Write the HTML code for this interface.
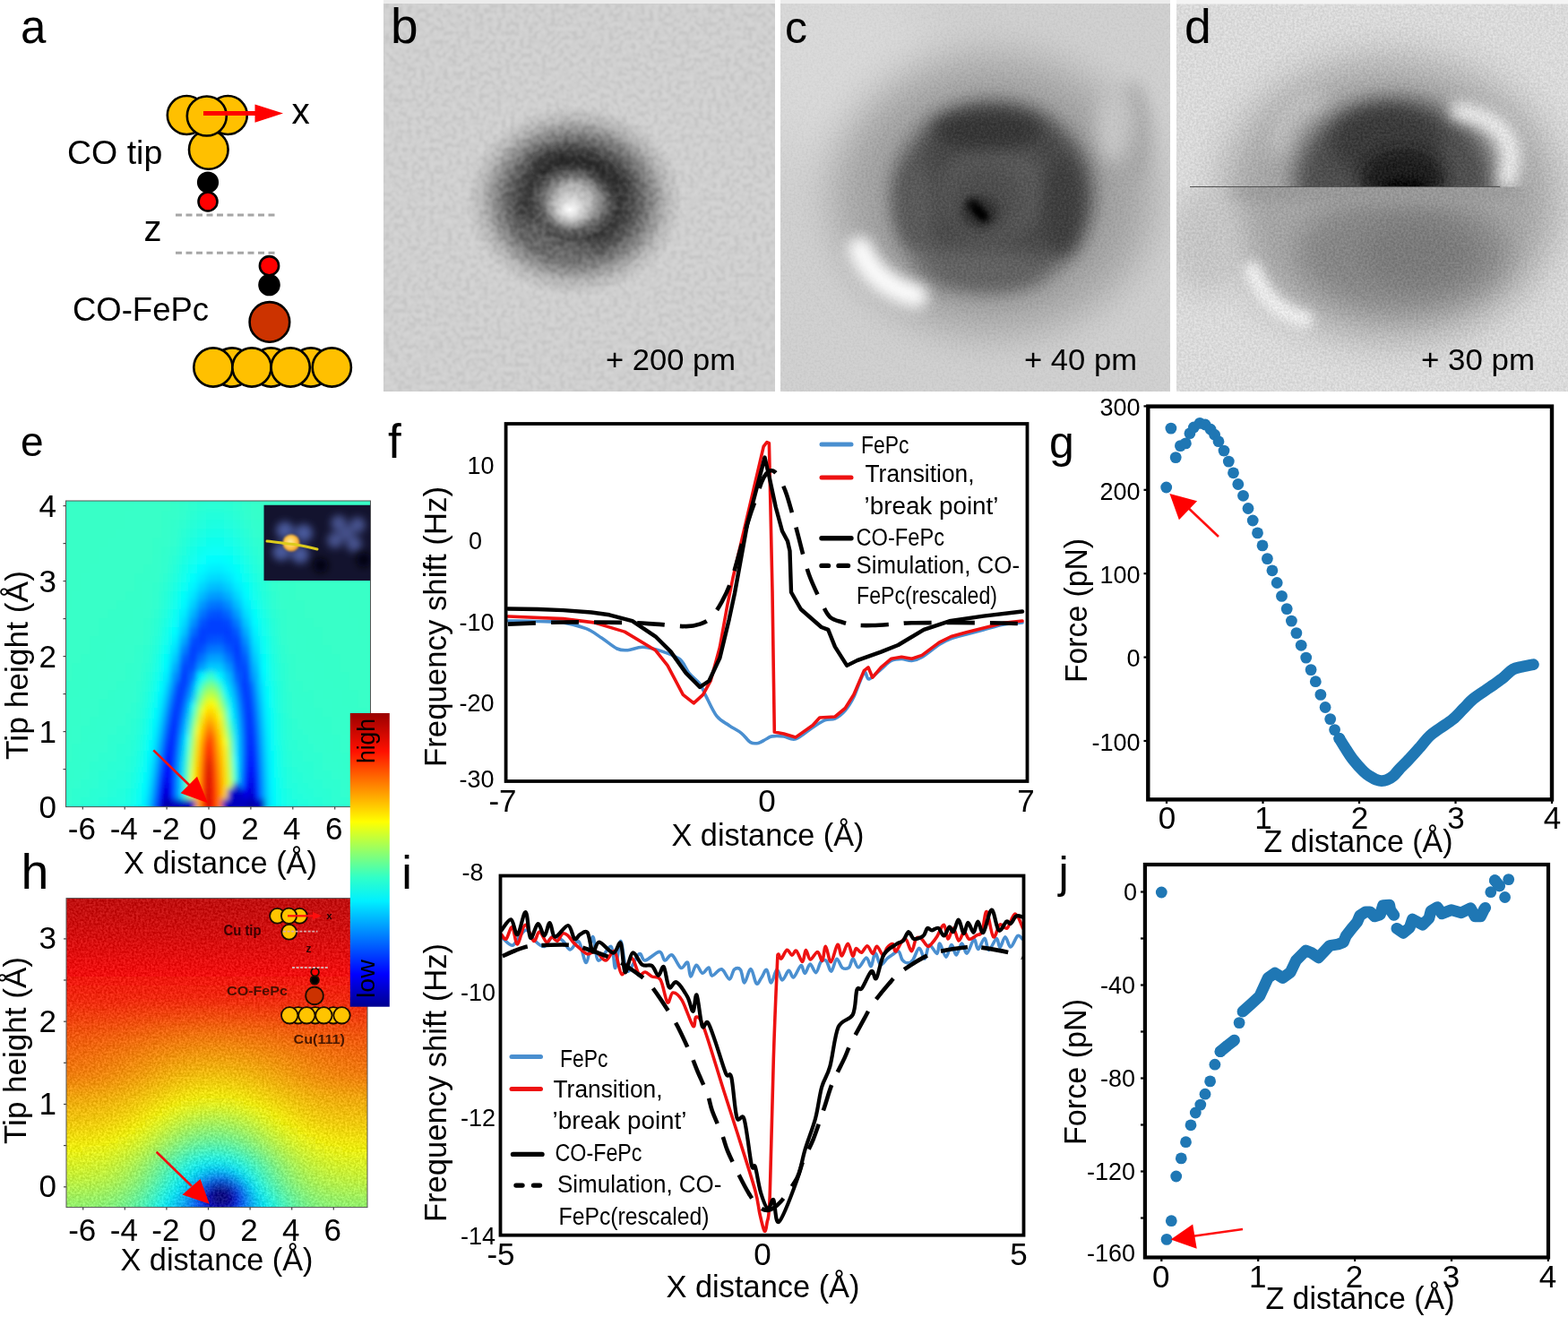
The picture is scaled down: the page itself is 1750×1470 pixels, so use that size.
<!DOCTYPE html>
<html><head><meta charset="utf-8"><title>Figure</title>
<style>
html,body{margin:0;padding:0;background:#fff;}
svg{display:block;}
text{font-family:"Liberation Sans", Arial, sans-serif;}
.hc6 rect{width:6px;height:6px;}
.hc12 rect{width:12px;height:12px;}
.hc10 rect{width:10px;height:10px;}
</style></head>
<body>
<svg width="1750" height="1470" viewBox="0 0 1750 1470">
<rect width="1750" height="1470" fill="#fff"/>
<defs>
<filter id="gn" x="0" y="0" width="100%" height="100%" color-interpolation-filters="sRGB">
<feTurbulence type="fractalNoise" baseFrequency="0.42" numOctaves="2" seed="3"/>
<feColorMatrix type="matrix" values="2.2 0 0 0 -0.6  2.2 0 0 0 -0.6  2.2 0 0 0 -0.6  0 0 0 0 1"/>
</filter>
<filter id="gnb" x="0" y="0" width="100%" height="100%" color-interpolation-filters="sRGB">
<feTurbulence type="fractalNoise" baseFrequency="0.2" numOctaves="2" seed="5"/>
<feColorMatrix type="matrix" values="2.6 0 0 0 -0.8  2.6 0 0 0 -0.8  2.6 0 0 0 -0.8  0 0 0 0 1"/>
<feGaussianBlur stdDeviation="0.8"/>
</filter>
<filter id="gn2" x="0" y="0" width="100%" height="100%" color-interpolation-filters="sRGB">
<feTurbulence type="fractalNoise" baseFrequency="0.12 0.35" numOctaves="2" seed="9"/>
<feColorMatrix type="matrix" values="2 0 0 0 -0.5  2 0 0 0 -0.5  2 0 0 0 -0.5  0 0 0 0 1"/>
</filter>
<filter id="b07" filterUnits="userSpaceOnUse" x="0" y="0" width="1750" height="1470"><feGaussianBlur stdDeviation="0.7"/></filter>
<filter id="b1" filterUnits="userSpaceOnUse" x="0" y="0" width="1750" height="1470"><feGaussianBlur stdDeviation="1"/></filter>
<filter id="b2" filterUnits="userSpaceOnUse" x="0" y="0" width="1750" height="1470"><feGaussianBlur stdDeviation="2"/></filter>
<filter id="b3" filterUnits="userSpaceOnUse" x="0" y="0" width="1750" height="1470"><feGaussianBlur stdDeviation="3"/></filter>
<filter id="b7" filterUnits="userSpaceOnUse" x="0" y="0" width="1750" height="1470"><feGaussianBlur stdDeviation="7"/></filter>
<filter id="b4" filterUnits="userSpaceOnUse" x="0" y="0" width="1750" height="1470"><feGaussianBlur stdDeviation="4"/></filter>
<filter id="b6" filterUnits="userSpaceOnUse" x="0" y="0" width="1750" height="1470"><feGaussianBlur stdDeviation="6"/></filter>
<filter id="b8" filterUnits="userSpaceOnUse" x="0" y="0" width="1750" height="1470"><feGaussianBlur stdDeviation="8"/></filter>
<filter id="b10" filterUnits="userSpaceOnUse" x="0" y="0" width="1750" height="1470"><feGaussianBlur stdDeviation="10"/></filter>
<filter id="b12" filterUnits="userSpaceOnUse" x="0" y="0" width="1750" height="1470"><feGaussianBlur stdDeviation="12"/></filter>
<filter id="b16" filterUnits="userSpaceOnUse" x="0" y="0" width="1750" height="1470"><feGaussianBlur stdDeviation="16"/></filter>
<filter id="b24" filterUnits="userSpaceOnUse" x="0" y="0" width="1750" height="1470"><feGaussianBlur stdDeviation="24"/></filter>
<filter id="b32" filterUnits="userSpaceOnUse" x="0" y="0" width="1750" height="1470"><feGaussianBlur stdDeviation="32"/></filter>
<linearGradient id="jet" x1="0" y1="1" x2="0" y2="0">
<stop offset="0" stop-color="#00008f"/>
<stop offset="0.11" stop-color="#0000ff"/>
<stop offset="0.36" stop-color="#00f0ff"/>
<stop offset="0.44" stop-color="#30ffc8"/>
<stop offset="0.63" stop-color="#ffff00"/>
<stop offset="0.87" stop-color="#ff1000"/>
<stop offset="1" stop-color="#9a0000"/>
</linearGradient>
<clipPath id="cb"><rect x="428" y="0" width="437" height="437"/></clipPath>
<clipPath id="cc"><rect x="871" y="0" width="435" height="437"/></clipPath>
<clipPath id="cd"><rect x="1313" y="0" width="437" height="437"/></clipPath>
<clipPath id="ce"><rect x="73.5" y="559" width="340" height="341.6"/></clipPath>
<clipPath id="ch"><rect x="74" y="1002.6" width="336" height="345"/></clipPath>
<clipPath id="cf"><rect x="566" y="475" width="579" height="395"/></clipPath>
<clipPath id="ci"><rect x="560" y="979" width="581" height="398"/></clipPath>
</defs>
<text x="23" y="48" font-size="51">a</text>
<circle cx="232.8" cy="167" r="21.8" fill="#ffc000" stroke="#000" stroke-width="2.6"/>
<circle cx="208.3" cy="128.5" r="21.5" fill="#ffc000" stroke="#000" stroke-width="2.6"/>
<circle cx="254.3" cy="128.5" r="21.5" fill="#ffc000" stroke="#000" stroke-width="2.6"/>
<circle cx="230.8" cy="129.5" r="22" fill="#ffc000" stroke="#000" stroke-width="2.6"/>
<circle cx="232" cy="203.5" r="10.8" fill="#000" stroke="#000" stroke-width="2.6"/>
<circle cx="232" cy="225" r="10.5" fill="#ff0000" stroke="#000" stroke-width="2.6"/>
<g stroke="#a6a6a6" stroke-width="3" stroke-dasharray="7,4.5"><line x1="196" y1="240" x2="308" y2="240"/><line x1="196" y1="282.2" x2="308" y2="282.2"/></g>
<line x1="227" y1="126.6" x2="287" y2="126.6" stroke="#ff0000" stroke-width="5"/>
<polygon points="284.5,116.5 316,126.6 284.5,136.8" fill="#ff0000"/>
<text x="325.5" y="138.4" font-size="40.5">x</text>
<text x="75" y="183.1" font-size="37.5">CO tip</text>
<text x="160.5" y="269.3" font-size="40">z</text>
<circle cx="300.5" cy="318" r="11" fill="#000" stroke="#000" stroke-width="2.6"/>
<circle cx="300.5" cy="296.7" r="10.6" fill="#ff0000" stroke="#000" stroke-width="2.6"/>
<circle cx="259" cy="410" r="21.6" fill="#ffc000" stroke="#000" stroke-width="2.6"/>
<circle cx="302.5" cy="410" r="21.6" fill="#ffc000" stroke="#000" stroke-width="2.6"/>
<circle cx="347" cy="410" r="21.6" fill="#ffc000" stroke="#000" stroke-width="2.6"/>
<circle cx="300.9" cy="359.4" r="22.3" fill="#cc3300" stroke="#000" stroke-width="2.6"/>
<circle cx="237.9" cy="410" r="21.6" fill="#ffc000" stroke="#000" stroke-width="2.6"/>
<circle cx="281" cy="410" r="21.6" fill="#ffc000" stroke="#000" stroke-width="2.6"/>
<circle cx="324.2" cy="410" r="21.6" fill="#ffc000" stroke="#000" stroke-width="2.6"/>
<circle cx="370.3" cy="410" r="21.6" fill="#ffc000" stroke="#000" stroke-width="2.6"/>
<text x="81" y="357.6" font-size="36" textLength="152" lengthAdjust="spacingAndGlyphs">CO-FePc</text>
<defs>
<radialGradient id="gb" cx="641" cy="224" r="112" gradientUnits="userSpaceOnUse" gradientTransform="translate(641 224) scale(1.08 0.95) translate(-641 -224)">
<stop offset="0" stop-color="#d0d0d0"/>
<stop offset="0.17" stop-color="#b0b0b0"/>
<stop offset="0.3" stop-color="#686868"/>
<stop offset="0.41" stop-color="#3a3a3a"/>
<stop offset="0.5" stop-color="#444"/>
<stop offset="0.61" stop-color="#646464"/>
<stop offset="0.74" stop-color="#909090"/>
<stop offset="0.85" stop-color="#b6b6b6"/>
<stop offset="1" stop-color="#cfcfcf"/>
</radialGradient>
<radialGradient id="gbw" cx="0.5" cy="0.5" r="0.5">
<stop offset="0" stop-color="#fff" stop-opacity="1"/>
<stop offset="0.3" stop-color="#f0f0f0" stop-opacity="0.75"/>
<stop offset="1" stop-color="#c0c0c0" stop-opacity="0"/>
</radialGradient>
</defs>
<g clip-path="url(#cb)">
<rect x="428" y="0" width="437" height="437" fill="#d2d2d2"/>
<rect x="428" y="0" width="437" height="437" fill="url(#gb)"/>
<path d="M598,188 Q650,160 692,212" stroke="#1a1a1a" stroke-width="18" fill="none" filter="url(#b8)" opacity="0.6"/><path d="M590,245 Q610,285 660,280" stroke="#9a9a9a" stroke-width="20" fill="none" filter="url(#b8)" opacity="0.45"/>
<ellipse cx="636" cy="234" rx="28" ry="24" fill="url(#gbw)"/>
<rect x="428" y="0" width="437" height="437" filter="url(#gnb)" style="mix-blend-mode:soft-light" opacity="0.26"/>
<rect x="428" y="0" width="437" height="4" fill="#ececec"/>
</g>
<g clip-path="url(#cc)">
<rect x="871" y="0" width="435" height="437" fill="#cfcfcf"/>
<ellipse cx="930" cy="70" rx="110" ry="110" fill="#d8d8d8" filter="url(#b32)"/>
<ellipse cx="1108" cy="218" rx="178" ry="155" fill="#a2a2a2" filter="url(#b24)"/>
<path d="M1262,95 Q1285,150 1262,200" stroke="#a2a2a2" stroke-width="16" fill="none" filter="url(#b10)"/>
<ellipse cx="1242" cy="142" rx="18" ry="40" fill="#c6c6c6" filter="url(#b10)"/>
<ellipse cx="1108" cy="218" rx="112" ry="104" fill="#5c5c5c" filter="url(#b12)"/>
<ellipse cx="1112" cy="212" rx="78" ry="70" fill="none" stroke="#474747" stroke-width="34" filter="url(#b12)"/>
<ellipse cx="1102" cy="146" rx="62" ry="22" fill="#363636" filter="url(#b10)"/>
<ellipse cx="1185" cy="230" rx="22" ry="55" fill="#3c3c3c" filter="url(#b10)"/>
<ellipse cx="1100" cy="222" rx="44" ry="40" fill="#4e4e4e" filter="url(#b12)"/>
<ellipse cx="1092" cy="300" rx="75" ry="22" fill="#646464" filter="url(#b12)"/>
<ellipse cx="1022" cy="230" rx="20" ry="50" fill="#5a5a5a" filter="url(#b10)"/>
<ellipse cx="1094" cy="237" rx="22" ry="18" fill="#303030" filter="url(#b6)"/>
<path d="M1085,228 L1098,242" stroke="#000" stroke-width="12" stroke-linecap="round" filter="url(#b4)"/>
<path d="M1090,234 L1097,241" stroke="#000" stroke-width="7" stroke-linecap="round" filter="url(#b2)"/>
<path d="M958,282 Q975,318 1018,330" stroke="#909090" stroke-width="26" fill="none" stroke-linecap="round" filter="url(#b12)" opacity="0.35" transform="translate(14,-14)"/>
<path d="M960,278 Q976,318 1022,330" stroke="#fcfcfc" stroke-width="28" fill="none" stroke-linecap="round" filter="url(#b8)"/>
<rect x="871" y="0" width="435" height="437" filter="url(#gn)" style="mix-blend-mode:soft-light" opacity="0.15"/>
<rect x="871" y="0" width="435" height="4" fill="#ececec"/>
</g>
<defs><clipPath id="cdt"><rect x="1313" y="0" width="437" height="208.5"/></clipPath><clipPath id="cdb"><rect x="1313" y="208.5" width="437" height="229"/></clipPath></defs>
<g clip-path="url(#cd)">
<rect x="1313" y="0" width="437" height="437" fill="#e2e2e2"/>
<ellipse cx="1552" cy="222" rx="188" ry="158" fill="#a8a8a8" filter="url(#b24)"/>
</g>
<g clip-path="url(#cdt)">
<ellipse cx="1556" cy="205" rx="112" ry="95" fill="#4c4c4c" filter="url(#b12)"/>
<ellipse cx="1548" cy="160" rx="62" ry="40" fill="#353535" filter="url(#b10)"/>
<ellipse cx="1566" cy="200" rx="48" ry="34" fill="#161616" filter="url(#b8)"/>
<ellipse cx="1568" cy="207" rx="24" ry="8" fill="#000" filter="url(#b4)"/>
<path d="M1425,165 Q1430,122 1470,110" stroke="#cacaca" stroke-width="16" fill="none" stroke-linecap="round" filter="url(#b10)"/>
<path d="M1628,124 Q1702,138 1682,200" stroke="#f8f8f8" stroke-width="20" fill="none" stroke-linecap="round" filter="url(#b8)"/>
</g>
<g clip-path="url(#cdb)">
<ellipse cx="1345" cy="270" rx="40" ry="60" fill="#cacaca" filter="url(#b16)"/>
<ellipse cx="1565" cy="282" rx="118" ry="64" fill="#868686" filter="url(#b16)"/>
<ellipse cx="1582" cy="282" rx="62" ry="36" fill="#7a7a7a" filter="url(#b12)"/>
<ellipse cx="1535" cy="214" rx="165" ry="12" fill="#9a9a9a" filter="url(#b8)"/>
<path d="M1398,302 Q1413,346 1456,357" stroke="#f4f4f4" stroke-width="20" fill="none" stroke-linecap="round" filter="url(#b6)"/>
</g>
<g clip-path="url(#cd)">
<line x1="1328" y1="208.5" x2="1674" y2="208.5" stroke="#505050" stroke-width="1.2"/>
<rect x="1313" y="0" width="437" height="437" filter="url(#gn)" style="mix-blend-mode:soft-light" opacity="0.08"/>
<rect x="1313" y="0" width="437" height="4.5" fill="#f4f4f4"/>
</g>
<text x="436" y="48" font-size="55">b</text>
<text x="876" y="47.9" font-size="50">c</text>
<text x="1322" y="47.9" font-size="53.5">d</text>
<text x="676" y="413" font-size="33" textLength="145" lengthAdjust="spacingAndGlyphs">+ 200 pm</text>
<text x="1143" y="413" font-size="33" textLength="126" lengthAdjust="spacingAndGlyphs">+ 40 pm</text>
<text x="1586" y="413" font-size="33" textLength="127" lengthAdjust="spacingAndGlyphs">+ 30 pm</text>
<rect x="73.5" y="559" width="340" height="341.6" fill="#38ffc7"/>
<g clip-path="url(#ce)"><g filter="url(#b3)"><g class="hc10"><rect x="60" y="550" fill="#38ffc7"/><rect x="70" y="550" fill="#38ffc7"/><rect x="80" y="550" fill="#38ffc7"/><rect x="90" y="550" fill="#38ffc7"/><rect x="100" y="550" fill="#38ffc7"/><rect x="110" y="550" fill="#38ffc7"/><rect x="120" y="550" fill="#38ffc7"/><rect x="130" y="550" fill="#38ffc7"/><rect x="140" y="550" fill="#38ffc7"/><rect x="150" y="550" fill="#38ffc7"/><rect x="160" y="550" fill="#37ffc8"/><rect x="170" y="550" fill="#37ffc8"/><rect x="180" y="550" fill="#37ffc8"/><rect x="190" y="550" fill="#36ffc9"/><rect x="200" y="550" fill="#34ffcb"/><rect x="210" y="550" fill="#32ffcd"/><rect x="220" y="550" fill="#2fffd0"/><rect x="230" y="550" fill="#2dffd2"/><rect x="240" y="550" fill="#2dffd2"/><rect x="250" y="550" fill="#2effd1"/><rect x="260" y="550" fill="#31ffce"/><rect x="270" y="550" fill="#34ffcb"/><rect x="280" y="550" fill="#36ffc9"/><rect x="290" y="550" fill="#37ffc8"/><rect x="300" y="550" fill="#37ffc8"/><rect x="310" y="550" fill="#38ffc7"/><rect x="320" y="550" fill="#38ffc7"/><rect x="330" y="550" fill="#38ffc7"/><rect x="340" y="550" fill="#38ffc7"/><rect x="350" y="550" fill="#38ffc7"/><rect x="360" y="550" fill="#38ffc7"/><rect x="370" y="550" fill="#38ffc7"/><rect x="380" y="550" fill="#38ffc7"/><rect x="390" y="550" fill="#38ffc7"/><rect x="400" y="550" fill="#38ffc7"/><rect x="410" y="550" fill="#38ffc7"/><rect x="60" y="560" fill="#38ffc7"/><rect x="70" y="560" fill="#38ffc7"/><rect x="80" y="560" fill="#38ffc7"/><rect x="90" y="560" fill="#38ffc7"/><rect x="100" y="560" fill="#38ffc7"/><rect x="110" y="560" fill="#38ffc7"/><rect x="120" y="560" fill="#38ffc7"/><rect x="130" y="560" fill="#38ffc7"/><rect x="140" y="560" fill="#38ffc7"/><rect x="150" y="560" fill="#37ffc8"/><rect x="160" y="560" fill="#37ffc8"/><rect x="170" y="560" fill="#37ffc8"/><rect x="180" y="560" fill="#37ffc8"/><rect x="190" y="560" fill="#36ffc9"/><rect x="200" y="560" fill="#33ffcc"/><rect x="210" y="560" fill="#2fffd0"/><rect x="220" y="560" fill="#2cffd3"/><rect x="230" y="560" fill="#29ffd6"/><rect x="240" y="560" fill="#29ffd6"/><rect x="250" y="560" fill="#2bffd4"/><rect x="260" y="560" fill="#2effd1"/><rect x="270" y="560" fill="#32ffcd"/><rect x="280" y="560" fill="#35ffca"/><rect x="290" y="560" fill="#37ffc8"/><rect x="300" y="560" fill="#37ffc8"/><rect x="310" y="560" fill="#37ffc8"/><rect x="320" y="560" fill="#38ffc7"/><rect x="330" y="560" fill="#38ffc7"/><rect x="340" y="560" fill="#38ffc7"/><rect x="350" y="560" fill="#38ffc7"/><rect x="360" y="560" fill="#38ffc7"/><rect x="370" y="560" fill="#38ffc7"/><rect x="380" y="560" fill="#38ffc7"/><rect x="390" y="560" fill="#38ffc7"/><rect x="400" y="560" fill="#38ffc7"/><rect x="410" y="560" fill="#38ffc7"/><rect x="60" y="570" fill="#38ffc7"/><rect x="70" y="570" fill="#38ffc7"/><rect x="80" y="570" fill="#38ffc7"/><rect x="90" y="570" fill="#38ffc7"/><rect x="100" y="570" fill="#38ffc7"/><rect x="110" y="570" fill="#38ffc7"/><rect x="120" y="570" fill="#38ffc7"/><rect x="130" y="570" fill="#38ffc7"/><rect x="140" y="570" fill="#37ffc8"/><rect x="150" y="570" fill="#37ffc8"/><rect x="160" y="570" fill="#37ffc8"/><rect x="170" y="570" fill="#37ffc8"/><rect x="180" y="570" fill="#36ffc9"/><rect x="190" y="570" fill="#35ffca"/><rect x="200" y="570" fill="#31ffce"/><rect x="210" y="570" fill="#2cffd3"/><rect x="220" y="570" fill="#27ffd8"/><rect x="230" y="570" fill="#24ffdb"/><rect x="240" y="570" fill="#24ffdb"/><rect x="250" y="570" fill="#26ffd9"/><rect x="260" y="570" fill="#2bffd4"/><rect x="270" y="570" fill="#30ffcf"/><rect x="280" y="570" fill="#34ffcb"/><rect x="290" y="570" fill="#36ffc9"/><rect x="300" y="570" fill="#37ffc8"/><rect x="310" y="570" fill="#37ffc8"/><rect x="320" y="570" fill="#38ffc7"/><rect x="330" y="570" fill="#38ffc7"/><rect x="340" y="570" fill="#38ffc7"/><rect x="350" y="570" fill="#38ffc7"/><rect x="360" y="570" fill="#38ffc7"/><rect x="370" y="570" fill="#38ffc7"/><rect x="380" y="570" fill="#38ffc7"/><rect x="390" y="570" fill="#38ffc7"/><rect x="400" y="570" fill="#38ffc7"/><rect x="410" y="570" fill="#38ffc7"/><rect x="60" y="580" fill="#38ffc7"/><rect x="70" y="580" fill="#38ffc7"/><rect x="80" y="580" fill="#38ffc7"/><rect x="90" y="580" fill="#38ffc7"/><rect x="100" y="580" fill="#38ffc7"/><rect x="110" y="580" fill="#38ffc7"/><rect x="120" y="580" fill="#38ffc7"/><rect x="130" y="580" fill="#38ffc7"/><rect x="140" y="580" fill="#37ffc8"/><rect x="150" y="580" fill="#37ffc8"/><rect x="160" y="580" fill="#37ffc8"/><rect x="170" y="580" fill="#37ffc8"/><rect x="180" y="580" fill="#36ffc9"/><rect x="190" y="580" fill="#33ffcc"/><rect x="200" y="580" fill="#2fffd0"/><rect x="210" y="580" fill="#28ffd7"/><rect x="220" y="580" fill="#23ffdc"/><rect x="230" y="580" fill="#1fffe0"/><rect x="240" y="580" fill="#1effe1"/><rect x="250" y="580" fill="#21ffde"/><rect x="260" y="580" fill="#26ffd9"/><rect x="270" y="580" fill="#2dffd2"/><rect x="280" y="580" fill="#32ffcd"/><rect x="290" y="580" fill="#35ffca"/><rect x="300" y="580" fill="#37ffc8"/><rect x="310" y="580" fill="#37ffc8"/><rect x="320" y="580" fill="#37ffc8"/><rect x="330" y="580" fill="#38ffc7"/><rect x="340" y="580" fill="#38ffc7"/><rect x="350" y="580" fill="#38ffc7"/><rect x="360" y="580" fill="#38ffc7"/><rect x="370" y="580" fill="#38ffc7"/><rect x="380" y="580" fill="#38ffc7"/><rect x="390" y="580" fill="#38ffc7"/><rect x="400" y="580" fill="#38ffc7"/><rect x="410" y="580" fill="#38ffc7"/><rect x="60" y="590" fill="#38ffc7"/><rect x="70" y="590" fill="#38ffc7"/><rect x="80" y="590" fill="#38ffc7"/><rect x="90" y="590" fill="#38ffc7"/><rect x="100" y="590" fill="#38ffc7"/><rect x="110" y="590" fill="#38ffc7"/><rect x="120" y="590" fill="#38ffc7"/><rect x="130" y="590" fill="#37ffc8"/><rect x="140" y="590" fill="#37ffc8"/><rect x="150" y="590" fill="#37ffc8"/><rect x="160" y="590" fill="#37ffc8"/><rect x="170" y="590" fill="#37ffc8"/><rect x="180" y="590" fill="#35ffca"/><rect x="190" y="590" fill="#32ffcd"/><rect x="200" y="590" fill="#2bffd4"/><rect x="210" y="590" fill="#24ffdb"/><rect x="220" y="590" fill="#1dffe2"/><rect x="230" y="590" fill="#19ffe6"/><rect x="240" y="590" fill="#18ffe7"/><rect x="250" y="590" fill="#1bffe4"/><rect x="260" y="590" fill="#21ffde"/><rect x="270" y="590" fill="#29ffd6"/><rect x="280" y="590" fill="#30ffcf"/><rect x="290" y="590" fill="#34ffcb"/><rect x="300" y="590" fill="#36ffc9"/><rect x="310" y="590" fill="#37ffc8"/><rect x="320" y="590" fill="#37ffc8"/><rect x="330" y="590" fill="#37ffc8"/><rect x="340" y="590" fill="#38ffc7"/><rect x="350" y="590" fill="#38ffc7"/><rect x="360" y="590" fill="#38ffc7"/><rect x="370" y="590" fill="#38ffc7"/><rect x="380" y="590" fill="#38ffc7"/><rect x="390" y="590" fill="#38ffc7"/><rect x="400" y="590" fill="#38ffc7"/><rect x="410" y="590" fill="#38ffc7"/><rect x="60" y="600" fill="#38ffc7"/><rect x="70" y="600" fill="#38ffc7"/><rect x="80" y="600" fill="#38ffc7"/><rect x="90" y="600" fill="#38ffc7"/><rect x="100" y="600" fill="#38ffc7"/><rect x="110" y="600" fill="#38ffc7"/><rect x="120" y="600" fill="#37ffc8"/><rect x="130" y="600" fill="#37ffc8"/><rect x="140" y="600" fill="#37ffc8"/><rect x="150" y="600" fill="#37ffc8"/><rect x="160" y="600" fill="#37ffc8"/><rect x="170" y="600" fill="#36ffc9"/><rect x="180" y="600" fill="#34ffcb"/><rect x="190" y="600" fill="#30ffcf"/><rect x="200" y="600" fill="#28ffd7"/><rect x="210" y="600" fill="#1fffe0"/><rect x="220" y="600" fill="#17ffe8"/><rect x="230" y="600" fill="#11ffee"/><rect x="240" y="600" fill="#11ffee"/><rect x="250" y="600" fill="#14ffeb"/><rect x="260" y="600" fill="#1cffe3"/><rect x="270" y="600" fill="#25ffda"/><rect x="280" y="600" fill="#2dffd2"/><rect x="290" y="600" fill="#33ffcc"/><rect x="300" y="600" fill="#36ffc9"/><rect x="310" y="600" fill="#37ffc8"/><rect x="320" y="600" fill="#37ffc8"/><rect x="330" y="600" fill="#37ffc8"/><rect x="340" y="600" fill="#37ffc8"/><rect x="350" y="600" fill="#38ffc7"/><rect x="360" y="600" fill="#38ffc7"/><rect x="370" y="600" fill="#38ffc7"/><rect x="380" y="600" fill="#38ffc7"/><rect x="390" y="600" fill="#38ffc7"/><rect x="400" y="600" fill="#38ffc7"/><rect x="410" y="600" fill="#38ffc7"/><rect x="60" y="610" fill="#38ffc7"/><rect x="70" y="610" fill="#38ffc7"/><rect x="80" y="610" fill="#38ffc7"/><rect x="90" y="610" fill="#38ffc7"/><rect x="100" y="610" fill="#38ffc7"/><rect x="110" y="610" fill="#37ffc8"/><rect x="120" y="610" fill="#37ffc8"/><rect x="130" y="610" fill="#37ffc8"/><rect x="140" y="610" fill="#37ffc8"/><rect x="150" y="610" fill="#37ffc8"/><rect x="160" y="610" fill="#37ffc8"/><rect x="170" y="610" fill="#36ffc9"/><rect x="180" y="610" fill="#33ffcc"/><rect x="190" y="610" fill="#2dffd2"/><rect x="200" y="610" fill="#23ffdc"/><rect x="210" y="610" fill="#19ffe6"/><rect x="220" y="610" fill="#0ffff0"/><rect x="230" y="610" fill="#09fff6"/><rect x="240" y="610" fill="#08fff7"/><rect x="250" y="610" fill="#0dfff2"/><rect x="260" y="610" fill="#15ffea"/><rect x="270" y="610" fill="#20ffdf"/><rect x="280" y="610" fill="#2affd5"/><rect x="290" y="610" fill="#32ffcd"/><rect x="300" y="610" fill="#35ffca"/><rect x="310" y="610" fill="#37ffc8"/><rect x="320" y="610" fill="#37ffc8"/><rect x="330" y="610" fill="#37ffc8"/><rect x="340" y="610" fill="#37ffc8"/><rect x="350" y="610" fill="#38ffc7"/><rect x="360" y="610" fill="#38ffc7"/><rect x="370" y="610" fill="#38ffc7"/><rect x="380" y="610" fill="#38ffc7"/><rect x="390" y="610" fill="#38ffc7"/><rect x="400" y="610" fill="#38ffc7"/><rect x="410" y="610" fill="#38ffc7"/><rect x="60" y="620" fill="#38ffc7"/><rect x="70" y="620" fill="#38ffc7"/><rect x="80" y="620" fill="#38ffc7"/><rect x="90" y="620" fill="#38ffc7"/><rect x="100" y="620" fill="#38ffc7"/><rect x="110" y="620" fill="#37ffc8"/><rect x="120" y="620" fill="#37ffc8"/><rect x="130" y="620" fill="#37ffc8"/><rect x="140" y="620" fill="#37ffc8"/><rect x="150" y="620" fill="#37ffc8"/><rect x="160" y="620" fill="#37ffc8"/><rect x="170" y="620" fill="#35ffca"/><rect x="180" y="620" fill="#32ffcd"/><rect x="190" y="620" fill="#2affd5"/><rect x="200" y="620" fill="#1effe1"/><rect x="210" y="620" fill="#12ffed"/><rect x="220" y="620" fill="#07fff8"/><rect x="230" y="620" fill="#00feff"/><rect x="240" y="620" fill="#00fdff"/><rect x="250" y="620" fill="#04fffb"/><rect x="260" y="620" fill="#0efff1"/><rect x="270" y="620" fill="#1affe5"/><rect x="280" y="620" fill="#26ffd9"/><rect x="290" y="620" fill="#30ffcf"/><rect x="300" y="620" fill="#35ffca"/><rect x="310" y="620" fill="#37ffc8"/><rect x="320" y="620" fill="#37ffc8"/><rect x="330" y="620" fill="#37ffc8"/><rect x="340" y="620" fill="#37ffc8"/><rect x="350" y="620" fill="#37ffc8"/><rect x="360" y="620" fill="#38ffc7"/><rect x="370" y="620" fill="#38ffc7"/><rect x="380" y="620" fill="#38ffc7"/><rect x="390" y="620" fill="#38ffc7"/><rect x="400" y="620" fill="#38ffc7"/><rect x="410" y="620" fill="#38ffc7"/><rect x="60" y="630" fill="#38ffc7"/><rect x="70" y="630" fill="#38ffc7"/><rect x="80" y="630" fill="#38ffc7"/><rect x="90" y="630" fill="#38ffc7"/><rect x="100" y="630" fill="#37ffc8"/><rect x="110" y="630" fill="#37ffc8"/><rect x="120" y="630" fill="#37ffc8"/><rect x="130" y="630" fill="#37ffc8"/><rect x="140" y="630" fill="#37ffc8"/><rect x="150" y="630" fill="#37ffc8"/><rect x="160" y="630" fill="#36ffc9"/><rect x="170" y="630" fill="#35ffca"/><rect x="180" y="630" fill="#30ffcf"/><rect x="190" y="630" fill="#26ffd9"/><rect x="200" y="630" fill="#19ffe6"/><rect x="210" y="630" fill="#0bfff4"/><rect x="220" y="630" fill="#00fbff"/><rect x="230" y="630" fill="#00f0ff"/><rect x="240" y="630" fill="#00eeff"/><rect x="250" y="630" fill="#00f7ff"/><rect x="260" y="630" fill="#06fff9"/><rect x="270" y="630" fill="#14ffeb"/><rect x="280" y="630" fill="#22ffdd"/><rect x="290" y="630" fill="#2dffd2"/><rect x="300" y="630" fill="#34ffcb"/><rect x="310" y="630" fill="#36ffc9"/><rect x="320" y="630" fill="#37ffc8"/><rect x="330" y="630" fill="#37ffc8"/><rect x="340" y="630" fill="#37ffc8"/><rect x="350" y="630" fill="#37ffc8"/><rect x="360" y="630" fill="#37ffc8"/><rect x="370" y="630" fill="#38ffc7"/><rect x="380" y="630" fill="#38ffc7"/><rect x="390" y="630" fill="#38ffc7"/><rect x="400" y="630" fill="#38ffc7"/><rect x="410" y="630" fill="#38ffc7"/><rect x="60" y="640" fill="#38ffc7"/><rect x="70" y="640" fill="#38ffc7"/><rect x="80" y="640" fill="#38ffc7"/><rect x="90" y="640" fill="#37ffc8"/><rect x="100" y="640" fill="#37ffc8"/><rect x="110" y="640" fill="#37ffc8"/><rect x="120" y="640" fill="#37ffc8"/><rect x="130" y="640" fill="#37ffc8"/><rect x="140" y="640" fill="#37ffc8"/><rect x="150" y="640" fill="#36ffc9"/><rect x="160" y="640" fill="#36ffc9"/><rect x="170" y="640" fill="#34ffcb"/><rect x="180" y="640" fill="#2effd1"/><rect x="190" y="640" fill="#22ffdd"/><rect x="200" y="640" fill="#13ffec"/><rect x="210" y="640" fill="#02fffd"/><rect x="220" y="640" fill="#00edff"/><rect x="230" y="640" fill="#00dcff"/><rect x="240" y="640" fill="#00d9ff"/><rect x="250" y="640" fill="#00e6ff"/><rect x="260" y="640" fill="#00faff"/><rect x="270" y="640" fill="#0efff1"/><rect x="280" y="640" fill="#1dffe2"/><rect x="290" y="640" fill="#2bffd4"/><rect x="300" y="640" fill="#33ffcc"/><rect x="310" y="640" fill="#36ffc9"/><rect x="320" y="640" fill="#37ffc8"/><rect x="330" y="640" fill="#37ffc8"/><rect x="340" y="640" fill="#37ffc8"/><rect x="350" y="640" fill="#37ffc8"/><rect x="360" y="640" fill="#37ffc8"/><rect x="370" y="640" fill="#38ffc7"/><rect x="380" y="640" fill="#38ffc7"/><rect x="390" y="640" fill="#38ffc7"/><rect x="400" y="640" fill="#38ffc7"/><rect x="410" y="640" fill="#38ffc7"/><rect x="60" y="650" fill="#38ffc7"/><rect x="70" y="650" fill="#38ffc7"/><rect x="80" y="650" fill="#38ffc7"/><rect x="90" y="650" fill="#37ffc8"/><rect x="100" y="650" fill="#37ffc8"/><rect x="110" y="650" fill="#37ffc8"/><rect x="120" y="650" fill="#37ffc8"/><rect x="130" y="650" fill="#37ffc8"/><rect x="140" y="650" fill="#37ffc8"/><rect x="150" y="650" fill="#36ffc9"/><rect x="160" y="650" fill="#35ffca"/><rect x="170" y="650" fill="#33ffcc"/><rect x="180" y="650" fill="#2bffd4"/><rect x="190" y="650" fill="#1dffe2"/><rect x="200" y="650" fill="#0cfff3"/><rect x="210" y="650" fill="#00f5ff"/><rect x="220" y="650" fill="#00d8ff"/><rect x="230" y="650" fill="#00c0ff"/><rect x="240" y="650" fill="#00bcff"/><rect x="250" y="650" fill="#00cfff"/><rect x="260" y="650" fill="#00ecff"/><rect x="270" y="650" fill="#06fff9"/><rect x="280" y="650" fill="#18ffe7"/><rect x="290" y="650" fill="#27ffd8"/><rect x="300" y="650" fill="#31ffce"/><rect x="310" y="650" fill="#35ffca"/><rect x="320" y="650" fill="#36ffc9"/><rect x="330" y="650" fill="#37ffc8"/><rect x="340" y="650" fill="#37ffc8"/><rect x="350" y="650" fill="#37ffc8"/><rect x="360" y="650" fill="#37ffc8"/><rect x="370" y="650" fill="#37ffc8"/><rect x="380" y="650" fill="#38ffc7"/><rect x="390" y="650" fill="#38ffc7"/><rect x="400" y="650" fill="#38ffc7"/><rect x="410" y="650" fill="#38ffc7"/><rect x="60" y="660" fill="#38ffc7"/><rect x="70" y="660" fill="#38ffc7"/><rect x="80" y="660" fill="#37ffc8"/><rect x="90" y="660" fill="#37ffc8"/><rect x="100" y="660" fill="#37ffc8"/><rect x="110" y="660" fill="#37ffc8"/><rect x="120" y="660" fill="#37ffc8"/><rect x="130" y="660" fill="#37ffc8"/><rect x="140" y="660" fill="#36ffc9"/><rect x="150" y="660" fill="#36ffc9"/><rect x="160" y="660" fill="#35ffca"/><rect x="170" y="660" fill="#31ffce"/><rect x="180" y="660" fill="#28ffd7"/><rect x="190" y="660" fill="#18ffe7"/><rect x="200" y="660" fill="#04fffb"/><rect x="210" y="660" fill="#00e5ff"/><rect x="220" y="660" fill="#00bcff"/><rect x="230" y="660" fill="#009dff"/><rect x="240" y="660" fill="#0099ff"/><rect x="250" y="660" fill="#00b0ff"/><rect x="260" y="660" fill="#00d8ff"/><rect x="270" y="660" fill="#00fbff"/><rect x="280" y="660" fill="#13ffec"/><rect x="290" y="660" fill="#24ffdb"/><rect x="300" y="660" fill="#2fffd0"/><rect x="310" y="660" fill="#35ffca"/><rect x="320" y="660" fill="#36ffc9"/><rect x="330" y="660" fill="#37ffc8"/><rect x="340" y="660" fill="#37ffc8"/><rect x="350" y="660" fill="#37ffc8"/><rect x="360" y="660" fill="#37ffc8"/><rect x="370" y="660" fill="#37ffc8"/><rect x="380" y="660" fill="#38ffc7"/><rect x="390" y="660" fill="#38ffc7"/><rect x="400" y="660" fill="#38ffc7"/><rect x="410" y="660" fill="#38ffc7"/><rect x="60" y="670" fill="#38ffc7"/><rect x="70" y="670" fill="#38ffc7"/><rect x="80" y="670" fill="#37ffc8"/><rect x="90" y="670" fill="#37ffc8"/><rect x="100" y="670" fill="#37ffc8"/><rect x="110" y="670" fill="#37ffc8"/><rect x="120" y="670" fill="#37ffc8"/><rect x="130" y="670" fill="#36ffc9"/><rect x="140" y="670" fill="#36ffc9"/><rect x="150" y="670" fill="#36ffc9"/><rect x="160" y="670" fill="#34ffcb"/><rect x="170" y="670" fill="#30ffcf"/><rect x="180" y="670" fill="#25ffda"/><rect x="190" y="670" fill="#13ffec"/><rect x="200" y="670" fill="#00faff"/><rect x="210" y="670" fill="#00d0ff"/><rect x="220" y="670" fill="#009aff"/><rect x="230" y="670" fill="#0077ff"/><rect x="240" y="670" fill="#0072ff"/><rect x="250" y="670" fill="#008cff"/><rect x="260" y="670" fill="#00beff"/><rect x="270" y="670" fill="#00efff"/><rect x="280" y="670" fill="#0cfff3"/><rect x="290" y="670" fill="#20ffdf"/><rect x="300" y="670" fill="#2dffd2"/><rect x="310" y="670" fill="#34ffcb"/><rect x="320" y="670" fill="#36ffc9"/><rect x="330" y="670" fill="#36ffc9"/><rect x="340" y="670" fill="#37ffc8"/><rect x="350" y="670" fill="#37ffc8"/><rect x="360" y="670" fill="#37ffc8"/><rect x="370" y="670" fill="#37ffc8"/><rect x="380" y="670" fill="#37ffc8"/><rect x="390" y="670" fill="#38ffc7"/><rect x="400" y="670" fill="#38ffc7"/><rect x="410" y="670" fill="#38ffc7"/><rect x="60" y="680" fill="#38ffc7"/><rect x="70" y="680" fill="#37ffc8"/><rect x="80" y="680" fill="#37ffc8"/><rect x="90" y="680" fill="#37ffc8"/><rect x="100" y="680" fill="#37ffc8"/><rect x="110" y="680" fill="#37ffc8"/><rect x="120" y="680" fill="#36ffc9"/><rect x="130" y="680" fill="#36ffc9"/><rect x="140" y="680" fill="#36ffc9"/><rect x="150" y="680" fill="#35ffca"/><rect x="160" y="680" fill="#34ffcb"/><rect x="170" y="680" fill="#2effd1"/><rect x="180" y="680" fill="#21ffde"/><rect x="190" y="680" fill="#0dfff2"/><rect x="200" y="680" fill="#00edff"/><rect x="210" y="680" fill="#00b4ff"/><rect x="220" y="680" fill="#0076ff"/><rect x="230" y="680" fill="#0055ff"/><rect x="240" y="680" fill="#0051ff"/><rect x="250" y="680" fill="#0067ff"/><rect x="260" y="680" fill="#009eff"/><rect x="270" y="680" fill="#00deff"/><rect x="280" y="680" fill="#05fffa"/><rect x="290" y="680" fill="#1bffe4"/><rect x="300" y="680" fill="#2bffd4"/><rect x="310" y="680" fill="#33ffcc"/><rect x="320" y="680" fill="#36ffc9"/><rect x="330" y="680" fill="#36ffc9"/><rect x="340" y="680" fill="#37ffc8"/><rect x="350" y="680" fill="#37ffc8"/><rect x="360" y="680" fill="#37ffc8"/><rect x="370" y="680" fill="#37ffc8"/><rect x="380" y="680" fill="#37ffc8"/><rect x="390" y="680" fill="#38ffc7"/><rect x="400" y="680" fill="#38ffc7"/><rect x="410" y="680" fill="#38ffc7"/><rect x="60" y="690" fill="#38ffc7"/><rect x="70" y="690" fill="#37ffc8"/><rect x="80" y="690" fill="#37ffc8"/><rect x="90" y="690" fill="#37ffc8"/><rect x="100" y="690" fill="#37ffc8"/><rect x="110" y="690" fill="#36ffc9"/><rect x="120" y="690" fill="#36ffc9"/><rect x="130" y="690" fill="#36ffc9"/><rect x="140" y="690" fill="#36ffc9"/><rect x="150" y="690" fill="#35ffca"/><rect x="160" y="690" fill="#33ffcc"/><rect x="170" y="690" fill="#2cffd3"/><rect x="180" y="690" fill="#1dffe2"/><rect x="190" y="690" fill="#07fff8"/><rect x="200" y="690" fill="#00ddff"/><rect x="210" y="690" fill="#0094ff"/><rect x="220" y="690" fill="#0055ff"/><rect x="230" y="690" fill="#0040ff"/><rect x="240" y="690" fill="#003fff"/><rect x="250" y="690" fill="#004aff"/><rect x="260" y="690" fill="#007bff"/><rect x="270" y="690" fill="#00c8ff"/><rect x="280" y="690" fill="#00fcff"/><rect x="290" y="690" fill="#17ffe8"/><rect x="300" y="690" fill="#28ffd7"/><rect x="310" y="690" fill="#32ffcd"/><rect x="320" y="690" fill="#35ffca"/><rect x="330" y="690" fill="#36ffc9"/><rect x="340" y="690" fill="#36ffc9"/><rect x="350" y="690" fill="#37ffc8"/><rect x="360" y="690" fill="#37ffc8"/><rect x="370" y="690" fill="#37ffc8"/><rect x="380" y="690" fill="#37ffc8"/><rect x="390" y="690" fill="#37ffc8"/><rect x="400" y="690" fill="#38ffc7"/><rect x="410" y="690" fill="#38ffc7"/><rect x="60" y="700" fill="#37ffc8"/><rect x="70" y="700" fill="#37ffc8"/><rect x="80" y="700" fill="#37ffc8"/><rect x="90" y="700" fill="#37ffc8"/><rect x="100" y="700" fill="#37ffc8"/><rect x="110" y="700" fill="#36ffc9"/><rect x="120" y="700" fill="#36ffc9"/><rect x="130" y="700" fill="#36ffc9"/><rect x="140" y="700" fill="#35ffca"/><rect x="150" y="700" fill="#35ffca"/><rect x="160" y="700" fill="#32ffcd"/><rect x="170" y="700" fill="#2affd5"/><rect x="180" y="700" fill="#18ffe7"/><rect x="190" y="700" fill="#00feff"/><rect x="200" y="700" fill="#00c8ff"/><rect x="210" y="700" fill="#0071ff"/><rect x="220" y="700" fill="#0040ff"/><rect x="230" y="700" fill="#003fff"/><rect x="240" y="700" fill="#0041ff"/><rect x="250" y="700" fill="#003dff"/><rect x="260" y="700" fill="#005bff"/><rect x="270" y="700" fill="#00aeff"/><rect x="280" y="700" fill="#00f2ff"/><rect x="290" y="700" fill="#12ffed"/><rect x="300" y="700" fill="#26ffd9"/><rect x="310" y="700" fill="#31ffce"/><rect x="320" y="700" fill="#35ffca"/><rect x="330" y="700" fill="#36ffc9"/><rect x="340" y="700" fill="#36ffc9"/><rect x="350" y="700" fill="#36ffc9"/><rect x="360" y="700" fill="#37ffc8"/><rect x="370" y="700" fill="#37ffc8"/><rect x="380" y="700" fill="#37ffc8"/><rect x="390" y="700" fill="#37ffc8"/><rect x="400" y="700" fill="#38ffc7"/><rect x="410" y="700" fill="#38ffc7"/><rect x="60" y="710" fill="#37ffc8"/><rect x="70" y="710" fill="#37ffc8"/><rect x="80" y="710" fill="#37ffc8"/><rect x="90" y="710" fill="#37ffc8"/><rect x="100" y="710" fill="#36ffc9"/><rect x="110" y="710" fill="#36ffc9"/><rect x="120" y="710" fill="#36ffc9"/><rect x="130" y="710" fill="#35ffca"/><rect x="140" y="710" fill="#35ffca"/><rect x="150" y="710" fill="#34ffcb"/><rect x="160" y="710" fill="#31ffce"/><rect x="170" y="710" fill="#26ffd9"/><rect x="180" y="710" fill="#13ffec"/><rect x="190" y="710" fill="#00f2ff"/><rect x="200" y="710" fill="#00a8ff"/><rect x="210" y="710" fill="#0050ff"/><rect x="220" y="710" fill="#003eff"/><rect x="230" y="710" fill="#0053ff"/><rect x="240" y="710" fill="#0056ff"/><rect x="250" y="710" fill="#0042ff"/><rect x="260" y="710" fill="#0045ff"/><rect x="270" y="710" fill="#0093ff"/><rect x="280" y="710" fill="#00e7ff"/><rect x="290" y="710" fill="#0efff1"/><rect x="300" y="710" fill="#23ffdc"/><rect x="310" y="710" fill="#30ffcf"/><rect x="320" y="710" fill="#34ffcb"/><rect x="330" y="710" fill="#35ffca"/><rect x="340" y="710" fill="#36ffc9"/><rect x="350" y="710" fill="#36ffc9"/><rect x="360" y="710" fill="#37ffc8"/><rect x="370" y="710" fill="#37ffc8"/><rect x="380" y="710" fill="#37ffc8"/><rect x="390" y="710" fill="#37ffc8"/><rect x="400" y="710" fill="#37ffc8"/><rect x="410" y="710" fill="#38ffc7"/><rect x="60" y="720" fill="#37ffc8"/><rect x="70" y="720" fill="#37ffc8"/><rect x="80" y="720" fill="#37ffc8"/><rect x="90" y="720" fill="#37ffc8"/><rect x="100" y="720" fill="#36ffc9"/><rect x="110" y="720" fill="#36ffc9"/><rect x="120" y="720" fill="#35ffca"/><rect x="130" y="720" fill="#35ffca"/><rect x="140" y="720" fill="#34ffcb"/><rect x="150" y="720" fill="#33ffcc"/><rect x="160" y="720" fill="#2fffd0"/><rect x="170" y="720" fill="#23ffdc"/><rect x="180" y="720" fill="#0cfff3"/><rect x="190" y="720" fill="#00e1ff"/><rect x="200" y="720" fill="#0084ff"/><rect x="210" y="720" fill="#003dff"/><rect x="220" y="720" fill="#0051ff"/><rect x="230" y="720" fill="#0077ff"/><rect x="240" y="720" fill="#007aff"/><rect x="250" y="720" fill="#0056ff"/><rect x="260" y="720" fill="#003bff"/><rect x="270" y="720" fill="#0078ff"/><rect x="280" y="720" fill="#00daff"/><rect x="290" y="720" fill="#0afff5"/><rect x="300" y="720" fill="#21ffde"/><rect x="310" y="720" fill="#2fffd0"/><rect x="320" y="720" fill="#34ffcb"/><rect x="330" y="720" fill="#35ffca"/><rect x="340" y="720" fill="#36ffc9"/><rect x="350" y="720" fill="#36ffc9"/><rect x="360" y="720" fill="#36ffc9"/><rect x="370" y="720" fill="#37ffc8"/><rect x="380" y="720" fill="#37ffc8"/><rect x="390" y="720" fill="#37ffc8"/><rect x="400" y="720" fill="#37ffc8"/><rect x="410" y="720" fill="#38ffc7"/><rect x="60" y="730" fill="#37ffc8"/><rect x="70" y="730" fill="#37ffc8"/><rect x="80" y="730" fill="#37ffc8"/><rect x="90" y="730" fill="#36ffc9"/><rect x="100" y="730" fill="#36ffc9"/><rect x="110" y="730" fill="#36ffc9"/><rect x="120" y="730" fill="#35ffca"/><rect x="130" y="730" fill="#35ffca"/><rect x="140" y="730" fill="#34ffcb"/><rect x="150" y="730" fill="#32ffcd"/><rect x="160" y="730" fill="#2dffd2"/><rect x="170" y="730" fill="#1effe1"/><rect x="180" y="730" fill="#05fffa"/><rect x="190" y="730" fill="#00ccff"/><rect x="200" y="730" fill="#0062ff"/><rect x="210" y="730" fill="#003cff"/><rect x="220" y="730" fill="#0073ff"/><rect x="230" y="730" fill="#00a2ff"/><rect x="240" y="730" fill="#00a3ff"/><rect x="250" y="730" fill="#0075ff"/><rect x="260" y="730" fill="#003dff"/><rect x="270" y="730" fill="#0061ff"/><rect x="280" y="730" fill="#00cbff"/><rect x="290" y="730" fill="#05fffa"/><rect x="300" y="730" fill="#1fffe0"/><rect x="310" y="730" fill="#2effd1"/><rect x="320" y="730" fill="#33ffcc"/><rect x="330" y="730" fill="#35ffca"/><rect x="340" y="730" fill="#35ffca"/><rect x="350" y="730" fill="#36ffc9"/><rect x="360" y="730" fill="#36ffc9"/><rect x="370" y="730" fill="#36ffc9"/><rect x="380" y="730" fill="#37ffc8"/><rect x="390" y="730" fill="#37ffc8"/><rect x="400" y="730" fill="#37ffc8"/><rect x="410" y="730" fill="#37ffc8"/><rect x="60" y="740" fill="#37ffc8"/><rect x="70" y="740" fill="#37ffc8"/><rect x="80" y="740" fill="#36ffc9"/><rect x="90" y="740" fill="#36ffc9"/><rect x="100" y="740" fill="#36ffc9"/><rect x="110" y="740" fill="#35ffca"/><rect x="120" y="740" fill="#35ffca"/><rect x="130" y="740" fill="#34ffcb"/><rect x="140" y="740" fill="#33ffcc"/><rect x="150" y="740" fill="#31ffce"/><rect x="160" y="740" fill="#2bffd4"/><rect x="170" y="740" fill="#1affe5"/><rect x="180" y="740" fill="#00fbff"/><rect x="190" y="740" fill="#00b1ff"/><rect x="200" y="740" fill="#0047ff"/><rect x="210" y="740" fill="#004eff"/><rect x="220" y="740" fill="#009dff"/><rect x="230" y="740" fill="#00cbff"/><rect x="240" y="740" fill="#00c9ff"/><rect x="250" y="740" fill="#0097ff"/><rect x="260" y="740" fill="#0049ff"/><rect x="270" y="740" fill="#004dff"/><rect x="280" y="740" fill="#00baff"/><rect x="290" y="740" fill="#00ffff"/><rect x="300" y="740" fill="#1cffe3"/><rect x="310" y="740" fill="#2cffd3"/><rect x="320" y="740" fill="#33ffcc"/><rect x="330" y="740" fill="#34ffcb"/><rect x="340" y="740" fill="#35ffca"/><rect x="350" y="740" fill="#35ffca"/><rect x="360" y="740" fill="#36ffc9"/><rect x="370" y="740" fill="#36ffc9"/><rect x="380" y="740" fill="#37ffc8"/><rect x="390" y="740" fill="#37ffc8"/><rect x="400" y="740" fill="#37ffc8"/><rect x="410" y="740" fill="#37ffc8"/><rect x="60" y="750" fill="#37ffc8"/><rect x="70" y="750" fill="#37ffc8"/><rect x="80" y="750" fill="#36ffc9"/><rect x="90" y="750" fill="#36ffc9"/><rect x="100" y="750" fill="#35ffca"/><rect x="110" y="750" fill="#35ffca"/><rect x="120" y="750" fill="#34ffcb"/><rect x="130" y="750" fill="#34ffcb"/><rect x="140" y="750" fill="#33ffcc"/><rect x="150" y="750" fill="#30ffcf"/><rect x="160" y="750" fill="#28ffd7"/><rect x="170" y="750" fill="#15ffea"/><rect x="180" y="750" fill="#00efff"/><rect x="190" y="750" fill="#0093ff"/><rect x="200" y="750" fill="#0038ff"/><rect x="210" y="750" fill="#006cff"/><rect x="220" y="750" fill="#00f8ff"/><rect x="230" y="750" fill="#34ffcb"/><rect x="240" y="750" fill="#00f6ff"/><rect x="250" y="750" fill="#00b9ff"/><rect x="260" y="750" fill="#005bff"/><rect x="270" y="750" fill="#003fff"/><rect x="280" y="750" fill="#00a9ff"/><rect x="290" y="750" fill="#00f9ff"/><rect x="300" y="750" fill="#1affe5"/><rect x="310" y="750" fill="#2bffd4"/><rect x="320" y="750" fill="#32ffcd"/><rect x="330" y="750" fill="#34ffcb"/><rect x="340" y="750" fill="#34ffcb"/><rect x="350" y="750" fill="#35ffca"/><rect x="360" y="750" fill="#36ffc9"/><rect x="370" y="750" fill="#36ffc9"/><rect x="380" y="750" fill="#36ffc9"/><rect x="390" y="750" fill="#37ffc8"/><rect x="400" y="750" fill="#37ffc8"/><rect x="410" y="750" fill="#37ffc8"/></g><g class="hc10"><rect x="60" y="760" fill="#37ffc8"/><rect x="70" y="760" fill="#36ffc9"/><rect x="80" y="760" fill="#36ffc9"/><rect x="90" y="760" fill="#36ffc9"/><rect x="100" y="760" fill="#35ffca"/><rect x="110" y="760" fill="#34ffcb"/><rect x="120" y="760" fill="#34ffcb"/><rect x="130" y="760" fill="#33ffcc"/><rect x="60" y="770" fill="#37ffc8"/><rect x="70" y="770" fill="#36ffc9"/><rect x="80" y="770" fill="#36ffc9"/><rect x="90" y="770" fill="#35ffca"/><rect x="100" y="770" fill="#35ffca"/><rect x="110" y="770" fill="#34ffcb"/><rect x="120" y="770" fill="#33ffcc"/><rect x="130" y="770" fill="#32ffcd"/><rect x="60" y="780" fill="#36ffc9"/><rect x="70" y="780" fill="#36ffc9"/><rect x="80" y="780" fill="#35ffca"/><rect x="90" y="780" fill="#35ffca"/><rect x="100" y="780" fill="#34ffcb"/><rect x="110" y="780" fill="#33ffcc"/><rect x="120" y="780" fill="#33ffcc"/><rect x="130" y="780" fill="#32ffcd"/><rect x="60" y="790" fill="#36ffc9"/><rect x="70" y="790" fill="#36ffc9"/><rect x="80" y="790" fill="#35ffca"/><rect x="90" y="790" fill="#34ffcb"/><rect x="100" y="790" fill="#34ffcb"/><rect x="110" y="790" fill="#33ffcc"/><rect x="120" y="790" fill="#32ffcd"/><rect x="130" y="790" fill="#31ffce"/><rect x="60" y="800" fill="#36ffc9"/><rect x="70" y="800" fill="#35ffca"/><rect x="80" y="800" fill="#35ffca"/><rect x="90" y="800" fill="#34ffcb"/><rect x="100" y="800" fill="#33ffcc"/><rect x="110" y="800" fill="#32ffcd"/><rect x="120" y="800" fill="#31ffce"/><rect x="130" y="800" fill="#30ffcf"/><rect x="60" y="810" fill="#36ffc9"/><rect x="70" y="810" fill="#35ffca"/><rect x="80" y="810" fill="#34ffcb"/><rect x="90" y="810" fill="#33ffcc"/><rect x="100" y="810" fill="#33ffcc"/><rect x="110" y="810" fill="#31ffce"/><rect x="120" y="810" fill="#30ffcf"/><rect x="130" y="810" fill="#2fffd0"/><rect x="60" y="820" fill="#35ffca"/><rect x="70" y="820" fill="#35ffca"/><rect x="80" y="820" fill="#34ffcb"/><rect x="90" y="820" fill="#33ffcc"/><rect x="100" y="820" fill="#32ffcd"/><rect x="110" y="820" fill="#31ffce"/><rect x="120" y="820" fill="#2fffd0"/><rect x="130" y="820" fill="#2effd1"/><rect x="60" y="830" fill="#35ffca"/><rect x="70" y="830" fill="#34ffcb"/><rect x="80" y="830" fill="#33ffcc"/><rect x="90" y="830" fill="#32ffcd"/><rect x="100" y="830" fill="#31ffce"/><rect x="110" y="830" fill="#30ffcf"/><rect x="120" y="830" fill="#2effd1"/><rect x="130" y="830" fill="#2cffd3"/><rect x="60" y="840" fill="#35ffca"/><rect x="70" y="840" fill="#34ffcb"/><rect x="80" y="840" fill="#33ffcc"/><rect x="90" y="840" fill="#32ffcd"/><rect x="100" y="840" fill="#30ffcf"/><rect x="110" y="840" fill="#2fffd0"/><rect x="120" y="840" fill="#2dffd2"/><rect x="130" y="840" fill="#2bffd4"/><rect x="60" y="850" fill="#34ffcb"/><rect x="70" y="850" fill="#33ffcc"/><rect x="80" y="850" fill="#32ffcd"/><rect x="90" y="850" fill="#31ffce"/><rect x="100" y="850" fill="#2fffd0"/><rect x="110" y="850" fill="#2dffd2"/><rect x="120" y="850" fill="#2bffd4"/><rect x="130" y="850" fill="#29ffd6"/><rect x="60" y="860" fill="#34ffcb"/><rect x="70" y="860" fill="#33ffcc"/><rect x="80" y="860" fill="#31ffce"/><rect x="90" y="860" fill="#30ffcf"/><rect x="100" y="860" fill="#2effd1"/><rect x="110" y="860" fill="#2cffd3"/><rect x="120" y="860" fill="#2affd5"/><rect x="130" y="860" fill="#27ffd8"/><rect x="60" y="870" fill="#33ffcc"/><rect x="70" y="870" fill="#32ffcd"/><rect x="80" y="870" fill="#30ffcf"/><rect x="90" y="870" fill="#2fffd0"/><rect x="100" y="870" fill="#2dffd2"/><rect x="110" y="870" fill="#2affd5"/><rect x="120" y="870" fill="#28ffd7"/><rect x="130" y="870" fill="#25ffda"/><rect x="60" y="880" fill="#33ffcc"/><rect x="70" y="880" fill="#31ffce"/><rect x="80" y="880" fill="#2fffd0"/><rect x="90" y="880" fill="#2effd1"/><rect x="100" y="880" fill="#2bffd4"/><rect x="110" y="880" fill="#29ffd6"/><rect x="120" y="880" fill="#26ffd9"/><rect x="130" y="880" fill="#23ffdc"/><rect x="60" y="890" fill="#32ffcd"/><rect x="70" y="890" fill="#30ffcf"/><rect x="80" y="890" fill="#2effd1"/><rect x="90" y="890" fill="#2cffd3"/><rect x="100" y="890" fill="#2affd5"/><rect x="110" y="890" fill="#27ffd8"/><rect x="120" y="890" fill="#24ffdb"/><rect x="130" y="890" fill="#20ffdf"/><rect x="60" y="900" fill="#32ffcd"/><rect x="70" y="900" fill="#30ffcf"/><rect x="80" y="900" fill="#2effd1"/><rect x="90" y="900" fill="#2bffd4"/><rect x="100" y="900" fill="#29ffd6"/><rect x="110" y="900" fill="#26ffd9"/><rect x="120" y="900" fill="#22ffdd"/><rect x="130" y="900" fill="#1effe1"/><rect x="60" y="910" fill="#32ffcd"/><rect x="70" y="910" fill="#30ffcf"/><rect x="80" y="910" fill="#2effd1"/><rect x="90" y="910" fill="#2bffd4"/><rect x="100" y="910" fill="#29ffd6"/><rect x="110" y="910" fill="#26ffd9"/><rect x="120" y="910" fill="#22ffdd"/><rect x="130" y="910" fill="#1effe1"/></g><g class="hc10"><rect x="340" y="760" fill="#34ffcb"/><rect x="350" y="760" fill="#35ffca"/><rect x="360" y="760" fill="#35ffca"/><rect x="370" y="760" fill="#36ffc9"/><rect x="380" y="760" fill="#36ffc9"/><rect x="390" y="760" fill="#37ffc8"/><rect x="400" y="760" fill="#37ffc8"/><rect x="410" y="760" fill="#37ffc8"/><rect x="340" y="770" fill="#33ffcc"/><rect x="350" y="770" fill="#34ffcb"/><rect x="360" y="770" fill="#35ffca"/><rect x="370" y="770" fill="#35ffca"/><rect x="380" y="770" fill="#36ffc9"/><rect x="390" y="770" fill="#36ffc9"/><rect x="400" y="770" fill="#37ffc8"/><rect x="410" y="770" fill="#37ffc8"/><rect x="340" y="780" fill="#33ffcc"/><rect x="350" y="780" fill="#34ffcb"/><rect x="360" y="780" fill="#34ffcb"/><rect x="370" y="780" fill="#35ffca"/><rect x="380" y="780" fill="#36ffc9"/><rect x="390" y="780" fill="#36ffc9"/><rect x="400" y="780" fill="#37ffc8"/><rect x="410" y="780" fill="#37ffc8"/><rect x="340" y="790" fill="#32ffcd"/><rect x="350" y="790" fill="#33ffcc"/><rect x="360" y="790" fill="#34ffcb"/><rect x="370" y="790" fill="#35ffca"/><rect x="380" y="790" fill="#35ffca"/><rect x="390" y="790" fill="#36ffc9"/><rect x="400" y="790" fill="#36ffc9"/><rect x="410" y="790" fill="#37ffc8"/><rect x="340" y="800" fill="#32ffcd"/><rect x="350" y="800" fill="#33ffcc"/><rect x="360" y="800" fill="#33ffcc"/><rect x="370" y="800" fill="#34ffcb"/><rect x="380" y="800" fill="#35ffca"/><rect x="390" y="800" fill="#36ffc9"/><rect x="400" y="800" fill="#36ffc9"/><rect x="410" y="800" fill="#37ffc8"/><rect x="340" y="810" fill="#31ffce"/><rect x="350" y="810" fill="#32ffcd"/><rect x="360" y="810" fill="#33ffcc"/><rect x="370" y="810" fill="#34ffcb"/><rect x="380" y="810" fill="#35ffca"/><rect x="390" y="810" fill="#35ffca"/><rect x="400" y="810" fill="#36ffc9"/><rect x="410" y="810" fill="#36ffc9"/><rect x="340" y="820" fill="#30ffcf"/><rect x="350" y="820" fill="#31ffce"/><rect x="360" y="820" fill="#32ffcd"/><rect x="370" y="820" fill="#33ffcc"/><rect x="380" y="820" fill="#34ffcb"/><rect x="390" y="820" fill="#35ffca"/><rect x="400" y="820" fill="#36ffc9"/><rect x="410" y="820" fill="#36ffc9"/><rect x="340" y="830" fill="#2fffd0"/><rect x="350" y="830" fill="#30ffcf"/><rect x="360" y="830" fill="#32ffcd"/><rect x="370" y="830" fill="#33ffcc"/><rect x="380" y="830" fill="#34ffcb"/><rect x="390" y="830" fill="#35ffca"/><rect x="400" y="830" fill="#35ffca"/><rect x="410" y="830" fill="#36ffc9"/><rect x="340" y="840" fill="#2effd1"/><rect x="350" y="840" fill="#2fffd0"/><rect x="360" y="840" fill="#31ffce"/><rect x="370" y="840" fill="#32ffcd"/><rect x="380" y="840" fill="#33ffcc"/><rect x="390" y="840" fill="#34ffcb"/><rect x="400" y="840" fill="#35ffca"/><rect x="410" y="840" fill="#36ffc9"/><rect x="340" y="850" fill="#2cffd3"/><rect x="350" y="850" fill="#2effd1"/><rect x="360" y="850" fill="#30ffcf"/><rect x="370" y="850" fill="#31ffce"/><rect x="380" y="850" fill="#33ffcc"/><rect x="390" y="850" fill="#34ffcb"/><rect x="400" y="850" fill="#35ffca"/><rect x="410" y="850" fill="#35ffca"/><rect x="340" y="860" fill="#2bffd4"/><rect x="350" y="860" fill="#2dffd2"/><rect x="360" y="860" fill="#2fffd0"/><rect x="370" y="860" fill="#30ffcf"/><rect x="380" y="860" fill="#32ffcd"/><rect x="390" y="860" fill="#33ffcc"/><rect x="400" y="860" fill="#34ffcb"/><rect x="410" y="860" fill="#35ffca"/><rect x="340" y="870" fill="#29ffd6"/><rect x="350" y="870" fill="#2bffd4"/><rect x="360" y="870" fill="#2effd1"/><rect x="370" y="870" fill="#2fffd0"/><rect x="380" y="870" fill="#31ffce"/><rect x="390" y="870" fill="#33ffcc"/><rect x="400" y="870" fill="#34ffcb"/><rect x="410" y="870" fill="#35ffca"/><rect x="340" y="880" fill="#27ffd8"/><rect x="350" y="880" fill="#2affd5"/><rect x="360" y="880" fill="#2cffd3"/><rect x="370" y="880" fill="#2effd1"/><rect x="380" y="880" fill="#30ffcf"/><rect x="390" y="880" fill="#32ffcd"/><rect x="400" y="880" fill="#33ffcc"/><rect x="410" y="880" fill="#34ffcb"/><rect x="340" y="890" fill="#25ffda"/><rect x="350" y="890" fill="#28ffd7"/><rect x="360" y="890" fill="#2bffd4"/><rect x="370" y="890" fill="#2dffd2"/><rect x="380" y="890" fill="#2fffd0"/><rect x="390" y="890" fill="#31ffce"/><rect x="400" y="890" fill="#33ffcc"/><rect x="410" y="890" fill="#34ffcb"/><rect x="340" y="900" fill="#24ffdb"/><rect x="350" y="900" fill="#27ffd8"/><rect x="360" y="900" fill="#2affd5"/><rect x="370" y="900" fill="#2cffd3"/><rect x="380" y="900" fill="#2fffd0"/><rect x="390" y="900" fill="#31ffce"/><rect x="400" y="900" fill="#32ffcd"/><rect x="410" y="900" fill="#34ffcb"/><rect x="340" y="910" fill="#24ffdb"/><rect x="350" y="910" fill="#27ffd8"/><rect x="360" y="910" fill="#2affd5"/><rect x="370" y="910" fill="#2cffd3"/><rect x="380" y="910" fill="#2fffd0"/><rect x="390" y="910" fill="#31ffce"/><rect x="400" y="910" fill="#32ffcd"/><rect x="410" y="910" fill="#34ffcb"/></g><g class="hc6"><rect x="140" y="760" fill="#32ffcd"/><rect x="146" y="760" fill="#31ffce"/><rect x="152" y="760" fill="#2fffd0"/><rect x="158" y="760" fill="#2bffd4"/><rect x="164" y="760" fill="#23ffdc"/><rect x="170" y="760" fill="#16ffe9"/><rect x="176" y="760" fill="#04fffb"/><rect x="182" y="760" fill="#00e4ff"/><rect x="188" y="760" fill="#00acff"/><rect x="194" y="760" fill="#0061ff"/><rect x="200" y="760" fill="#0036ff"/><rect x="206" y="760" fill="#004cff"/><rect x="212" y="760" fill="#008aff"/><rect x="218" y="760" fill="#00f4ff"/><rect x="224" y="760" fill="#40ffbf"/><rect x="230" y="760" fill="#6eff91"/><rect x="236" y="760" fill="#68ff97"/><rect x="242" y="760" fill="#2bffd4"/><rect x="248" y="760" fill="#00e8ff"/><rect x="254" y="760" fill="#00c0ff"/><rect x="260" y="760" fill="#0083ff"/><rect x="266" y="760" fill="#0047ff"/><rect x="272" y="760" fill="#0038ff"/><rect x="278" y="760" fill="#0069ff"/><rect x="284" y="760" fill="#00b3ff"/><rect x="290" y="760" fill="#00e9ff"/><rect x="296" y="760" fill="#07fff8"/><rect x="302" y="760" fill="#18ffe7"/><rect x="308" y="760" fill="#24ffdb"/><rect x="314" y="760" fill="#2cffd3"/><rect x="320" y="760" fill="#30ffcf"/><rect x="326" y="760" fill="#32ffcd"/><rect x="332" y="760" fill="#33ffcc"/><rect x="338" y="760" fill="#34ffcb"/><rect x="140" y="766" fill="#32ffcd"/><rect x="146" y="766" fill="#31ffce"/><rect x="152" y="766" fill="#2effd1"/><rect x="158" y="766" fill="#29ffd6"/><rect x="164" y="766" fill="#20ffdf"/><rect x="170" y="766" fill="#13ffec"/><rect x="176" y="766" fill="#00feff"/><rect x="182" y="766" fill="#00dbff"/><rect x="188" y="766" fill="#009bff"/><rect x="194" y="766" fill="#0051ff"/><rect x="200" y="766" fill="#0034ff"/><rect x="206" y="766" fill="#005bff"/><rect x="212" y="766" fill="#00a0ff"/><rect x="218" y="766" fill="#14ffeb"/><rect x="224" y="766" fill="#6bff94"/><rect x="230" y="766" fill="#96ff69"/><rect x="236" y="766" fill="#90ff6f"/><rect x="242" y="766" fill="#56ffa9"/><rect x="248" y="766" fill="#00f6ff"/><rect x="254" y="766" fill="#00d0ff"/><rect x="260" y="766" fill="#0093ff"/><rect x="266" y="766" fill="#0050ff"/><rect x="272" y="766" fill="#0035ff"/><rect x="278" y="766" fill="#005fff"/><rect x="284" y="766" fill="#00abff"/><rect x="290" y="766" fill="#00e4ff"/><rect x="296" y="766" fill="#04fffb"/><rect x="302" y="766" fill="#17ffe8"/><rect x="308" y="766" fill="#23ffdc"/><rect x="314" y="766" fill="#2cffd3"/><rect x="320" y="766" fill="#30ffcf"/><rect x="326" y="766" fill="#32ffcd"/><rect x="332" y="766" fill="#33ffcc"/><rect x="338" y="766" fill="#34ffcb"/><rect x="140" y="772" fill="#31ffce"/><rect x="146" y="772" fill="#30ffcf"/><rect x="152" y="772" fill="#2effd1"/><rect x="158" y="772" fill="#28ffd7"/><rect x="164" y="772" fill="#1effe1"/><rect x="170" y="772" fill="#10ffef"/><rect x="176" y="772" fill="#00f8ff"/><rect x="182" y="772" fill="#00d0ff"/><rect x="188" y="772" fill="#0089ff"/><rect x="194" y="772" fill="#0043ff"/><rect x="200" y="772" fill="#0037ff"/><rect x="206" y="772" fill="#006dff"/><rect x="212" y="772" fill="#00b6ff"/><rect x="218" y="772" fill="#36ffc9"/><rect x="224" y="772" fill="#90ff6f"/><rect x="230" y="772" fill="#baff45"/><rect x="236" y="772" fill="#b3ff4c"/><rect x="242" y="772" fill="#82ff7d"/><rect x="248" y="772" fill="#14ffeb"/><rect x="254" y="772" fill="#00deff"/><rect x="260" y="772" fill="#00a1ff"/><rect x="266" y="772" fill="#0059ff"/><rect x="272" y="772" fill="#0033ff"/><rect x="278" y="772" fill="#0055ff"/><rect x="284" y="772" fill="#00a2ff"/><rect x="290" y="772" fill="#00e0ff"/><rect x="296" y="772" fill="#02fffd"/><rect x="302" y="772" fill="#15ffea"/><rect x="308" y="772" fill="#23ffdc"/><rect x="314" y="772" fill="#2bffd4"/><rect x="320" y="772" fill="#2fffd0"/><rect x="326" y="772" fill="#32ffcd"/><rect x="332" y="772" fill="#33ffcc"/><rect x="338" y="772" fill="#33ffcc"/><rect x="140" y="778" fill="#31ffce"/><rect x="146" y="778" fill="#30ffcf"/><rect x="152" y="778" fill="#2dffd2"/><rect x="158" y="778" fill="#26ffd9"/><rect x="164" y="778" fill="#1cffe3"/><rect x="170" y="778" fill="#0cfff3"/><rect x="176" y="778" fill="#00f2ff"/><rect x="182" y="778" fill="#00c3ff"/><rect x="188" y="778" fill="#0078ff"/><rect x="194" y="778" fill="#0039ff"/><rect x="200" y="778" fill="#003eff"/><rect x="206" y="778" fill="#0081ff"/><rect x="212" y="778" fill="#00caff"/><rect x="218" y="778" fill="#58ffa7"/><rect x="224" y="778" fill="#b1ff4e"/><rect x="230" y="778" fill="#e3ff1c"/><rect x="236" y="778" fill="#d8ff27"/><rect x="242" y="778" fill="#9eff61"/><rect x="248" y="778" fill="#37ffc8"/><rect x="254" y="778" fill="#00eaff"/><rect x="260" y="778" fill="#00afff"/><rect x="266" y="778" fill="#0062ff"/><rect x="272" y="778" fill="#0033ff"/><rect x="278" y="778" fill="#004dff"/><rect x="284" y="778" fill="#0099ff"/><rect x="290" y="778" fill="#00dbff"/><rect x="296" y="778" fill="#00ffff"/><rect x="302" y="778" fill="#14ffeb"/><rect x="308" y="778" fill="#22ffdd"/><rect x="314" y="778" fill="#2affd5"/><rect x="320" y="778" fill="#2fffd0"/><rect x="326" y="778" fill="#31ffce"/><rect x="332" y="778" fill="#32ffcd"/><rect x="338" y="778" fill="#33ffcc"/><rect x="140" y="784" fill="#30ffcf"/><rect x="146" y="784" fill="#2fffd0"/><rect x="152" y="784" fill="#2bffd4"/><rect x="158" y="784" fill="#25ffda"/><rect x="164" y="784" fill="#19ffe6"/><rect x="170" y="784" fill="#08fff7"/><rect x="176" y="784" fill="#00ecff"/><rect x="182" y="784" fill="#00b6ff"/><rect x="188" y="784" fill="#0067ff"/><rect x="194" y="784" fill="#0031ff"/><rect x="200" y="784" fill="#0048ff"/><rect x="206" y="784" fill="#0094ff"/><rect x="212" y="784" fill="#02fffd"/><rect x="218" y="784" fill="#7cff83"/><rect x="224" y="784" fill="#d5ff2a"/><rect x="230" y="784" fill="#ffef00"/><rect x="236" y="784" fill="#fffd00"/><rect x="242" y="784" fill="#bcff43"/><rect x="248" y="784" fill="#5cffa3"/><rect x="254" y="784" fill="#00f4ff"/><rect x="260" y="784" fill="#00bbff"/><rect x="266" y="784" fill="#006cff"/><rect x="272" y="784" fill="#0033ff"/><rect x="278" y="784" fill="#0045ff"/><rect x="284" y="784" fill="#0091ff"/><rect x="290" y="784" fill="#00d6ff"/><rect x="296" y="784" fill="#00fcff"/><rect x="302" y="784" fill="#13ffec"/><rect x="308" y="784" fill="#21ffde"/><rect x="314" y="784" fill="#29ffd6"/><rect x="320" y="784" fill="#2effd1"/><rect x="326" y="784" fill="#31ffce"/><rect x="332" y="784" fill="#32ffcd"/><rect x="338" y="784" fill="#32ffcd"/><rect x="140" y="790" fill="#30ffcf"/><rect x="146" y="790" fill="#2effd1"/><rect x="152" y="790" fill="#2affd5"/><rect x="158" y="790" fill="#23ffdc"/><rect x="164" y="790" fill="#17ffe8"/><rect x="170" y="790" fill="#04fffb"/><rect x="176" y="790" fill="#00e4ff"/><rect x="182" y="790" fill="#00a8ff"/><rect x="188" y="790" fill="#0057ff"/><rect x="194" y="790" fill="#002dff"/><rect x="200" y="790" fill="#0055ff"/><rect x="206" y="790" fill="#00a7ff"/><rect x="212" y="790" fill="#1bffe4"/><rect x="218" y="790" fill="#97ff68"/><rect x="224" y="790" fill="#fcff03"/><rect x="230" y="790" fill="#ffd800"/><rect x="236" y="790" fill="#ffe300"/><rect x="242" y="790" fill="#dbff24"/><rect x="248" y="790" fill="#81ff7e"/><rect x="254" y="790" fill="#00fcff"/><rect x="260" y="790" fill="#00c6ff"/><rect x="266" y="790" fill="#0075ff"/><rect x="272" y="790" fill="#0034ff"/><rect x="278" y="790" fill="#003eff"/><rect x="284" y="790" fill="#0089ff"/><rect x="290" y="790" fill="#00d1ff"/><rect x="296" y="790" fill="#00faff"/><rect x="302" y="790" fill="#11ffee"/><rect x="308" y="790" fill="#20ffdf"/><rect x="314" y="790" fill="#29ffd6"/><rect x="320" y="790" fill="#2effd1"/><rect x="326" y="790" fill="#30ffcf"/><rect x="332" y="790" fill="#31ffce"/><rect x="338" y="790" fill="#32ffcd"/><rect x="140" y="796" fill="#2fffd0"/><rect x="146" y="796" fill="#2dffd2"/><rect x="152" y="796" fill="#29ffd6"/><rect x="158" y="796" fill="#21ffde"/><rect x="164" y="796" fill="#14ffeb"/><rect x="170" y="796" fill="#00ffff"/><rect x="176" y="796" fill="#00dcff"/><rect x="182" y="796" fill="#0099ff"/><rect x="188" y="796" fill="#0049ff"/><rect x="194" y="796" fill="#002dff"/><rect x="200" y="796" fill="#0064ff"/><rect x="206" y="796" fill="#00b9ff"/><rect x="212" y="796" fill="#34ffcb"/><rect x="218" y="796" fill="#b1ff4e"/><rect x="224" y="796" fill="#ffe600"/><rect x="230" y="796" fill="#ffbe00"/><rect x="236" y="796" fill="#ffd000"/><rect x="242" y="796" fill="#fcff03"/><rect x="248" y="796" fill="#96ff69"/><rect x="254" y="796" fill="#07fff8"/><rect x="260" y="796" fill="#00d0ff"/><rect x="266" y="796" fill="#007eff"/><rect x="272" y="796" fill="#0036ff"/><rect x="278" y="796" fill="#0038ff"/><rect x="284" y="796" fill="#0081ff"/><rect x="290" y="796" fill="#00ccff"/><rect x="296" y="796" fill="#00f8ff"/><rect x="302" y="796" fill="#10ffef"/><rect x="308" y="796" fill="#1fffe0"/><rect x="314" y="796" fill="#28ffd7"/><rect x="320" y="796" fill="#2dffd2"/><rect x="326" y="796" fill="#30ffcf"/><rect x="332" y="796" fill="#31ffce"/><rect x="338" y="796" fill="#32ffcd"/><rect x="140" y="802" fill="#2effd1"/><rect x="146" y="802" fill="#2cffd3"/><rect x="152" y="802" fill="#28ffd7"/><rect x="158" y="802" fill="#1fffe0"/><rect x="164" y="802" fill="#11ffee"/><rect x="170" y="802" fill="#00faff"/><rect x="176" y="802" fill="#00d2ff"/><rect x="182" y="802" fill="#008aff"/><rect x="188" y="802" fill="#003cff"/><rect x="194" y="802" fill="#002fff"/><rect x="200" y="802" fill="#0073ff"/><rect x="206" y="802" fill="#00c9ff"/><rect x="212" y="802" fill="#4dffb2"/><rect x="218" y="802" fill="#cdff32"/><rect x="224" y="802" fill="#ffd500"/><rect x="230" y="802" fill="#ffa100"/><rect x="236" y="802" fill="#ffbb00"/><rect x="242" y="802" fill="#ffeb00"/><rect x="248" y="802" fill="#abff54"/><rect x="254" y="802" fill="#21ffde"/><rect x="260" y="802" fill="#00d8ff"/><rect x="266" y="802" fill="#0086ff"/><rect x="272" y="802" fill="#0038ff"/><rect x="278" y="802" fill="#0033ff"/><rect x="284" y="802" fill="#0079ff"/><rect x="290" y="802" fill="#00c7ff"/><rect x="296" y="802" fill="#00f5ff"/><rect x="302" y="802" fill="#0efff1"/><rect x="308" y="802" fill="#1effe1"/><rect x="314" y="802" fill="#27ffd8"/><rect x="320" y="802" fill="#2cffd3"/><rect x="326" y="802" fill="#2fffd0"/><rect x="332" y="802" fill="#30ffcf"/><rect x="338" y="802" fill="#31ffce"/><rect x="140" y="808" fill="#2effd1"/><rect x="146" y="808" fill="#2bffd4"/><rect x="152" y="808" fill="#26ffd9"/><rect x="158" y="808" fill="#1dffe2"/><rect x="164" y="808" fill="#0efff1"/><rect x="170" y="808" fill="#00f5ff"/><rect x="176" y="808" fill="#00c8ff"/><rect x="182" y="808" fill="#007aff"/><rect x="188" y="808" fill="#0031ff"/><rect x="194" y="808" fill="#0033ff"/><rect x="200" y="808" fill="#0082ff"/><rect x="206" y="808" fill="#00d7ff"/><rect x="212" y="808" fill="#67ff98"/><rect x="218" y="808" fill="#e9ff16"/><rect x="224" y="808" fill="#ffc300"/><rect x="230" y="808" fill="#ff8000"/><rect x="236" y="808" fill="#ffa600"/><rect x="242" y="808" fill="#ffe000"/><rect x="248" y="808" fill="#c0ff3f"/><rect x="254" y="808" fill="#3bffc4"/><rect x="260" y="808" fill="#00deff"/><rect x="266" y="808" fill="#008cff"/><rect x="272" y="808" fill="#0039ff"/><rect x="278" y="808" fill="#002dff"/><rect x="284" y="808" fill="#0072ff"/><rect x="290" y="808" fill="#00c2ff"/><rect x="296" y="808" fill="#00f3ff"/><rect x="302" y="808" fill="#0dfff2"/><rect x="308" y="808" fill="#1dffe2"/><rect x="314" y="808" fill="#26ffd9"/><rect x="320" y="808" fill="#2cffd3"/><rect x="326" y="808" fill="#2effd1"/><rect x="332" y="808" fill="#30ffcf"/><rect x="338" y="808" fill="#31ffce"/><rect x="140" y="814" fill="#2dffd2"/><rect x="146" y="814" fill="#2affd5"/><rect x="152" y="814" fill="#25ffda"/><rect x="158" y="814" fill="#1bffe4"/><rect x="164" y="814" fill="#0bfff4"/><rect x="170" y="814" fill="#00f0ff"/><rect x="176" y="814" fill="#00bdff"/><rect x="182" y="814" fill="#006aff"/><rect x="188" y="814" fill="#0028ff"/><rect x="194" y="814" fill="#003aff"/><rect x="200" y="814" fill="#0092ff"/><rect x="206" y="814" fill="#00e3ff"/><rect x="212" y="814" fill="#80ff7f"/><rect x="218" y="814" fill="#fff800"/><rect x="224" y="814" fill="#ffb000"/><rect x="230" y="814" fill="#ff6300"/><rect x="236" y="814" fill="#ff8f00"/><rect x="242" y="814" fill="#ffd600"/><rect x="248" y="814" fill="#d5ff2a"/><rect x="254" y="814" fill="#55ffaa"/><rect x="260" y="814" fill="#00e4ff"/><rect x="266" y="814" fill="#0092ff"/><rect x="272" y="814" fill="#003aff"/><rect x="278" y="814" fill="#0028ff"/><rect x="284" y="814" fill="#006bff"/><rect x="290" y="814" fill="#00beff"/><rect x="296" y="814" fill="#00f1ff"/><rect x="302" y="814" fill="#0cfff3"/><rect x="308" y="814" fill="#1cffe3"/><rect x="314" y="814" fill="#26ffd9"/><rect x="320" y="814" fill="#2bffd4"/><rect x="326" y="814" fill="#2effd1"/><rect x="332" y="814" fill="#2fffd0"/><rect x="338" y="814" fill="#30ffcf"/><rect x="140" y="820" fill="#2cffd3"/><rect x="146" y="820" fill="#29ffd6"/><rect x="152" y="820" fill="#23ffdc"/><rect x="158" y="820" fill="#18ffe7"/><rect x="164" y="820" fill="#07fff8"/><rect x="170" y="820" fill="#00eaff"/><rect x="176" y="820" fill="#00b1ff"/><rect x="182" y="820" fill="#005bff"/><rect x="188" y="820" fill="#0020ff"/><rect x="194" y="820" fill="#0042ff"/><rect x="200" y="820" fill="#00a0ff"/><rect x="206" y="820" fill="#00fbff"/><rect x="212" y="820" fill="#90ff6f"/><rect x="218" y="820" fill="#ffe900"/><rect x="224" y="820" fill="#ff9c00"/><rect x="230" y="820" fill="#ff4500"/><rect x="236" y="820" fill="#ff7600"/><rect x="242" y="820" fill="#ffcc00"/><rect x="248" y="820" fill="#eaff15"/><rect x="254" y="820" fill="#70ff8f"/><rect x="260" y="820" fill="#00e8ff"/><rect x="266" y="820" fill="#0097ff"/><rect x="272" y="820" fill="#003bff"/><rect x="278" y="820" fill="#0023ff"/><rect x="284" y="820" fill="#0064ff"/><rect x="290" y="820" fill="#00b9ff"/><rect x="296" y="820" fill="#00eeff"/><rect x="302" y="820" fill="#0afff5"/><rect x="308" y="820" fill="#1bffe4"/><rect x="314" y="820" fill="#25ffda"/><rect x="320" y="820" fill="#2affd5"/><rect x="326" y="820" fill="#2dffd2"/><rect x="332" y="820" fill="#2effd1"/><rect x="338" y="820" fill="#2fffd0"/><rect x="140" y="826" fill="#2bffd4"/><rect x="146" y="826" fill="#28ffd7"/><rect x="152" y="826" fill="#21ffde"/><rect x="158" y="826" fill="#16ffe9"/><rect x="164" y="826" fill="#04fffb"/><rect x="170" y="826" fill="#00e3ff"/><rect x="176" y="826" fill="#00a5ff"/><rect x="182" y="826" fill="#004cff"/><rect x="188" y="826" fill="#001bff"/><rect x="194" y="826" fill="#004bff"/><rect x="200" y="826" fill="#00adff"/><rect x="206" y="826" fill="#0bfff4"/><rect x="212" y="826" fill="#a0ff5f"/><rect x="218" y="826" fill="#ffe100"/><rect x="224" y="826" fill="#ff8700"/><rect x="230" y="826" fill="#ff2100"/><rect x="236" y="826" fill="#ff6c00"/><rect x="242" y="826" fill="#ffc200"/><rect x="248" y="826" fill="#ffff00"/><rect x="254" y="826" fill="#84ff7b"/><rect x="260" y="826" fill="#00ebff"/><rect x="266" y="826" fill="#009aff"/><rect x="272" y="826" fill="#003bff"/><rect x="278" y="826" fill="#001eff"/><rect x="284" y="826" fill="#005eff"/><rect x="290" y="826" fill="#00b5ff"/><rect x="296" y="826" fill="#00ecff"/><rect x="302" y="826" fill="#09fff6"/><rect x="308" y="826" fill="#1affe5"/><rect x="314" y="826" fill="#24ffdb"/><rect x="320" y="826" fill="#29ffd6"/><rect x="326" y="826" fill="#2cffd3"/><rect x="332" y="826" fill="#2effd1"/><rect x="338" y="826" fill="#2fffd0"/><rect x="140" y="832" fill="#2affd5"/><rect x="146" y="832" fill="#27ffd8"/><rect x="152" y="832" fill="#20ffdf"/><rect x="158" y="832" fill="#14ffeb"/><rect x="164" y="832" fill="#00ffff"/><rect x="170" y="832" fill="#00dcff"/><rect x="176" y="832" fill="#0098ff"/><rect x="182" y="832" fill="#003dff"/><rect x="188" y="832" fill="#0017ff"/><rect x="194" y="832" fill="#0054ff"/><rect x="200" y="832" fill="#00b8ff"/><rect x="206" y="832" fill="#1affe5"/><rect x="212" y="832" fill="#afff50"/><rect x="218" y="832" fill="#ffd900"/><rect x="224" y="832" fill="#ff7400"/><rect x="230" y="832" fill="#ff0900"/><rect x="236" y="832" fill="#ff6200"/><rect x="242" y="832" fill="#ffb900"/><rect x="248" y="832" fill="#ffee00"/><rect x="254" y="832" fill="#90ff6f"/><rect x="260" y="832" fill="#00edff"/><rect x="266" y="832" fill="#009cff"/><rect x="272" y="832" fill="#0039ff"/><rect x="278" y="832" fill="#0019ff"/><rect x="284" y="832" fill="#0058ff"/><rect x="290" y="832" fill="#00b1ff"/><rect x="296" y="832" fill="#00eaff"/><rect x="302" y="832" fill="#08fff7"/><rect x="308" y="832" fill="#18ffe7"/><rect x="314" y="832" fill="#23ffdc"/><rect x="320" y="832" fill="#29ffd6"/><rect x="326" y="832" fill="#2bffd4"/><rect x="332" y="832" fill="#2dffd2"/><rect x="338" y="832" fill="#2effd1"/><rect x="140" y="838" fill="#29ffd6"/><rect x="146" y="838" fill="#25ffda"/><rect x="152" y="838" fill="#1effe1"/><rect x="158" y="838" fill="#11ffee"/><rect x="164" y="838" fill="#00fbff"/><rect x="170" y="838" fill="#00d4ff"/><rect x="176" y="838" fill="#008aff"/><rect x="182" y="838" fill="#002fff"/><rect x="188" y="838" fill="#0014ff"/><rect x="194" y="838" fill="#005cff"/><rect x="200" y="838" fill="#00c2ff"/><rect x="206" y="838" fill="#27ffd8"/><rect x="212" y="838" fill="#beff41"/><rect x="218" y="838" fill="#ffd200"/><rect x="224" y="838" fill="#ff6a00"/><rect x="230" y="838" fill="#fb0000"/><rect x="236" y="838" fill="#ff5900"/><rect x="242" y="838" fill="#ffb000"/><rect x="248" y="838" fill="#ffea00"/><rect x="254" y="838" fill="#9bff64"/><rect x="260" y="838" fill="#00f1ff"/><rect x="266" y="838" fill="#009cff"/><rect x="272" y="838" fill="#0037ff"/><rect x="278" y="838" fill="#0013ff"/><rect x="284" y="838" fill="#0051ff"/><rect x="290" y="838" fill="#00adff"/><rect x="296" y="838" fill="#00e8ff"/><rect x="302" y="838" fill="#06fff9"/><rect x="308" y="838" fill="#17ffe8"/><rect x="314" y="838" fill="#22ffdd"/><rect x="320" y="838" fill="#28ffd7"/><rect x="326" y="838" fill="#2bffd4"/><rect x="332" y="838" fill="#2cffd3"/><rect x="338" y="838" fill="#2dffd2"/><rect x="140" y="844" fill="#28ffd7"/><rect x="146" y="844" fill="#24ffdb"/><rect x="152" y="844" fill="#1cffe3"/><rect x="158" y="844" fill="#0efff1"/><rect x="164" y="844" fill="#00f7ff"/><rect x="170" y="844" fill="#00ccff"/><rect x="176" y="844" fill="#007bff"/><rect x="182" y="844" fill="#0021ff"/><rect x="188" y="844" fill="#0012ff"/><rect x="194" y="844" fill="#0065ff"/><rect x="200" y="844" fill="#00caff"/><rect x="206" y="844" fill="#34ffcb"/><rect x="212" y="844" fill="#ccff33"/><rect x="218" y="844" fill="#ffcb00"/><rect x="224" y="844" fill="#ff6000"/><rect x="230" y="844" fill="#eb0000"/><rect x="236" y="844" fill="#ff5000"/><rect x="242" y="844" fill="#ffa700"/><rect x="248" y="844" fill="#ffe600"/><rect x="254" y="844" fill="#a5ff5a"/><rect x="260" y="844" fill="#00fdff"/><rect x="266" y="844" fill="#009bff"/><rect x="272" y="844" fill="#0033ff"/><rect x="278" y="844" fill="#000cff"/><rect x="284" y="844" fill="#004bff"/><rect x="290" y="844" fill="#00a9ff"/><rect x="296" y="844" fill="#00e6ff"/><rect x="302" y="844" fill="#05fffa"/><rect x="308" y="844" fill="#16ffe9"/><rect x="314" y="844" fill="#21ffde"/><rect x="320" y="844" fill="#27ffd8"/><rect x="326" y="844" fill="#2affd5"/><rect x="332" y="844" fill="#2bffd4"/><rect x="338" y="844" fill="#2dffd2"/><rect x="140" y="850" fill="#27ffd8"/><rect x="146" y="850" fill="#22ffdd"/><rect x="152" y="850" fill="#1affe5"/><rect x="158" y="850" fill="#0bfff4"/><rect x="164" y="850" fill="#00f2ff"/><rect x="170" y="850" fill="#00c2ff"/><rect x="176" y="850" fill="#006cff"/><rect x="182" y="850" fill="#0014ff"/><rect x="188" y="850" fill="#0010ff"/><rect x="194" y="850" fill="#006cff"/><rect x="200" y="850" fill="#00d1ff"/><rect x="206" y="850" fill="#3fffc0"/><rect x="212" y="850" fill="#d9ff26"/><rect x="218" y="850" fill="#ffc400"/><rect x="224" y="850" fill="#ff5700"/><rect x="230" y="850" fill="#d70000"/><rect x="236" y="850" fill="#ff4800"/><rect x="242" y="850" fill="#ff9f00"/><rect x="248" y="850" fill="#ffe200"/><rect x="254" y="850" fill="#aeff51"/><rect x="260" y="850" fill="#0afff5"/><rect x="266" y="850" fill="#0099ff"/><rect x="272" y="850" fill="#002eff"/><rect x="278" y="850" fill="#0005ff"/><rect x="284" y="850" fill="#0045ff"/><rect x="290" y="850" fill="#00a5ff"/><rect x="296" y="850" fill="#00e3ff"/><rect x="302" y="850" fill="#04fffb"/><rect x="308" y="850" fill="#15ffea"/><rect x="314" y="850" fill="#20ffdf"/><rect x="320" y="850" fill="#26ffd9"/><rect x="326" y="850" fill="#29ffd6"/><rect x="332" y="850" fill="#2affd5"/><rect x="338" y="850" fill="#2cffd3"/><rect x="140" y="856" fill="#25ffda"/><rect x="146" y="856" fill="#20ffdf"/><rect x="152" y="856" fill="#17ffe8"/><rect x="158" y="856" fill="#08fff7"/><rect x="164" y="856" fill="#00edff"/><rect x="170" y="856" fill="#00b9ff"/><rect x="176" y="856" fill="#005dff"/><rect x="182" y="856" fill="#0006ff"/><rect x="188" y="856" fill="#000eff"/><rect x="194" y="856" fill="#0073ff"/><rect x="200" y="856" fill="#00d6ff"/><rect x="206" y="856" fill="#4affb5"/><rect x="212" y="856" fill="#e6ff19"/><rect x="218" y="856" fill="#ffbe00"/><rect x="224" y="856" fill="#ff4e00"/><rect x="230" y="856" fill="#d10000"/><rect x="236" y="856" fill="#ff4100"/><rect x="242" y="856" fill="#ff9800"/><rect x="248" y="856" fill="#ffde00"/><rect x="254" y="856" fill="#b7ff48"/><rect x="260" y="856" fill="#15ffea"/><rect x="266" y="856" fill="#0095ff"/><rect x="272" y="856" fill="#0027ff"/><rect x="278" y="856" fill="#0000fb"/><rect x="284" y="856" fill="#003eff"/><rect x="290" y="856" fill="#00a1ff"/><rect x="296" y="856" fill="#00e1ff"/><rect x="302" y="856" fill="#02fffd"/><rect x="308" y="856" fill="#14ffeb"/><rect x="314" y="856" fill="#1fffe0"/><rect x="320" y="856" fill="#24ffdb"/><rect x="326" y="856" fill="#28ffd7"/><rect x="332" y="856" fill="#29ffd6"/><rect x="338" y="856" fill="#2bffd4"/><rect x="140" y="862" fill="#24ffdb"/><rect x="146" y="862" fill="#1fffe0"/><rect x="152" y="862" fill="#15ffea"/><rect x="158" y="862" fill="#05fffa"/><rect x="164" y="862" fill="#00e8ff"/><rect x="170" y="862" fill="#00aeff"/><rect x="176" y="862" fill="#004cff"/><rect x="182" y="862" fill="#0000f8"/><rect x="188" y="862" fill="#000cff"/><rect x="194" y="862" fill="#0078ff"/><rect x="200" y="862" fill="#00daff"/><rect x="206" y="862" fill="#53ffac"/><rect x="212" y="862" fill="#f0ff0f"/><rect x="218" y="862" fill="#ffb900"/><rect x="224" y="862" fill="#ff4700"/><rect x="230" y="862" fill="#d10000"/><rect x="236" y="862" fill="#ff3a00"/><rect x="242" y="862" fill="#ff9200"/><rect x="248" y="862" fill="#ffdb00"/><rect x="254" y="862" fill="#beff41"/><rect x="260" y="862" fill="#1fffe0"/><rect x="266" y="862" fill="#0090ff"/><rect x="272" y="862" fill="#001eff"/><rect x="278" y="862" fill="#0000f2"/><rect x="284" y="862" fill="#0037ff"/><rect x="290" y="862" fill="#009dff"/><rect x="296" y="862" fill="#00dfff"/><rect x="302" y="862" fill="#01fffe"/><rect x="308" y="862" fill="#13ffec"/><rect x="314" y="862" fill="#1dffe2"/><rect x="320" y="862" fill="#23ffdc"/><rect x="326" y="862" fill="#26ffd9"/><rect x="332" y="862" fill="#28ffd7"/><rect x="338" y="862" fill="#2affd5"/><rect x="140" y="868" fill="#22ffdd"/><rect x="146" y="868" fill="#1dffe2"/><rect x="152" y="868" fill="#13ffec"/><rect x="158" y="868" fill="#02fffd"/><rect x="164" y="868" fill="#00e2ff"/><rect x="170" y="868" fill="#00a2ff"/><rect x="176" y="868" fill="#003bff"/><rect x="182" y="868" fill="#0000ea"/><rect x="188" y="868" fill="#0009ff"/><rect x="194" y="868" fill="#007cff"/><rect x="200" y="868" fill="#00ddff"/><rect x="206" y="868" fill="#5bffa4"/><rect x="212" y="868" fill="#faff05"/><rect x="218" y="868" fill="#ffb400"/><rect x="224" y="868" fill="#ff4000"/><rect x="230" y="868" fill="#d10000"/><rect x="236" y="868" fill="#ff3500"/><rect x="242" y="868" fill="#ff8d00"/><rect x="248" y="868" fill="#ffd900"/><rect x="254" y="868" fill="#c5ff3a"/><rect x="260" y="868" fill="#27ffd8"/><rect x="266" y="868" fill="#0088ff"/><rect x="272" y="868" fill="#0013ff"/><rect x="278" y="868" fill="#0000e7"/><rect x="284" y="868" fill="#0030ff"/><rect x="290" y="868" fill="#0099ff"/><rect x="296" y="868" fill="#00ddff"/><rect x="302" y="868" fill="#00ffff"/><rect x="308" y="868" fill="#11ffee"/><rect x="314" y="868" fill="#1cffe3"/><rect x="320" y="868" fill="#22ffdd"/><rect x="326" y="868" fill="#25ffda"/><rect x="332" y="868" fill="#27ffd8"/><rect x="338" y="868" fill="#29ffd6"/><rect x="140" y="874" fill="#21ffde"/><rect x="146" y="874" fill="#1bffe4"/><rect x="152" y="874" fill="#10ffef"/><rect x="158" y="874" fill="#00fdff"/><rect x="164" y="874" fill="#00dbff"/><rect x="170" y="874" fill="#0096ff"/><rect x="176" y="874" fill="#0029ff"/><rect x="182" y="874" fill="#0000db"/><rect x="188" y="874" fill="#0005ff"/><rect x="194" y="874" fill="#007eff"/><rect x="200" y="874" fill="#00deff"/><rect x="206" y="874" fill="#62ff9d"/><rect x="212" y="874" fill="#fffc00"/><rect x="218" y="874" fill="#ffb000"/><rect x="224" y="874" fill="#ff3a00"/><rect x="230" y="874" fill="#d10000"/><rect x="236" y="874" fill="#ff3000"/><rect x="242" y="874" fill="#ff8800"/><rect x="248" y="874" fill="#ffd700"/><rect x="254" y="874" fill="#cbff34"/><rect x="260" y="874" fill="#0000c7"/><rect x="266" y="874" fill="#007eff"/><rect x="272" y="874" fill="#0006ff"/><rect x="278" y="874" fill="#0000db"/><rect x="284" y="874" fill="#0029ff"/><rect x="290" y="874" fill="#0096ff"/><rect x="296" y="874" fill="#00dbff"/><rect x="302" y="874" fill="#00fdff"/><rect x="308" y="874" fill="#10ffef"/><rect x="314" y="874" fill="#1bffe4"/><rect x="320" y="874" fill="#21ffde"/><rect x="326" y="874" fill="#24ffdb"/><rect x="332" y="874" fill="#26ffd9"/><rect x="338" y="874" fill="#28ffd7"/><rect x="140" y="880" fill="#1fffe0"/><rect x="146" y="880" fill="#19ffe6"/><rect x="152" y="880" fill="#0dfff2"/><rect x="158" y="880" fill="#00f9ff"/><rect x="164" y="880" fill="#00d5ff"/><rect x="170" y="880" fill="#0088ff"/><rect x="176" y="880" fill="#0016ff"/><rect x="182" y="880" fill="#0000cb"/><rect x="188" y="880" fill="#0000ff"/><rect x="194" y="880" fill="#007fff"/><rect x="200" y="880" fill="#00deff"/><rect x="206" y="880" fill="#67ff98"/><rect x="212" y="880" fill="#fff600"/><rect x="218" y="880" fill="#ffad00"/><rect x="224" y="880" fill="#ff3600"/><rect x="230" y="880" fill="#d10000"/><rect x="236" y="880" fill="#ff2c00"/><rect x="242" y="880" fill="#ff8500"/><rect x="248" y="880" fill="#ffd500"/><rect x="254" y="880" fill="#0000c7"/><rect x="260" y="880" fill="#0000c7"/><rect x="266" y="880" fill="#0000c7"/><rect x="272" y="880" fill="#0000f5"/><rect x="278" y="880" fill="#0000ce"/><rect x="284" y="880" fill="#0021ff"/><rect x="290" y="880" fill="#0092ff"/><rect x="296" y="880" fill="#00d9ff"/><rect x="302" y="880" fill="#00fcff"/><rect x="308" y="880" fill="#0ffff0"/><rect x="314" y="880" fill="#19ffe6"/><rect x="320" y="880" fill="#1fffe0"/><rect x="326" y="880" fill="#22ffdd"/><rect x="332" y="880" fill="#25ffda"/><rect x="338" y="880" fill="#26ffd9"/><rect x="140" y="886" fill="#1dffe2"/><rect x="146" y="886" fill="#16ffe9"/><rect x="152" y="886" fill="#0bfff4"/><rect x="158" y="886" fill="#00f5ff"/><rect x="164" y="886" fill="#00cdff"/><rect x="170" y="886" fill="#007aff"/><rect x="176" y="886" fill="#0001ff"/><rect x="182" y="886" fill="#0000ba"/><rect x="188" y="886" fill="#0000f8"/><rect x="194" y="886" fill="#007dff"/><rect x="200" y="886" fill="#00ddff"/><rect x="206" y="886" fill="#6bff94"/><rect x="212" y="886" fill="#fff100"/><rect x="218" y="886" fill="#ffab00"/><rect x="224" y="886" fill="#ff3300"/><rect x="230" y="886" fill="#d10000"/><rect x="236" y="886" fill="#ff2a00"/><rect x="242" y="886" fill="#ff8200"/><rect x="248" y="886" fill="#ffd400"/><rect x="254" y="886" fill="#0000c7"/><rect x="260" y="886" fill="#0000c7"/><rect x="266" y="886" fill="#0000c7"/><rect x="272" y="886" fill="#0000e2"/><rect x="278" y="886" fill="#0000be"/><rect x="284" y="886" fill="#0018ff"/><rect x="290" y="886" fill="#008eff"/><rect x="296" y="886" fill="#00d7ff"/><rect x="302" y="886" fill="#00faff"/><rect x="308" y="886" fill="#0dfff2"/><rect x="314" y="886" fill="#18ffe7"/><rect x="320" y="886" fill="#1dffe2"/><rect x="326" y="886" fill="#21ffde"/><rect x="332" y="886" fill="#23ffdc"/><rect x="338" y="886" fill="#25ffda"/><rect x="140" y="892" fill="#1bffe4"/><rect x="146" y="892" fill="#14ffeb"/><rect x="152" y="892" fill="#08fff7"/><rect x="158" y="892" fill="#00f1ff"/><rect x="164" y="892" fill="#00c5ff"/><rect x="170" y="892" fill="#006aff"/><rect x="176" y="892" fill="#0000e9"/><rect x="182" y="892" fill="#0000a6"/><rect x="188" y="892" fill="#0000bd"/><rect x="194" y="892" fill="#0000bd"/><rect x="200" y="892" fill="#0000bd"/><rect x="206" y="892" fill="#0000bd"/><rect x="212" y="892" fill="#0000bd"/><rect x="218" y="892" fill="#ffaa00"/><rect x="224" y="892" fill="#ff3100"/><rect x="230" y="892" fill="#d10000"/><rect x="236" y="892" fill="#ff2800"/><rect x="242" y="892" fill="#ff8100"/><rect x="248" y="892" fill="#0000bd"/><rect x="254" y="892" fill="#0000bd"/><rect x="260" y="892" fill="#0000bd"/><rect x="266" y="892" fill="#0000bd"/><rect x="272" y="892" fill="#0000bd"/><rect x="278" y="892" fill="#0000ac"/><rect x="284" y="892" fill="#0000bd"/><rect x="290" y="892" fill="#0000bd"/><rect x="296" y="892" fill="#00d5ff"/><rect x="302" y="892" fill="#00f8ff"/><rect x="308" y="892" fill="#0bfff4"/><rect x="314" y="892" fill="#16ffe9"/><rect x="320" y="892" fill="#1cffe3"/><rect x="326" y="892" fill="#1fffe0"/><rect x="332" y="892" fill="#22ffdd"/><rect x="338" y="892" fill="#24ffdb"/><rect x="140" y="898" fill="#19ffe6"/><rect x="146" y="898" fill="#12ffed"/><rect x="152" y="898" fill="#05fffa"/><rect x="158" y="898" fill="#00edff"/><rect x="164" y="898" fill="#00bcff"/><rect x="170" y="898" fill="#0059ff"/><rect x="176" y="898" fill="#0000d1"/><rect x="182" y="898" fill="#000090"/><rect x="188" y="898" fill="#0000bd"/><rect x="194" y="898" fill="#0000bd"/><rect x="200" y="898" fill="#0000bd"/><rect x="206" y="898" fill="#0000bd"/><rect x="212" y="898" fill="#0000bd"/><rect x="218" y="898" fill="#ffaa00"/><rect x="224" y="898" fill="#ff3000"/><rect x="230" y="898" fill="#d10000"/><rect x="236" y="898" fill="#ff2800"/><rect x="242" y="898" fill="#ff8000"/><rect x="248" y="898" fill="#0000bd"/><rect x="254" y="898" fill="#0000bd"/><rect x="260" y="898" fill="#0000bd"/><rect x="266" y="898" fill="#0000bd"/><rect x="272" y="898" fill="#0000b2"/><rect x="278" y="898" fill="#000099"/><rect x="284" y="898" fill="#0000bd"/><rect x="290" y="898" fill="#0000bd"/><rect x="296" y="898" fill="#00d3ff"/><rect x="302" y="898" fill="#00f7ff"/><rect x="308" y="898" fill="#0afff5"/><rect x="314" y="898" fill="#14ffeb"/><rect x="320" y="898" fill="#1affe5"/><rect x="326" y="898" fill="#1effe1"/><rect x="332" y="898" fill="#20ffdf"/><rect x="338" y="898" fill="#22ffdd"/><rect x="140" y="904" fill="#19ffe6"/><rect x="146" y="904" fill="#12ffed"/><rect x="152" y="904" fill="#05fffa"/><rect x="158" y="904" fill="#00ecff"/><rect x="164" y="904" fill="#00baff"/><rect x="170" y="904" fill="#0050ff"/><rect x="176" y="904" fill="#0000bf"/><rect x="182" y="904" fill="#000080"/><rect x="188" y="904" fill="#0000bd"/><rect x="194" y="904" fill="#0000bd"/><rect x="200" y="904" fill="#0000bd"/><rect x="206" y="904" fill="#0000bd"/><rect x="212" y="904" fill="#0000bd"/><rect x="218" y="904" fill="#ffaa00"/><rect x="224" y="904" fill="#ff3100"/><rect x="230" y="904" fill="#d10000"/><rect x="236" y="904" fill="#ff2800"/><rect x="242" y="904" fill="#ff8100"/><rect x="248" y="904" fill="#0000bd"/><rect x="254" y="904" fill="#0000bd"/><rect x="260" y="904" fill="#0000bd"/><rect x="266" y="904" fill="#0000bd"/><rect x="272" y="904" fill="#00009c"/><rect x="278" y="904" fill="#000083"/><rect x="284" y="904" fill="#0000bd"/><rect x="290" y="904" fill="#0000bd"/><rect x="296" y="904" fill="#00d2ff"/><rect x="302" y="904" fill="#00f7ff"/><rect x="308" y="904" fill="#0afff5"/><rect x="314" y="904" fill="#14ffeb"/><rect x="320" y="904" fill="#1affe5"/><rect x="326" y="904" fill="#1effe1"/><rect x="332" y="904" fill="#20ffdf"/><rect x="338" y="904" fill="#22ffdd"/><rect x="140" y="910" fill="#19ffe6"/><rect x="146" y="910" fill="#12ffed"/><rect x="152" y="910" fill="#05fffa"/><rect x="158" y="910" fill="#00ecff"/><rect x="164" y="910" fill="#00b7ff"/><rect x="170" y="910" fill="#0047ff"/><rect x="176" y="910" fill="#0000ac"/><rect x="182" y="910" fill="#000080"/><rect x="188" y="910" fill="#0000b6"/><rect x="194" y="910" fill="#0000bd"/><rect x="200" y="910" fill="#0000bd"/><rect x="206" y="910" fill="#0000bd"/><rect x="212" y="910" fill="#0000bd"/><rect x="218" y="910" fill="#ffab00"/><rect x="224" y="910" fill="#ff3300"/><rect x="230" y="910" fill="#d10000"/><rect x="236" y="910" fill="#ff2a00"/><rect x="242" y="910" fill="#ff8200"/><rect x="248" y="910" fill="#0000bd"/><rect x="254" y="910" fill="#0000bd"/><rect x="260" y="910" fill="#0000bd"/><rect x="266" y="910" fill="#0000bd"/><rect x="272" y="910" fill="#000082"/><rect x="278" y="910" fill="#000080"/><rect x="284" y="910" fill="#0000bd"/><rect x="290" y="910" fill="#0000bd"/><rect x="296" y="910" fill="#00d1ff"/><rect x="302" y="910" fill="#00f6ff"/><rect x="308" y="910" fill="#0afff5"/><rect x="314" y="910" fill="#14ffeb"/><rect x="320" y="910" fill="#1affe5"/><rect x="326" y="910" fill="#1effe1"/><rect x="332" y="910" fill="#20ffdf"/><rect x="338" y="910" fill="#22ffdd"/></g></g></g>
<rect x="73.5" y="559" width="340" height="341.6" fill="none" stroke="#555" stroke-width="1"/>
<defs><clipPath id="cins"><rect x="294.3" y="563.5" width="119" height="84.8"/></clipPath></defs>
<g clip-path="url(#cins)">
<rect x="294.3" y="563.5" width="119" height="84.8" fill="#13132e"/>
<g filter="url(#b4)" fill="#4a5a9c"><circle cx="318" cy="592" r="10"/><circle cx="339" cy="595" r="10"/><circle cx="314" cy="616" r="10"/><circle cx="335" cy="619" r="10"/></g>
<g filter="url(#b4)" fill="#46528e"><circle cx="378" cy="584" r="9"/><circle cx="399" cy="586" r="9"/><circle cx="374" cy="603" r="9"/><circle cx="395" cy="607" r="9"/><circle cx="387" cy="595" r="7"/></g>
<g filter="url(#b4)" fill="#05050f"><circle cx="358" cy="631" r="8"/><circle cx="406" cy="625" r="8"/></g>
<defs><radialGradient id="gco" cx="0.45" cy="0.45" r="0.6"><stop offset="0" stop-color="#fff0a0"/><stop offset="0.6" stop-color="#ffc040"/><stop offset="1" stop-color="#e08a30"/></radialGradient></defs>
<circle cx="325" cy="606" r="9.5" fill="url(#gco)" filter="url(#b1)"/>
<path d="M298,604 C310,605 318,607 328,607.5 C338,609 345,611 354,613" stroke="#dccb1c" stroke-width="3" fill="none" stroke-linecap="round"/>
</g>
<g stroke="#444" stroke-width="1.2">
<line x1="70.5" y1="858.6" x2="73.5" y2="858.6"/>
<line x1="70.5" y1="816.6" x2="73.5" y2="816.6"/>
<line x1="70.5" y1="774.6" x2="73.5" y2="774.6"/>
<line x1="70.5" y1="732.6" x2="73.5" y2="732.6"/>
<line x1="70.5" y1="690.6" x2="73.5" y2="690.6"/>
<line x1="70.5" y1="648.6" x2="73.5" y2="648.6"/>
<line x1="70.5" y1="606.6" x2="73.5" y2="606.6"/>
<line x1="70.5" y1="564.6" x2="73.5" y2="564.6"/>
<line x1="92.3" y1="900.6" x2="92.3" y2="903.5"/>
<line x1="139.2" y1="900.6" x2="139.2" y2="903.5"/>
<line x1="186.1" y1="900.6" x2="186.1" y2="903.5"/>
<line x1="233" y1="900.6" x2="233" y2="903.5"/>
<line x1="279.9" y1="900.6" x2="279.9" y2="903.5"/>
<line x1="326.8" y1="900.6" x2="326.8" y2="903.5"/>
<line x1="373.7" y1="900.6" x2="373.7" y2="903.5"/>
</g>
<text x="63" y="912.9" font-size="35" text-anchor="end">0</text>
<text x="63" y="828.9" font-size="35" text-anchor="end">1</text>
<text x="63" y="744.9" font-size="35" text-anchor="end">2</text>
<text x="63" y="660.9" font-size="35" text-anchor="end">3</text>
<text x="63" y="576.9" font-size="35" text-anchor="end">4</text>
<text x="91.3" y="937" font-size="35" text-anchor="middle">-6</text>
<text x="138.2" y="937" font-size="35" text-anchor="middle">-4</text>
<text x="185.1" y="937" font-size="35" text-anchor="middle">-2</text>
<text x="232" y="937" font-size="35" text-anchor="middle">0</text>
<text x="278.9" y="937" font-size="35" text-anchor="middle">2</text>
<text x="325.8" y="937" font-size="35" text-anchor="middle">4</text>
<text x="372.7" y="937" font-size="35" text-anchor="middle">6</text>
<text x="138" y="975" font-size="35" textLength="216" lengthAdjust="spacingAndGlyphs">X distance (Å)</text>
<text transform="translate(31,848) rotate(-90)" font-size="35" textLength="211" lengthAdjust="spacingAndGlyphs">Tip height (Å)</text>
<text x="23" y="509" font-size="46">e</text>
<line x1="171.3" y1="837.4" x2="212" y2="877" stroke="#ee1111" stroke-width="2.6"/>
<polygon points="231.9,896.2 201.6,885.2 220,866.8" fill="#ff0000"/>
<g clip-path="url(#ch)"><g filter="url(#b6)"><g class="hc10"><rect x="62" y="990" fill="#c70000"/><rect x="72" y="990" fill="#c70000"/><rect x="82" y="990" fill="#c70000"/><rect x="92" y="990" fill="#c70000"/><rect x="102" y="990" fill="#c70000"/><rect x="112" y="990" fill="#c70000"/><rect x="122" y="990" fill="#c70000"/><rect x="132" y="990" fill="#c70000"/><rect x="142" y="990" fill="#c70000"/><rect x="152" y="990" fill="#c70000"/><rect x="162" y="990" fill="#c70000"/><rect x="172" y="990" fill="#c70000"/><rect x="182" y="990" fill="#c70000"/><rect x="192" y="990" fill="#c70000"/><rect x="202" y="990" fill="#c70000"/><rect x="212" y="990" fill="#c70000"/><rect x="222" y="990" fill="#c70000"/><rect x="232" y="990" fill="#c70000"/><rect x="242" y="990" fill="#c70000"/><rect x="252" y="990" fill="#c70000"/><rect x="262" y="990" fill="#c70000"/><rect x="272" y="990" fill="#c70000"/><rect x="282" y="990" fill="#c70000"/><rect x="292" y="990" fill="#c70000"/><rect x="302" y="990" fill="#c70000"/><rect x="312" y="990" fill="#c70000"/><rect x="322" y="990" fill="#c70000"/><rect x="332" y="990" fill="#c70000"/><rect x="342" y="990" fill="#c70000"/><rect x="352" y="990" fill="#c70000"/><rect x="362" y="990" fill="#c70000"/><rect x="372" y="990" fill="#c70000"/><rect x="382" y="990" fill="#c70000"/><rect x="392" y="990" fill="#c70000"/><rect x="402" y="990" fill="#c70000"/><rect x="412" y="990" fill="#c70000"/><rect x="422" y="990" fill="#c70000"/><rect x="62" y="1000" fill="#c90000"/><rect x="72" y="1000" fill="#c90000"/><rect x="82" y="1000" fill="#c90000"/><rect x="92" y="1000" fill="#c90000"/><rect x="102" y="1000" fill="#c90000"/><rect x="112" y="1000" fill="#c90000"/><rect x="122" y="1000" fill="#c90000"/><rect x="132" y="1000" fill="#c90000"/><rect x="142" y="1000" fill="#c90000"/><rect x="152" y="1000" fill="#c90000"/><rect x="162" y="1000" fill="#c90000"/><rect x="172" y="1000" fill="#c90000"/><rect x="182" y="1000" fill="#c90000"/><rect x="192" y="1000" fill="#c90000"/><rect x="202" y="1000" fill="#c90000"/><rect x="212" y="1000" fill="#c90000"/><rect x="222" y="1000" fill="#c90000"/><rect x="232" y="1000" fill="#c90000"/><rect x="242" y="1000" fill="#c90000"/><rect x="252" y="1000" fill="#c90000"/><rect x="262" y="1000" fill="#c90000"/><rect x="272" y="1000" fill="#c90000"/><rect x="282" y="1000" fill="#c90000"/><rect x="292" y="1000" fill="#c90000"/><rect x="302" y="1000" fill="#c90000"/><rect x="312" y="1000" fill="#c90000"/><rect x="322" y="1000" fill="#c90000"/><rect x="332" y="1000" fill="#c90000"/><rect x="342" y="1000" fill="#c90000"/><rect x="352" y="1000" fill="#c90000"/><rect x="362" y="1000" fill="#c90000"/><rect x="372" y="1000" fill="#c90000"/><rect x="382" y="1000" fill="#c90000"/><rect x="392" y="1000" fill="#c90000"/><rect x="402" y="1000" fill="#c90000"/><rect x="412" y="1000" fill="#c90000"/><rect x="422" y="1000" fill="#c90000"/><rect x="62" y="1010" fill="#ce0000"/><rect x="72" y="1010" fill="#ce0000"/><rect x="82" y="1010" fill="#ce0000"/><rect x="92" y="1010" fill="#ce0000"/><rect x="102" y="1010" fill="#ce0000"/><rect x="112" y="1010" fill="#ce0000"/><rect x="122" y="1010" fill="#ce0000"/><rect x="132" y="1010" fill="#ce0000"/><rect x="142" y="1010" fill="#ce0000"/><rect x="152" y="1010" fill="#ce0000"/><rect x="162" y="1010" fill="#ce0000"/><rect x="172" y="1010" fill="#ce0000"/><rect x="182" y="1010" fill="#ce0000"/><rect x="192" y="1010" fill="#ce0000"/><rect x="202" y="1010" fill="#ce0000"/><rect x="212" y="1010" fill="#ce0000"/><rect x="222" y="1010" fill="#ce0000"/><rect x="232" y="1010" fill="#ce0000"/><rect x="242" y="1010" fill="#ce0000"/><rect x="252" y="1010" fill="#ce0000"/><rect x="262" y="1010" fill="#ce0000"/><rect x="272" y="1010" fill="#ce0000"/><rect x="282" y="1010" fill="#ce0000"/><rect x="292" y="1010" fill="#ce0000"/><rect x="302" y="1010" fill="#ce0000"/><rect x="312" y="1010" fill="#ce0000"/><rect x="322" y="1010" fill="#ce0000"/><rect x="332" y="1010" fill="#ce0000"/><rect x="342" y="1010" fill="#ce0000"/><rect x="352" y="1010" fill="#ce0000"/><rect x="362" y="1010" fill="#ce0000"/><rect x="372" y="1010" fill="#ce0000"/><rect x="382" y="1010" fill="#ce0000"/><rect x="392" y="1010" fill="#ce0000"/><rect x="402" y="1010" fill="#ce0000"/><rect x="412" y="1010" fill="#ce0000"/><rect x="422" y="1010" fill="#ce0000"/><rect x="62" y="1020" fill="#d30000"/><rect x="72" y="1020" fill="#d30000"/><rect x="82" y="1020" fill="#d30000"/><rect x="92" y="1020" fill="#d30000"/><rect x="102" y="1020" fill="#d30000"/><rect x="112" y="1020" fill="#d30000"/><rect x="122" y="1020" fill="#d30000"/><rect x="132" y="1020" fill="#d30000"/><rect x="142" y="1020" fill="#d30000"/><rect x="152" y="1020" fill="#d30000"/><rect x="162" y="1020" fill="#d30000"/><rect x="172" y="1020" fill="#d30000"/><rect x="182" y="1020" fill="#d30000"/><rect x="192" y="1020" fill="#d30000"/><rect x="202" y="1020" fill="#d30000"/><rect x="212" y="1020" fill="#d30000"/><rect x="222" y="1020" fill="#d30000"/><rect x="232" y="1020" fill="#d30000"/><rect x="242" y="1020" fill="#d30000"/><rect x="252" y="1020" fill="#d30000"/><rect x="262" y="1020" fill="#d30000"/><rect x="272" y="1020" fill="#d30000"/><rect x="282" y="1020" fill="#d30000"/><rect x="292" y="1020" fill="#d30000"/><rect x="302" y="1020" fill="#d30000"/><rect x="312" y="1020" fill="#d30000"/><rect x="322" y="1020" fill="#d30000"/><rect x="332" y="1020" fill="#d30000"/><rect x="342" y="1020" fill="#d30000"/><rect x="352" y="1020" fill="#d30000"/><rect x="362" y="1020" fill="#d30000"/><rect x="372" y="1020" fill="#d30000"/><rect x="382" y="1020" fill="#d30000"/><rect x="392" y="1020" fill="#d30000"/><rect x="402" y="1020" fill="#d30000"/><rect x="412" y="1020" fill="#d30000"/><rect x="422" y="1020" fill="#d30000"/><rect x="62" y="1030" fill="#da0000"/><rect x="72" y="1030" fill="#da0000"/><rect x="82" y="1030" fill="#da0000"/><rect x="92" y="1030" fill="#da0000"/><rect x="102" y="1030" fill="#da0000"/><rect x="112" y="1030" fill="#da0000"/><rect x="122" y="1030" fill="#da0000"/><rect x="132" y="1030" fill="#da0000"/><rect x="142" y="1030" fill="#da0000"/><rect x="152" y="1030" fill="#da0000"/><rect x="162" y="1030" fill="#da0000"/><rect x="172" y="1030" fill="#da0000"/><rect x="182" y="1030" fill="#da0000"/><rect x="192" y="1030" fill="#da0000"/><rect x="202" y="1030" fill="#da0000"/><rect x="212" y="1030" fill="#da0000"/><rect x="222" y="1030" fill="#da0000"/><rect x="232" y="1030" fill="#da0000"/><rect x="242" y="1030" fill="#da0000"/><rect x="252" y="1030" fill="#da0000"/><rect x="262" y="1030" fill="#da0000"/><rect x="272" y="1030" fill="#da0000"/><rect x="282" y="1030" fill="#da0000"/><rect x="292" y="1030" fill="#da0000"/><rect x="302" y="1030" fill="#da0000"/><rect x="312" y="1030" fill="#da0000"/><rect x="322" y="1030" fill="#da0000"/><rect x="332" y="1030" fill="#da0000"/><rect x="342" y="1030" fill="#da0000"/><rect x="352" y="1030" fill="#da0000"/><rect x="362" y="1030" fill="#da0000"/><rect x="372" y="1030" fill="#da0000"/><rect x="382" y="1030" fill="#da0000"/><rect x="392" y="1030" fill="#da0000"/><rect x="402" y="1030" fill="#da0000"/><rect x="412" y="1030" fill="#da0000"/><rect x="422" y="1030" fill="#da0000"/><rect x="62" y="1040" fill="#e00000"/><rect x="72" y="1040" fill="#e00000"/><rect x="82" y="1040" fill="#e00000"/><rect x="92" y="1040" fill="#e00000"/><rect x="102" y="1040" fill="#e00000"/><rect x="112" y="1040" fill="#e00000"/><rect x="122" y="1040" fill="#e00000"/><rect x="132" y="1040" fill="#e00000"/><rect x="142" y="1040" fill="#e00000"/><rect x="152" y="1040" fill="#e00000"/><rect x="162" y="1040" fill="#e00000"/><rect x="172" y="1040" fill="#e00000"/><rect x="182" y="1040" fill="#e00000"/><rect x="192" y="1040" fill="#e00000"/><rect x="202" y="1040" fill="#e00000"/><rect x="212" y="1040" fill="#e00000"/><rect x="222" y="1040" fill="#e00000"/><rect x="232" y="1040" fill="#e00000"/><rect x="242" y="1040" fill="#e00000"/><rect x="252" y="1040" fill="#e00000"/><rect x="262" y="1040" fill="#e00000"/><rect x="272" y="1040" fill="#e00000"/><rect x="282" y="1040" fill="#e00000"/><rect x="292" y="1040" fill="#e00000"/><rect x="302" y="1040" fill="#e00000"/><rect x="312" y="1040" fill="#e00000"/><rect x="322" y="1040" fill="#e00000"/><rect x="332" y="1040" fill="#e00000"/><rect x="342" y="1040" fill="#e00000"/><rect x="352" y="1040" fill="#e00000"/><rect x="362" y="1040" fill="#e00000"/><rect x="372" y="1040" fill="#e00000"/><rect x="382" y="1040" fill="#e00000"/><rect x="392" y="1040" fill="#e00000"/><rect x="402" y="1040" fill="#e00000"/><rect x="412" y="1040" fill="#e00000"/><rect x="422" y="1040" fill="#e00000"/><rect x="62" y="1050" fill="#e70000"/><rect x="72" y="1050" fill="#e70000"/><rect x="82" y="1050" fill="#e70000"/><rect x="92" y="1050" fill="#e70000"/><rect x="102" y="1050" fill="#e70000"/><rect x="112" y="1050" fill="#e70000"/><rect x="122" y="1050" fill="#e70000"/><rect x="132" y="1050" fill="#e70000"/><rect x="142" y="1050" fill="#e70000"/><rect x="152" y="1050" fill="#e70000"/><rect x="162" y="1050" fill="#e70000"/><rect x="172" y="1050" fill="#e70000"/><rect x="182" y="1050" fill="#e70000"/><rect x="192" y="1050" fill="#e70000"/><rect x="202" y="1050" fill="#e70000"/><rect x="212" y="1050" fill="#e70000"/><rect x="222" y="1050" fill="#e70000"/><rect x="232" y="1050" fill="#e70000"/><rect x="242" y="1050" fill="#e70000"/><rect x="252" y="1050" fill="#e70000"/><rect x="262" y="1050" fill="#e70000"/><rect x="272" y="1050" fill="#e70000"/><rect x="282" y="1050" fill="#e70000"/><rect x="292" y="1050" fill="#e70000"/><rect x="302" y="1050" fill="#e70000"/><rect x="312" y="1050" fill="#e70000"/><rect x="322" y="1050" fill="#e70000"/><rect x="332" y="1050" fill="#e70000"/><rect x="342" y="1050" fill="#e70000"/><rect x="352" y="1050" fill="#e70000"/><rect x="362" y="1050" fill="#e70000"/><rect x="372" y="1050" fill="#e70000"/><rect x="382" y="1050" fill="#e70000"/><rect x="392" y="1050" fill="#e70000"/><rect x="402" y="1050" fill="#e70000"/><rect x="412" y="1050" fill="#e70000"/><rect x="422" y="1050" fill="#e70000"/><rect x="62" y="1060" fill="#ef0000"/><rect x="72" y="1060" fill="#ef0000"/><rect x="82" y="1060" fill="#ef0000"/><rect x="92" y="1060" fill="#ef0000"/><rect x="102" y="1060" fill="#ef0000"/><rect x="112" y="1060" fill="#ef0000"/><rect x="122" y="1060" fill="#ef0000"/><rect x="132" y="1060" fill="#ef0000"/><rect x="142" y="1060" fill="#ef0000"/><rect x="152" y="1060" fill="#ef0000"/><rect x="162" y="1060" fill="#ef0000"/><rect x="172" y="1060" fill="#ef0000"/><rect x="182" y="1060" fill="#ef0000"/><rect x="192" y="1060" fill="#ef0000"/><rect x="202" y="1060" fill="#ef0000"/><rect x="212" y="1060" fill="#ef0000"/><rect x="222" y="1060" fill="#ef0000"/><rect x="232" y="1060" fill="#ef0000"/><rect x="242" y="1060" fill="#ef0000"/><rect x="252" y="1060" fill="#ef0000"/><rect x="262" y="1060" fill="#ef0000"/><rect x="272" y="1060" fill="#ef0000"/><rect x="282" y="1060" fill="#ef0000"/><rect x="292" y="1060" fill="#ef0000"/><rect x="302" y="1060" fill="#ef0000"/><rect x="312" y="1060" fill="#ef0000"/><rect x="322" y="1060" fill="#ef0000"/><rect x="332" y="1060" fill="#ef0000"/><rect x="342" y="1060" fill="#ef0000"/><rect x="352" y="1060" fill="#ef0000"/><rect x="362" y="1060" fill="#ef0000"/><rect x="372" y="1060" fill="#ef0000"/><rect x="382" y="1060" fill="#ef0000"/><rect x="392" y="1060" fill="#ef0000"/><rect x="402" y="1060" fill="#ef0000"/><rect x="412" y="1060" fill="#ef0000"/><rect x="422" y="1060" fill="#ef0000"/><rect x="62" y="1070" fill="#f80000"/><rect x="72" y="1070" fill="#f80000"/><rect x="82" y="1070" fill="#f80000"/><rect x="92" y="1070" fill="#f80000"/><rect x="102" y="1070" fill="#f80000"/><rect x="112" y="1070" fill="#f80000"/><rect x="122" y="1070" fill="#f80000"/><rect x="132" y="1070" fill="#f80000"/><rect x="142" y="1070" fill="#f80000"/><rect x="152" y="1070" fill="#f80000"/><rect x="162" y="1070" fill="#f80000"/><rect x="172" y="1070" fill="#f80000"/><rect x="182" y="1070" fill="#f80000"/><rect x="192" y="1070" fill="#f80000"/><rect x="202" y="1070" fill="#f80000"/><rect x="212" y="1070" fill="#f80000"/><rect x="222" y="1070" fill="#f80000"/><rect x="232" y="1070" fill="#f80000"/><rect x="242" y="1070" fill="#f80000"/><rect x="252" y="1070" fill="#f80000"/><rect x="262" y="1070" fill="#f80000"/><rect x="272" y="1070" fill="#f80000"/><rect x="282" y="1070" fill="#f80000"/><rect x="292" y="1070" fill="#f80000"/><rect x="302" y="1070" fill="#f80000"/><rect x="312" y="1070" fill="#f80000"/><rect x="322" y="1070" fill="#f80000"/><rect x="332" y="1070" fill="#f80000"/><rect x="342" y="1070" fill="#f80000"/><rect x="352" y="1070" fill="#f80000"/><rect x="362" y="1070" fill="#f80000"/><rect x="372" y="1070" fill="#f80000"/><rect x="382" y="1070" fill="#f80000"/><rect x="392" y="1070" fill="#f80000"/><rect x="402" y="1070" fill="#f80000"/><rect x="412" y="1070" fill="#f80000"/><rect x="422" y="1070" fill="#f80000"/><rect x="62" y="1080" fill="#ff0200"/><rect x="72" y="1080" fill="#ff0200"/><rect x="82" y="1080" fill="#ff0200"/><rect x="92" y="1080" fill="#ff0200"/><rect x="102" y="1080" fill="#ff0200"/><rect x="112" y="1080" fill="#ff0200"/><rect x="122" y="1080" fill="#ff0200"/><rect x="132" y="1080" fill="#ff0200"/><rect x="142" y="1080" fill="#ff0200"/><rect x="152" y="1080" fill="#ff0200"/><rect x="162" y="1080" fill="#ff0200"/><rect x="172" y="1080" fill="#ff0200"/><rect x="182" y="1080" fill="#ff0200"/><rect x="192" y="1080" fill="#ff0200"/><rect x="202" y="1080" fill="#ff0200"/><rect x="212" y="1080" fill="#ff0200"/><rect x="222" y="1080" fill="#ff0200"/><rect x="232" y="1080" fill="#ff0200"/><rect x="242" y="1080" fill="#ff0200"/><rect x="252" y="1080" fill="#ff0200"/><rect x="262" y="1080" fill="#ff0200"/><rect x="272" y="1080" fill="#ff0200"/><rect x="282" y="1080" fill="#ff0200"/><rect x="292" y="1080" fill="#ff0200"/><rect x="302" y="1080" fill="#ff0200"/><rect x="312" y="1080" fill="#ff0200"/><rect x="322" y="1080" fill="#ff0200"/><rect x="332" y="1080" fill="#ff0200"/><rect x="342" y="1080" fill="#ff0200"/><rect x="352" y="1080" fill="#ff0200"/><rect x="362" y="1080" fill="#ff0200"/><rect x="372" y="1080" fill="#ff0200"/><rect x="382" y="1080" fill="#ff0200"/><rect x="392" y="1080" fill="#ff0200"/><rect x="402" y="1080" fill="#ff0200"/><rect x="412" y="1080" fill="#ff0200"/><rect x="422" y="1080" fill="#ff0200"/><rect x="62" y="1090" fill="#ff0b00"/><rect x="72" y="1090" fill="#ff0b00"/><rect x="82" y="1090" fill="#ff0b00"/><rect x="92" y="1090" fill="#ff0b00"/><rect x="102" y="1090" fill="#ff0b00"/><rect x="112" y="1090" fill="#ff0b00"/><rect x="122" y="1090" fill="#ff0b00"/><rect x="132" y="1090" fill="#ff0b00"/><rect x="142" y="1090" fill="#ff0b00"/><rect x="152" y="1090" fill="#ff0b00"/><rect x="162" y="1090" fill="#ff0b00"/><rect x="172" y="1090" fill="#ff0b00"/><rect x="182" y="1090" fill="#ff0b00"/><rect x="192" y="1090" fill="#ff0b00"/><rect x="202" y="1090" fill="#ff0b00"/><rect x="212" y="1090" fill="#ff0b00"/><rect x="222" y="1090" fill="#ff0b00"/><rect x="232" y="1090" fill="#ff0b00"/><rect x="242" y="1090" fill="#ff0b00"/><rect x="252" y="1090" fill="#ff0b00"/><rect x="262" y="1090" fill="#ff0b00"/><rect x="272" y="1090" fill="#ff0b00"/><rect x="282" y="1090" fill="#ff0b00"/><rect x="292" y="1090" fill="#ff0b00"/><rect x="302" y="1090" fill="#ff0b00"/><rect x="312" y="1090" fill="#ff0b00"/><rect x="322" y="1090" fill="#ff0b00"/><rect x="332" y="1090" fill="#ff0b00"/><rect x="342" y="1090" fill="#ff0b00"/><rect x="352" y="1090" fill="#ff0b00"/><rect x="362" y="1090" fill="#ff0b00"/><rect x="372" y="1090" fill="#ff0b00"/><rect x="382" y="1090" fill="#ff0b00"/><rect x="392" y="1090" fill="#ff0b00"/><rect x="402" y="1090" fill="#ff0b00"/><rect x="412" y="1090" fill="#ff0b00"/><rect x="422" y="1090" fill="#ff0b00"/><rect x="62" y="1100" fill="#ff1400"/><rect x="72" y="1100" fill="#ff1400"/><rect x="82" y="1100" fill="#ff1400"/><rect x="92" y="1100" fill="#ff1400"/><rect x="102" y="1100" fill="#ff1400"/><rect x="112" y="1100" fill="#ff1400"/><rect x="122" y="1100" fill="#ff1400"/><rect x="132" y="1100" fill="#ff1400"/><rect x="142" y="1100" fill="#ff1400"/><rect x="152" y="1100" fill="#ff1400"/><rect x="162" y="1100" fill="#ff1400"/><rect x="172" y="1100" fill="#ff1400"/><rect x="182" y="1100" fill="#ff1400"/><rect x="192" y="1100" fill="#ff1400"/><rect x="202" y="1100" fill="#ff1400"/><rect x="212" y="1100" fill="#ff1400"/><rect x="222" y="1100" fill="#ff1400"/><rect x="232" y="1100" fill="#ff1400"/><rect x="242" y="1100" fill="#ff1400"/><rect x="252" y="1100" fill="#ff1400"/><rect x="262" y="1100" fill="#ff1400"/><rect x="272" y="1100" fill="#ff1400"/><rect x="282" y="1100" fill="#ff1400"/><rect x="292" y="1100" fill="#ff1400"/><rect x="302" y="1100" fill="#ff1400"/><rect x="312" y="1100" fill="#ff1400"/><rect x="322" y="1100" fill="#ff1400"/><rect x="332" y="1100" fill="#ff1400"/><rect x="342" y="1100" fill="#ff1400"/><rect x="352" y="1100" fill="#ff1400"/><rect x="362" y="1100" fill="#ff1400"/><rect x="372" y="1100" fill="#ff1400"/><rect x="382" y="1100" fill="#ff1400"/><rect x="392" y="1100" fill="#ff1400"/><rect x="402" y="1100" fill="#ff1400"/><rect x="412" y="1100" fill="#ff1400"/><rect x="422" y="1100" fill="#ff1400"/><rect x="62" y="1110" fill="#ff1f00"/><rect x="72" y="1110" fill="#ff1f00"/><rect x="82" y="1110" fill="#ff1f00"/><rect x="92" y="1110" fill="#ff1f00"/><rect x="102" y="1110" fill="#ff1f00"/><rect x="112" y="1110" fill="#ff1f00"/><rect x="122" y="1110" fill="#ff1f00"/><rect x="132" y="1110" fill="#ff1f00"/><rect x="142" y="1110" fill="#ff1f00"/><rect x="152" y="1110" fill="#ff1f00"/><rect x="162" y="1110" fill="#ff1f00"/><rect x="172" y="1110" fill="#ff1f00"/><rect x="182" y="1110" fill="#ff1f00"/><rect x="192" y="1110" fill="#ff1f00"/><rect x="202" y="1110" fill="#ff1f00"/><rect x="212" y="1110" fill="#ff1f00"/><rect x="222" y="1110" fill="#ff1f00"/><rect x="232" y="1110" fill="#ff1f00"/><rect x="242" y="1110" fill="#ff1f00"/><rect x="252" y="1110" fill="#ff1f00"/><rect x="262" y="1110" fill="#ff1f00"/><rect x="272" y="1110" fill="#ff1f00"/><rect x="282" y="1110" fill="#ff1f00"/><rect x="292" y="1110" fill="#ff1f00"/><rect x="302" y="1110" fill="#ff1f00"/><rect x="312" y="1110" fill="#ff1f00"/><rect x="322" y="1110" fill="#ff1f00"/><rect x="332" y="1110" fill="#ff1f00"/><rect x="342" y="1110" fill="#ff1f00"/><rect x="352" y="1110" fill="#ff1f00"/><rect x="362" y="1110" fill="#ff1f00"/><rect x="372" y="1110" fill="#ff1f00"/><rect x="382" y="1110" fill="#ff1f00"/><rect x="392" y="1110" fill="#ff1f00"/><rect x="402" y="1110" fill="#ff1f00"/><rect x="412" y="1110" fill="#ff1f00"/><rect x="422" y="1110" fill="#ff1f00"/><rect x="62" y="1120" fill="#ff2900"/><rect x="72" y="1120" fill="#ff2a00"/><rect x="82" y="1120" fill="#ff2a00"/><rect x="92" y="1120" fill="#ff2a00"/><rect x="102" y="1120" fill="#ff2b00"/><rect x="112" y="1120" fill="#ff2b00"/><rect x="122" y="1120" fill="#ff2b00"/><rect x="132" y="1120" fill="#ff2c00"/><rect x="142" y="1120" fill="#ff2d00"/><rect x="152" y="1120" fill="#ff2d00"/><rect x="162" y="1120" fill="#ff2e00"/><rect x="172" y="1120" fill="#ff2e00"/><rect x="182" y="1120" fill="#ff2f00"/><rect x="192" y="1120" fill="#ff2f00"/><rect x="202" y="1120" fill="#ff3000"/><rect x="212" y="1120" fill="#ff3000"/><rect x="222" y="1120" fill="#ff3000"/><rect x="232" y="1120" fill="#ff3000"/><rect x="242" y="1120" fill="#ff3000"/><rect x="252" y="1120" fill="#ff3000"/><rect x="262" y="1120" fill="#ff3000"/><rect x="272" y="1120" fill="#ff3000"/><rect x="282" y="1120" fill="#ff2f00"/><rect x="292" y="1120" fill="#ff2f00"/><rect x="302" y="1120" fill="#ff2e00"/><rect x="312" y="1120" fill="#ff2d00"/><rect x="322" y="1120" fill="#ff2d00"/><rect x="332" y="1120" fill="#ff2c00"/><rect x="342" y="1120" fill="#ff2c00"/><rect x="352" y="1120" fill="#ff2b00"/><rect x="362" y="1120" fill="#ff2b00"/><rect x="372" y="1120" fill="#ff2a00"/><rect x="382" y="1120" fill="#ff2a00"/><rect x="392" y="1120" fill="#ff2a00"/><rect x="402" y="1120" fill="#ff2a00"/><rect x="412" y="1120" fill="#ff2900"/><rect x="422" y="1120" fill="#ff2900"/><rect x="62" y="1130" fill="#ff3600"/><rect x="72" y="1130" fill="#ff3600"/><rect x="82" y="1130" fill="#ff3700"/><rect x="92" y="1130" fill="#ff3700"/><rect x="102" y="1130" fill="#ff3800"/><rect x="112" y="1130" fill="#ff3900"/><rect x="122" y="1130" fill="#ff3a00"/><rect x="132" y="1130" fill="#ff3b00"/><rect x="142" y="1130" fill="#ff3d00"/><rect x="152" y="1130" fill="#ff3e00"/><rect x="162" y="1130" fill="#ff4000"/><rect x="172" y="1130" fill="#ff4100"/><rect x="182" y="1130" fill="#ff4200"/><rect x="192" y="1130" fill="#ff4300"/><rect x="202" y="1130" fill="#ff4400"/><rect x="212" y="1130" fill="#ff4500"/><rect x="222" y="1130" fill="#ff4600"/><rect x="232" y="1130" fill="#ff4600"/><rect x="242" y="1130" fill="#ff4600"/><rect x="252" y="1130" fill="#ff4500"/><rect x="262" y="1130" fill="#ff4500"/><rect x="272" y="1130" fill="#ff4400"/><rect x="282" y="1130" fill="#ff4300"/><rect x="292" y="1130" fill="#ff4200"/><rect x="302" y="1130" fill="#ff4000"/><rect x="312" y="1130" fill="#ff3f00"/><rect x="322" y="1130" fill="#ff3e00"/><rect x="332" y="1130" fill="#ff3c00"/><rect x="342" y="1130" fill="#ff3b00"/><rect x="352" y="1130" fill="#ff3a00"/><rect x="362" y="1130" fill="#ff3900"/><rect x="372" y="1130" fill="#ff3800"/><rect x="382" y="1130" fill="#ff3700"/><rect x="392" y="1130" fill="#ff3600"/><rect x="402" y="1130" fill="#ff3600"/><rect x="412" y="1130" fill="#ff3500"/><rect x="422" y="1130" fill="#ff3500"/><rect x="62" y="1140" fill="#ff4300"/><rect x="72" y="1140" fill="#ff4300"/><rect x="82" y="1140" fill="#ff4400"/><rect x="92" y="1140" fill="#ff4500"/><rect x="102" y="1140" fill="#ff4700"/><rect x="112" y="1140" fill="#ff4800"/><rect x="122" y="1140" fill="#ff4a00"/><rect x="132" y="1140" fill="#ff4c00"/><rect x="142" y="1140" fill="#ff4e00"/><rect x="152" y="1140" fill="#ff5000"/><rect x="162" y="1140" fill="#ff5200"/><rect x="172" y="1140" fill="#ff5400"/><rect x="182" y="1140" fill="#ff5600"/><rect x="192" y="1140" fill="#ff5800"/><rect x="202" y="1140" fill="#ff5a00"/><rect x="212" y="1140" fill="#ff5b00"/><rect x="222" y="1140" fill="#ff5c00"/><rect x="232" y="1140" fill="#ff5c00"/><rect x="242" y="1140" fill="#ff5c00"/><rect x="252" y="1140" fill="#ff5c00"/><rect x="262" y="1140" fill="#ff5b00"/><rect x="272" y="1140" fill="#ff5900"/><rect x="282" y="1140" fill="#ff5800"/><rect x="292" y="1140" fill="#ff5600"/><rect x="302" y="1140" fill="#ff5400"/><rect x="312" y="1140" fill="#ff5100"/><rect x="322" y="1140" fill="#ff4f00"/><rect x="332" y="1140" fill="#ff4d00"/><rect x="342" y="1140" fill="#ff4b00"/><rect x="352" y="1140" fill="#ff4900"/><rect x="362" y="1140" fill="#ff4800"/><rect x="372" y="1140" fill="#ff4600"/><rect x="382" y="1140" fill="#ff4500"/><rect x="392" y="1140" fill="#ff4400"/><rect x="402" y="1140" fill="#ff4300"/><rect x="412" y="1140" fill="#ff4200"/><rect x="422" y="1140" fill="#ff4200"/><rect x="62" y="1150" fill="#ff5000"/><rect x="72" y="1150" fill="#ff5100"/><rect x="82" y="1150" fill="#ff5200"/><rect x="92" y="1150" fill="#ff5300"/><rect x="102" y="1150" fill="#ff5500"/><rect x="112" y="1150" fill="#ff5700"/><rect x="122" y="1150" fill="#ff5a00"/><rect x="132" y="1150" fill="#ff5c00"/><rect x="142" y="1150" fill="#ff5f00"/><rect x="152" y="1150" fill="#ff6200"/><rect x="162" y="1150" fill="#ff6500"/><rect x="172" y="1150" fill="#ff6800"/><rect x="182" y="1150" fill="#ff6b00"/><rect x="192" y="1150" fill="#ff6d00"/><rect x="202" y="1150" fill="#ff6f00"/><rect x="212" y="1150" fill="#ff7100"/><rect x="222" y="1150" fill="#ff7200"/><rect x="232" y="1150" fill="#ff7200"/><rect x="242" y="1150" fill="#ff7200"/><rect x="252" y="1150" fill="#ff7100"/><rect x="262" y="1150" fill="#ff7000"/><rect x="272" y="1150" fill="#ff6e00"/><rect x="282" y="1150" fill="#ff6c00"/><rect x="292" y="1150" fill="#ff6900"/><rect x="302" y="1150" fill="#ff6700"/><rect x="312" y="1150" fill="#ff6400"/><rect x="322" y="1150" fill="#ff6100"/><rect x="332" y="1150" fill="#ff5e00"/><rect x="342" y="1150" fill="#ff5b00"/><rect x="352" y="1150" fill="#ff5900"/><rect x="362" y="1150" fill="#ff5600"/><rect x="372" y="1150" fill="#ff5500"/><rect x="382" y="1150" fill="#ff5300"/><rect x="392" y="1150" fill="#ff5100"/><rect x="402" y="1150" fill="#ff5000"/><rect x="412" y="1150" fill="#ff4f00"/><rect x="422" y="1150" fill="#ff4f00"/><rect x="62" y="1160" fill="#ff5a00"/><rect x="72" y="1160" fill="#ff5b00"/><rect x="82" y="1160" fill="#ff5c00"/><rect x="92" y="1160" fill="#ff5e00"/><rect x="102" y="1160" fill="#ff6100"/><rect x="112" y="1160" fill="#ff6300"/><rect x="122" y="1160" fill="#ff6600"/><rect x="132" y="1160" fill="#ff6900"/><rect x="142" y="1160" fill="#ff6d00"/><rect x="152" y="1160" fill="#ff7100"/><rect x="162" y="1160" fill="#ff7400"/><rect x="172" y="1160" fill="#ff7800"/><rect x="182" y="1160" fill="#ff7b00"/><rect x="192" y="1160" fill="#ff7e00"/><rect x="202" y="1160" fill="#ff8100"/><rect x="212" y="1160" fill="#ff8300"/><rect x="222" y="1160" fill="#ff8500"/><rect x="232" y="1160" fill="#ff8500"/><rect x="242" y="1160" fill="#ff8500"/><rect x="252" y="1160" fill="#ff8400"/><rect x="262" y="1160" fill="#ff8200"/><rect x="272" y="1160" fill="#ff8000"/><rect x="282" y="1160" fill="#ff7d00"/><rect x="292" y="1160" fill="#ff7a00"/><rect x="302" y="1160" fill="#ff7600"/><rect x="312" y="1160" fill="#ff7300"/><rect x="322" y="1160" fill="#ff6f00"/><rect x="332" y="1160" fill="#ff6b00"/><rect x="342" y="1160" fill="#ff6800"/><rect x="352" y="1160" fill="#ff6500"/><rect x="362" y="1160" fill="#ff6200"/><rect x="372" y="1160" fill="#ff6000"/><rect x="382" y="1160" fill="#ff5e00"/><rect x="392" y="1160" fill="#ff5c00"/><rect x="402" y="1160" fill="#ff5a00"/><rect x="412" y="1160" fill="#ff5900"/><rect x="422" y="1160" fill="#ff5800"/><rect x="62" y="1170" fill="#ff6300"/><rect x="72" y="1170" fill="#ff6500"/><rect x="82" y="1170" fill="#ff6700"/><rect x="92" y="1170" fill="#ff6900"/><rect x="102" y="1170" fill="#ff6c00"/><rect x="112" y="1170" fill="#ff6f00"/><rect x="122" y="1170" fill="#ff7300"/><rect x="132" y="1170" fill="#ff7600"/><rect x="142" y="1170" fill="#ff7b00"/><rect x="152" y="1170" fill="#ff7f00"/><rect x="162" y="1170" fill="#ff8400"/><rect x="172" y="1170" fill="#ff8800"/><rect x="182" y="1170" fill="#ff8c00"/><rect x="192" y="1170" fill="#ff9000"/><rect x="202" y="1170" fill="#ff9300"/><rect x="212" y="1170" fill="#ff9500"/><rect x="222" y="1170" fill="#ff9700"/><rect x="232" y="1170" fill="#ff9800"/><rect x="242" y="1170" fill="#ff9800"/><rect x="252" y="1170" fill="#ff9700"/><rect x="262" y="1170" fill="#ff9500"/><rect x="272" y="1170" fill="#ff9200"/><rect x="282" y="1170" fill="#ff8e00"/><rect x="292" y="1170" fill="#ff8a00"/><rect x="302" y="1170" fill="#ff8600"/><rect x="312" y="1170" fill="#ff8200"/><rect x="322" y="1170" fill="#ff7d00"/><rect x="332" y="1170" fill="#ff7900"/><rect x="342" y="1170" fill="#ff7500"/><rect x="352" y="1170" fill="#ff7100"/><rect x="362" y="1170" fill="#ff6e00"/><rect x="372" y="1170" fill="#ff6b00"/><rect x="382" y="1170" fill="#ff6800"/><rect x="392" y="1170" fill="#ff6600"/><rect x="402" y="1170" fill="#ff6400"/><rect x="412" y="1170" fill="#ff6300"/><rect x="422" y="1170" fill="#ff6200"/><rect x="62" y="1180" fill="#ff6d00"/><rect x="72" y="1180" fill="#ff6f00"/><rect x="82" y="1180" fill="#ff7100"/><rect x="92" y="1180" fill="#ff7400"/><rect x="102" y="1180" fill="#ff7700"/><rect x="112" y="1180" fill="#ff7b00"/><rect x="122" y="1180" fill="#ff7f00"/><rect x="132" y="1180" fill="#ff8400"/><rect x="142" y="1180" fill="#ff8800"/><rect x="152" y="1180" fill="#ff8e00"/><rect x="162" y="1180" fill="#ff9300"/><rect x="172" y="1180" fill="#ff9800"/><rect x="182" y="1180" fill="#ff9d00"/><rect x="192" y="1180" fill="#ffa100"/><rect x="202" y="1180" fill="#ffa500"/><rect x="212" y="1180" fill="#ffa800"/><rect x="222" y="1180" fill="#ffaa00"/><rect x="232" y="1180" fill="#ffab00"/><rect x="242" y="1180" fill="#ffaa00"/><rect x="252" y="1180" fill="#ffa900"/><rect x="262" y="1180" fill="#ffa700"/><rect x="272" y="1180" fill="#ffa400"/><rect x="282" y="1180" fill="#ffa000"/><rect x="292" y="1180" fill="#ff9b00"/><rect x="302" y="1180" fill="#ff9600"/><rect x="312" y="1180" fill="#ff9100"/><rect x="322" y="1180" fill="#ff8c00"/><rect x="332" y="1180" fill="#ff8700"/><rect x="342" y="1180" fill="#ff8200"/><rect x="352" y="1180" fill="#ff7d00"/><rect x="362" y="1180" fill="#ff7900"/><rect x="372" y="1180" fill="#ff7600"/><rect x="382" y="1180" fill="#ff7300"/><rect x="392" y="1180" fill="#ff7000"/><rect x="402" y="1180" fill="#ff6e00"/><rect x="412" y="1180" fill="#ff6d00"/><rect x="422" y="1180" fill="#ff6b00"/><rect x="62" y="1190" fill="#ff7600"/><rect x="72" y="1190" fill="#ff7800"/><rect x="82" y="1190" fill="#ff7a00"/><rect x="92" y="1190" fill="#ff7d00"/><rect x="102" y="1190" fill="#ff8000"/><rect x="112" y="1190" fill="#ff8500"/><rect x="122" y="1190" fill="#ff8900"/><rect x="132" y="1190" fill="#ff8e00"/><rect x="142" y="1190" fill="#ff9400"/><rect x="152" y="1190" fill="#ff9a00"/><rect x="162" y="1190" fill="#ffa000"/><rect x="172" y="1190" fill="#ffa700"/><rect x="182" y="1190" fill="#ffac00"/><rect x="192" y="1190" fill="#ffb200"/><rect x="202" y="1190" fill="#ffb600"/><rect x="212" y="1190" fill="#ffba00"/><rect x="222" y="1190" fill="#ffbc00"/><rect x="232" y="1190" fill="#ffbd00"/><rect x="242" y="1190" fill="#ffbd00"/><rect x="252" y="1190" fill="#ffbc00"/><rect x="262" y="1190" fill="#ffb900"/><rect x="272" y="1190" fill="#ffb500"/><rect x="282" y="1190" fill="#ffb000"/><rect x="292" y="1190" fill="#ffaa00"/><rect x="302" y="1190" fill="#ffa400"/><rect x="312" y="1190" fill="#ff9e00"/><rect x="322" y="1190" fill="#ff9800"/><rect x="332" y="1190" fill="#ff9200"/><rect x="342" y="1190" fill="#ff8c00"/><rect x="352" y="1190" fill="#ff8700"/><rect x="362" y="1190" fill="#ff8300"/><rect x="372" y="1190" fill="#ff7f00"/><rect x="382" y="1190" fill="#ff7c00"/><rect x="392" y="1190" fill="#ff7900"/><rect x="402" y="1190" fill="#ff7700"/><rect x="412" y="1190" fill="#ff7500"/><rect x="422" y="1190" fill="#ff7400"/><rect x="62" y="1200" fill="#ff8400"/><rect x="72" y="1200" fill="#ff8500"/><rect x="82" y="1200" fill="#ff8700"/><rect x="92" y="1200" fill="#ff8a00"/><rect x="102" y="1200" fill="#ff8d00"/><rect x="112" y="1200" fill="#ff9100"/><rect x="122" y="1200" fill="#ff9600"/><rect x="132" y="1200" fill="#ff9c00"/><rect x="142" y="1200" fill="#ffa200"/><rect x="152" y="1200" fill="#ffa800"/><rect x="162" y="1200" fill="#ffaf00"/><rect x="172" y="1200" fill="#ffb600"/><rect x="182" y="1200" fill="#ffbd00"/><rect x="192" y="1200" fill="#ffc300"/><rect x="202" y="1200" fill="#ffc900"/><rect x="212" y="1200" fill="#ffcd00"/><rect x="222" y="1200" fill="#ffd000"/><rect x="232" y="1200" fill="#ffd100"/><rect x="242" y="1200" fill="#ffd100"/><rect x="252" y="1200" fill="#ffcf00"/><rect x="262" y="1200" fill="#ffcb00"/><rect x="272" y="1200" fill="#ffc700"/><rect x="282" y="1200" fill="#ffc100"/><rect x="292" y="1200" fill="#ffba00"/><rect x="302" y="1200" fill="#ffb300"/><rect x="312" y="1200" fill="#ffac00"/><rect x="322" y="1200" fill="#ffa600"/><rect x="332" y="1200" fill="#ff9f00"/><rect x="342" y="1200" fill="#ff9900"/><rect x="352" y="1200" fill="#ff9400"/><rect x="362" y="1200" fill="#ff9000"/><rect x="372" y="1200" fill="#ff8c00"/><rect x="382" y="1200" fill="#ff8900"/><rect x="392" y="1200" fill="#ff8600"/><rect x="402" y="1200" fill="#ff8400"/><rect x="412" y="1200" fill="#ff8300"/><rect x="422" y="1200" fill="#ff8200"/><rect x="62" y="1210" fill="#ff9700"/><rect x="72" y="1210" fill="#ff9800"/><rect x="82" y="1210" fill="#ff9a00"/><rect x="92" y="1210" fill="#ff9c00"/><rect x="102" y="1210" fill="#ff9f00"/><rect x="112" y="1210" fill="#ffa300"/><rect x="122" y="1210" fill="#ffa700"/><rect x="132" y="1210" fill="#ffac00"/><rect x="142" y="1210" fill="#ffb300"/><rect x="152" y="1210" fill="#ffb900"/><rect x="162" y="1210" fill="#ffc100"/><rect x="172" y="1210" fill="#ffc800"/><rect x="182" y="1210" fill="#ffcf00"/><rect x="192" y="1210" fill="#ffd600"/><rect x="202" y="1210" fill="#ffdc00"/><rect x="212" y="1210" fill="#ffe100"/><rect x="222" y="1210" fill="#ffe400"/><rect x="232" y="1210" fill="#ffe500"/><rect x="242" y="1210" fill="#ffe500"/><rect x="252" y="1210" fill="#ffe300"/><rect x="262" y="1210" fill="#ffdf00"/><rect x="272" y="1210" fill="#ffda00"/><rect x="282" y="1210" fill="#ffd300"/><rect x="292" y="1210" fill="#ffcc00"/><rect x="302" y="1210" fill="#ffc500"/><rect x="312" y="1210" fill="#ffbe00"/><rect x="322" y="1210" fill="#ffb700"/><rect x="332" y="1210" fill="#ffb000"/><rect x="342" y="1210" fill="#ffaa00"/><rect x="352" y="1210" fill="#ffa500"/><rect x="362" y="1210" fill="#ffa100"/><rect x="372" y="1210" fill="#ff9e00"/><rect x="382" y="1210" fill="#ff9b00"/><rect x="392" y="1210" fill="#ff9900"/><rect x="402" y="1210" fill="#ff9700"/><rect x="412" y="1210" fill="#ff9600"/><rect x="422" y="1210" fill="#ff9500"/><rect x="62" y="1220" fill="#ffaa00"/><rect x="72" y="1220" fill="#ffab00"/><rect x="82" y="1220" fill="#ffac00"/><rect x="92" y="1220" fill="#ffae00"/><rect x="102" y="1220" fill="#ffb100"/><rect x="112" y="1220" fill="#ffb400"/><rect x="122" y="1220" fill="#ffb800"/><rect x="132" y="1220" fill="#ffbd00"/><rect x="142" y="1220" fill="#ffc300"/><rect x="152" y="1220" fill="#ffca00"/><rect x="162" y="1220" fill="#ffd100"/><rect x="172" y="1220" fill="#ffd900"/><rect x="182" y="1220" fill="#ffe100"/><rect x="192" y="1220" fill="#ffe900"/><rect x="202" y="1220" fill="#ffef00"/><rect x="212" y="1220" fill="#fff500"/><rect x="222" y="1220" fill="#fff800"/><rect x="232" y="1220" fill="#fffa00"/><rect x="242" y="1220" fill="#fff900"/><rect x="252" y="1220" fill="#fff700"/><rect x="262" y="1220" fill="#fff300"/><rect x="272" y="1220" fill="#ffed00"/><rect x="282" y="1220" fill="#ffe600"/><rect x="292" y="1220" fill="#ffde00"/><rect x="302" y="1220" fill="#ffd600"/><rect x="312" y="1220" fill="#ffce00"/><rect x="322" y="1220" fill="#ffc700"/><rect x="332" y="1220" fill="#ffc100"/><rect x="342" y="1220" fill="#ffbb00"/><rect x="352" y="1220" fill="#ffb600"/><rect x="362" y="1220" fill="#ffb300"/><rect x="372" y="1220" fill="#ffb000"/><rect x="382" y="1220" fill="#ffad00"/><rect x="392" y="1220" fill="#ffac00"/><rect x="402" y="1220" fill="#ffab00"/><rect x="412" y="1220" fill="#ffaa00"/><rect x="422" y="1220" fill="#ffa900"/><rect x="62" y="1230" fill="#ffba00"/><rect x="72" y="1230" fill="#ffbb00"/><rect x="82" y="1230" fill="#ffbc00"/><rect x="92" y="1230" fill="#ffbe00"/><rect x="102" y="1230" fill="#ffc000"/><rect x="112" y="1230" fill="#ffc300"/><rect x="122" y="1230" fill="#ffc700"/><rect x="132" y="1230" fill="#ffcc00"/><rect x="142" y="1230" fill="#ffd300"/><rect x="152" y="1230" fill="#ffda00"/><rect x="162" y="1230" fill="#ffe300"/><rect x="172" y="1230" fill="#ffec00"/><rect x="182" y="1230" fill="#fff600"/><rect x="192" y="1230" fill="#ffff00"/><rect x="202" y="1230" fill="#f7ff08"/><rect x="212" y="1230" fill="#f0ff0f"/><rect x="222" y="1230" fill="#ebff14"/><rect x="232" y="1230" fill="#e9ff16"/><rect x="242" y="1230" fill="#eaff15"/><rect x="252" y="1230" fill="#edff12"/><rect x="262" y="1230" fill="#f2ff0d"/><rect x="272" y="1230" fill="#faff05"/><rect x="282" y="1230" fill="#fffc00"/><rect x="292" y="1230" fill="#fff200"/><rect x="302" y="1230" fill="#ffe900"/><rect x="312" y="1230" fill="#ffe000"/><rect x="322" y="1230" fill="#ffd700"/><rect x="332" y="1230" fill="#ffd000"/><rect x="342" y="1230" fill="#ffca00"/><rect x="352" y="1230" fill="#ffc500"/><rect x="362" y="1230" fill="#ffc200"/><rect x="372" y="1230" fill="#ffbf00"/><rect x="382" y="1230" fill="#ffbd00"/><rect x="392" y="1230" fill="#ffbc00"/><rect x="402" y="1230" fill="#ffbb00"/><rect x="412" y="1230" fill="#ffba00"/><rect x="422" y="1230" fill="#ffba00"/><rect x="62" y="1240" fill="#ffc800"/><rect x="72" y="1240" fill="#ffc800"/><rect x="82" y="1240" fill="#ffc900"/><rect x="92" y="1240" fill="#ffca00"/><rect x="102" y="1240" fill="#ffcc00"/><rect x="112" y="1240" fill="#ffcf00"/><rect x="122" y="1240" fill="#ffd400"/><rect x="132" y="1240" fill="#ffd900"/><rect x="142" y="1240" fill="#ffe000"/><rect x="152" y="1240" fill="#ffe900"/><rect x="162" y="1240" fill="#fff400"/><rect x="172" y="1240" fill="#feff01"/><rect x="182" y="1240" fill="#f2ff0d"/><rect x="192" y="1240" fill="#e5ff1a"/><rect x="202" y="1240" fill="#daff25"/><rect x="212" y="1240" fill="#d1ff2e"/><rect x="222" y="1240" fill="#caff35"/><rect x="232" y="1240" fill="#c7ff38"/><rect x="242" y="1240" fill="#c8ff37"/><rect x="252" y="1240" fill="#ccff33"/><rect x="262" y="1240" fill="#d4ff2b"/><rect x="272" y="1240" fill="#deff21"/><rect x="282" y="1240" fill="#eaff15"/><rect x="292" y="1240" fill="#f7ff08"/><rect x="302" y="1240" fill="#fffb00"/><rect x="312" y="1240" fill="#fff000"/><rect x="322" y="1240" fill="#ffe600"/><rect x="332" y="1240" fill="#ffdd00"/><rect x="342" y="1240" fill="#ffd700"/><rect x="352" y="1240" fill="#ffd200"/><rect x="362" y="1240" fill="#ffce00"/><rect x="372" y="1240" fill="#ffcb00"/><rect x="382" y="1240" fill="#ffca00"/><rect x="392" y="1240" fill="#ffc900"/><rect x="402" y="1240" fill="#ffc800"/><rect x="412" y="1240" fill="#ffc700"/><rect x="422" y="1240" fill="#ffc700"/><rect x="62" y="1250" fill="#ffd500"/><rect x="72" y="1250" fill="#ffd600"/><rect x="82" y="1250" fill="#ffd600"/><rect x="92" y="1250" fill="#ffd800"/><rect x="102" y="1250" fill="#ffda00"/><rect x="112" y="1250" fill="#ffdd00"/><rect x="122" y="1250" fill="#ffe200"/><rect x="132" y="1250" fill="#ffe800"/><rect x="142" y="1250" fill="#fff100"/><rect x="152" y="1250" fill="#fffb00"/><rect x="162" y="1250" fill="#f7ff08"/><rect x="172" y="1250" fill="#e8ff17"/><rect x="182" y="1250" fill="#d9ff26"/><rect x="192" y="1250" fill="#caff35"/><rect x="202" y="1250" fill="#bcff43"/><rect x="212" y="1250" fill="#b1ff4e"/><rect x="222" y="1250" fill="#a9ff56"/><rect x="232" y="1250" fill="#a5ff5a"/><rect x="242" y="1250" fill="#a6ff59"/><rect x="252" y="1250" fill="#acff53"/><rect x="262" y="1250" fill="#b5ff4a"/><rect x="272" y="1250" fill="#c2ff3d"/><rect x="282" y="1250" fill="#d0ff2f"/><rect x="292" y="1250" fill="#e0ff1f"/><rect x="302" y="1250" fill="#eeff11"/><rect x="312" y="1250" fill="#fcff03"/><rect x="322" y="1250" fill="#fff700"/><rect x="332" y="1250" fill="#ffed00"/><rect x="342" y="1250" fill="#ffe500"/><rect x="352" y="1250" fill="#ffe000"/><rect x="362" y="1250" fill="#ffdc00"/><rect x="372" y="1250" fill="#ffd900"/><rect x="382" y="1250" fill="#ffd700"/><rect x="392" y="1250" fill="#ffd600"/><rect x="402" y="1250" fill="#ffd500"/><rect x="412" y="1250" fill="#ffd500"/><rect x="422" y="1250" fill="#ffd500"/><rect x="62" y="1260" fill="#ffe400"/><rect x="72" y="1260" fill="#ffe400"/><rect x="82" y="1260" fill="#ffe500"/><rect x="92" y="1260" fill="#ffe700"/><rect x="102" y="1260" fill="#ffe900"/><rect x="112" y="1260" fill="#ffed00"/><rect x="122" y="1260" fill="#fff200"/><rect x="132" y="1260" fill="#fff900"/><rect x="142" y="1260" fill="#fbff04"/><rect x="152" y="1260" fill="#efff10"/><rect x="162" y="1260" fill="#e1ff1e"/><rect x="172" y="1260" fill="#d1ff2e"/><rect x="182" y="1260" fill="#bfff40"/><rect x="192" y="1260" fill="#aeff51"/><rect x="202" y="1260" fill="#9eff61"/><rect x="212" y="1260" fill="#90ff6f"/><rect x="222" y="1260" fill="#87ff78"/><rect x="232" y="1260" fill="#82ff7d"/><rect x="242" y="1260" fill="#83ff7c"/><rect x="252" y="1260" fill="#8aff75"/><rect x="262" y="1260" fill="#95ff6a"/><rect x="272" y="1260" fill="#a4ff5b"/><rect x="282" y="1260" fill="#b5ff4a"/><rect x="292" y="1260" fill="#c6ff39"/><rect x="302" y="1260" fill="#d7ff28"/><rect x="312" y="1260" fill="#e7ff18"/><rect x="322" y="1260" fill="#f4ff0b"/><rect x="332" y="1260" fill="#ffff00"/><rect x="342" y="1260" fill="#fff600"/><rect x="352" y="1260" fill="#fff000"/><rect x="362" y="1260" fill="#ffeb00"/><rect x="372" y="1260" fill="#ffe800"/><rect x="382" y="1260" fill="#ffe600"/><rect x="392" y="1260" fill="#ffe500"/><rect x="402" y="1260" fill="#ffe400"/><rect x="412" y="1260" fill="#ffe300"/><rect x="422" y="1260" fill="#ffe300"/><rect x="62" y="1270" fill="#fff300"/><rect x="72" y="1270" fill="#fff400"/><rect x="82" y="1270" fill="#fff500"/><rect x="92" y="1270" fill="#fff600"/><rect x="102" y="1270" fill="#fff900"/><rect x="112" y="1270" fill="#fffd00"/><rect x="122" y="1270" fill="#fbff04"/><rect x="132" y="1270" fill="#f3ff0c"/><rect x="142" y="1270" fill="#e9ff16"/><rect x="152" y="1270" fill="#dbff24"/><rect x="162" y="1270" fill="#cbff34"/><rect x="172" y="1270" fill="#b8ff47"/><rect x="182" y="1270" fill="#a4ff5b"/><rect x="192" y="1270" fill="#90ff6f"/><rect x="202" y="1270" fill="#7eff81"/><rect x="212" y="1270" fill="#6eff91"/><rect x="222" y="1270" fill="#64ff9b"/><rect x="232" y="1270" fill="#5fffa0"/><rect x="242" y="1270" fill="#60ff9f"/><rect x="252" y="1270" fill="#67ff98"/><rect x="262" y="1270" fill="#74ff8b"/><rect x="272" y="1270" fill="#85ff7a"/><rect x="282" y="1270" fill="#98ff67"/><rect x="292" y="1270" fill="#adff52"/><rect x="302" y="1270" fill="#c0ff3f"/><rect x="312" y="1270" fill="#d2ff2d"/><rect x="322" y="1270" fill="#e1ff1e"/><rect x="332" y="1270" fill="#edff12"/><rect x="342" y="1270" fill="#f7ff08"/><rect x="352" y="1270" fill="#feff01"/><rect x="362" y="1270" fill="#fffb00"/><rect x="372" y="1270" fill="#fff800"/><rect x="382" y="1270" fill="#fff500"/><rect x="392" y="1270" fill="#fff400"/><rect x="402" y="1270" fill="#fff300"/><rect x="412" y="1270" fill="#fff300"/><rect x="422" y="1270" fill="#fff300"/><rect x="62" y="1280" fill="#fcff03"/><rect x="72" y="1280" fill="#fbff04"/><rect x="82" y="1280" fill="#faff05"/><rect x="92" y="1280" fill="#f8ff07"/><rect x="102" y="1280" fill="#f5ff0a"/><rect x="112" y="1280" fill="#f1ff0e"/><rect x="122" y="1280" fill="#eaff15"/><rect x="132" y="1280" fill="#e1ff1e"/><rect x="142" y="1280" fill="#d5ff2a"/><rect x="152" y="1280" fill="#c6ff39"/><rect x="162" y="1280" fill="#b3ff4c"/><rect x="172" y="1280" fill="#9eff61"/><rect x="182" y="1280" fill="#87ff78"/><rect x="192" y="1280" fill="#70ff8f"/><rect x="202" y="1280" fill="#5affa5"/><rect x="212" y="1280" fill="#48ffb7"/><rect x="222" y="1280" fill="#3cffc3"/><rect x="232" y="1280" fill="#36ffc9"/><rect x="242" y="1280" fill="#37ffc8"/><rect x="252" y="1280" fill="#40ffbf"/><rect x="262" y="1280" fill="#4fffb0"/><rect x="272" y="1280" fill="#62ff9d"/><rect x="282" y="1280" fill="#79ff86"/><rect x="292" y="1280" fill="#90ff6f"/><rect x="302" y="1280" fill="#a7ff58"/><rect x="312" y="1280" fill="#bbff44"/><rect x="322" y="1280" fill="#ccff33"/><rect x="332" y="1280" fill="#daff25"/><rect x="342" y="1280" fill="#e5ff1a"/><rect x="352" y="1280" fill="#edff12"/><rect x="362" y="1280" fill="#f3ff0c"/><rect x="372" y="1280" fill="#f7ff08"/><rect x="382" y="1280" fill="#f9ff06"/><rect x="392" y="1280" fill="#faff05"/><rect x="402" y="1280" fill="#fbff04"/><rect x="412" y="1280" fill="#fcff03"/><rect x="422" y="1280" fill="#fcff03"/><rect x="62" y="1290" fill="#ecff13"/><rect x="72" y="1290" fill="#ecff13"/><rect x="82" y="1290" fill="#eaff15"/><rect x="92" y="1290" fill="#e8ff17"/><rect x="102" y="1290" fill="#e5ff1a"/><rect x="112" y="1290" fill="#e0ff1f"/><rect x="122" y="1290" fill="#d9ff26"/><rect x="132" y="1290" fill="#ceff31"/><rect x="142" y="1290" fill="#c1ff3e"/><rect x="152" y="1290" fill="#afff50"/><rect x="162" y="1290" fill="#9aff65"/><rect x="172" y="1290" fill="#81ff7e"/><rect x="182" y="1290" fill="#66ff99"/><rect x="192" y="1290" fill="#4cffb3"/><rect x="202" y="1290" fill="#32ffcd"/><rect x="212" y="1290" fill="#1dffe2"/><rect x="222" y="1290" fill="#0efff1"/><rect x="232" y="1290" fill="#07fff8"/><rect x="242" y="1290" fill="#08fff7"/><rect x="252" y="1290" fill="#12ffed"/><rect x="262" y="1290" fill="#25ffda"/><rect x="272" y="1290" fill="#3cffc3"/><rect x="282" y="1290" fill="#56ffa9"/><rect x="292" y="1290" fill="#71ff8e"/><rect x="302" y="1290" fill="#8bff74"/><rect x="312" y="1290" fill="#a3ff5c"/><rect x="322" y="1290" fill="#b7ff48"/><rect x="332" y="1290" fill="#c7ff38"/><rect x="342" y="1290" fill="#d3ff2c"/><rect x="352" y="1290" fill="#dcff23"/><rect x="362" y="1290" fill="#e2ff1d"/><rect x="372" y="1290" fill="#e7ff18"/><rect x="382" y="1290" fill="#e9ff16"/><rect x="392" y="1290" fill="#ebff14"/><rect x="402" y="1290" fill="#ecff13"/><rect x="412" y="1290" fill="#edff12"/><rect x="422" y="1290" fill="#edff12"/><rect x="62" y="1300" fill="#ddff22"/><rect x="72" y="1300" fill="#dcff23"/><rect x="82" y="1300" fill="#dbff24"/><rect x="92" y="1300" fill="#d9ff26"/><rect x="102" y="1300" fill="#d5ff2a"/><rect x="112" y="1300" fill="#d0ff2f"/><rect x="122" y="1300" fill="#c8ff37"/><rect x="132" y="1300" fill="#bdff42"/><rect x="142" y="1300" fill="#aeff51"/><rect x="152" y="1300" fill="#9bff64"/><rect x="162" y="1300" fill="#84ff7b"/><rect x="172" y="1300" fill="#69ff96"/><rect x="182" y="1300" fill="#4bffb4"/><rect x="192" y="1300" fill="#2effd1"/><rect x="202" y="1300" fill="#12ffed"/><rect x="212" y="1300" fill="#00f7ff"/><rect x="222" y="1300" fill="#00e1ff"/><rect x="232" y="1300" fill="#00d2ff"/><rect x="242" y="1300" fill="#00d0ff"/><rect x="252" y="1300" fill="#00dfff"/><rect x="262" y="1300" fill="#00faff"/><rect x="272" y="1300" fill="#1affe5"/><rect x="282" y="1300" fill="#39ffc6"/><rect x="292" y="1300" fill="#57ffa8"/><rect x="302" y="1300" fill="#74ff8b"/><rect x="312" y="1300" fill="#8dff72"/><rect x="322" y="1300" fill="#a3ff5c"/><rect x="332" y="1300" fill="#b5ff4a"/><rect x="342" y="1300" fill="#c2ff3d"/><rect x="352" y="1300" fill="#ccff33"/><rect x="362" y="1300" fill="#d3ff2c"/><rect x="372" y="1300" fill="#d7ff28"/><rect x="382" y="1300" fill="#daff25"/><rect x="392" y="1300" fill="#dcff23"/><rect x="402" y="1300" fill="#ddff22"/><rect x="412" y="1300" fill="#ddff22"/><rect x="422" y="1300" fill="#deff21"/><rect x="62" y="1310" fill="#ceff31"/><rect x="72" y="1310" fill="#cdff32"/><rect x="82" y="1310" fill="#ccff33"/><rect x="92" y="1310" fill="#caff35"/><rect x="102" y="1310" fill="#c6ff39"/><rect x="112" y="1310" fill="#c1ff3e"/><rect x="122" y="1310" fill="#b9ff46"/><rect x="132" y="1310" fill="#adff52"/><rect x="142" y="1310" fill="#9eff61"/><rect x="152" y="1310" fill="#8aff75"/><rect x="162" y="1310" fill="#71ff8e"/><rect x="172" y="1310" fill="#55ffaa"/><rect x="182" y="1310" fill="#36ffc9"/><rect x="192" y="1310" fill="#16ffe9"/><rect x="202" y="1310" fill="#00f5ff"/><rect x="212" y="1310" fill="#00d0ff"/><rect x="222" y="1310" fill="#00a0ff"/><rect x="232" y="1310" fill="#006aff"/><rect x="242" y="1310" fill="#0055ff"/><rect x="252" y="1310" fill="#0078ff"/><rect x="262" y="1310" fill="#00baff"/><rect x="272" y="1310" fill="#00f4ff"/><rect x="282" y="1310" fill="#20ffdf"/><rect x="292" y="1310" fill="#42ffbd"/><rect x="302" y="1310" fill="#60ff9f"/><rect x="312" y="1310" fill="#7bff84"/><rect x="322" y="1310" fill="#92ff6d"/><rect x="332" y="1310" fill="#a4ff5b"/><rect x="342" y="1310" fill="#b2ff4d"/><rect x="352" y="1310" fill="#bcff43"/><rect x="362" y="1310" fill="#c3ff3c"/><rect x="372" y="1310" fill="#c8ff37"/><rect x="382" y="1310" fill="#cbff34"/><rect x="392" y="1310" fill="#ccff33"/><rect x="402" y="1310" fill="#cdff32"/><rect x="412" y="1310" fill="#ceff31"/><rect x="422" y="1310" fill="#ceff31"/><rect x="62" y="1320" fill="#bcff43"/><rect x="72" y="1320" fill="#bbff44"/><rect x="82" y="1320" fill="#baff45"/><rect x="92" y="1320" fill="#b8ff47"/><rect x="102" y="1320" fill="#b4ff4b"/><rect x="112" y="1320" fill="#afff50"/><rect x="122" y="1320" fill="#a7ff58"/><rect x="132" y="1320" fill="#9bff64"/><rect x="142" y="1320" fill="#8bff74"/><rect x="152" y="1320" fill="#76ff89"/><rect x="162" y="1320" fill="#5cffa3"/><rect x="172" y="1320" fill="#3effc1"/><rect x="182" y="1320" fill="#1effe1"/><rect x="192" y="1320" fill="#00faff"/><rect x="202" y="1320" fill="#00d4ff"/><rect x="212" y="1320" fill="#0098ff"/><rect x="222" y="1320" fill="#002dff"/><rect x="232" y="1320" fill="#0000a3"/><rect x="242" y="1320" fill="#000080"/><rect x="252" y="1320" fill="#0000b2"/><rect x="262" y="1320" fill="#0049ff"/><rect x="272" y="1320" fill="#00beff"/><rect x="282" y="1320" fill="#01fffe"/><rect x="292" y="1320" fill="#2affd5"/><rect x="302" y="1320" fill="#4bffb4"/><rect x="312" y="1320" fill="#67ff98"/><rect x="322" y="1320" fill="#7fff80"/><rect x="332" y="1320" fill="#92ff6d"/><rect x="342" y="1320" fill="#a0ff5f"/><rect x="352" y="1320" fill="#aaff55"/><rect x="362" y="1320" fill="#b1ff4e"/><rect x="372" y="1320" fill="#b6ff49"/><rect x="382" y="1320" fill="#b9ff46"/><rect x="392" y="1320" fill="#bbff44"/><rect x="402" y="1320" fill="#bcff43"/><rect x="412" y="1320" fill="#bcff43"/><rect x="422" y="1320" fill="#bcff43"/><rect x="62" y="1330" fill="#a8ff57"/><rect x="72" y="1330" fill="#a7ff58"/><rect x="82" y="1330" fill="#a6ff59"/><rect x="92" y="1330" fill="#a3ff5c"/><rect x="102" y="1330" fill="#a0ff5f"/><rect x="112" y="1330" fill="#9aff65"/><rect x="122" y="1330" fill="#92ff6d"/><rect x="132" y="1330" fill="#86ff79"/><rect x="142" y="1330" fill="#75ff8a"/><rect x="152" y="1330" fill="#5fffa0"/><rect x="162" y="1330" fill="#45ffba"/><rect x="172" y="1330" fill="#25ffda"/><rect x="182" y="1330" fill="#03fffc"/><rect x="192" y="1330" fill="#00deff"/><rect x="202" y="1330" fill="#00b2ff"/><rect x="212" y="1330" fill="#0067ff"/><rect x="222" y="1330" fill="#0000d5"/><rect x="232" y="1330" fill="#000080"/><rect x="242" y="1330" fill="#000080"/><rect x="252" y="1330" fill="#000080"/><rect x="262" y="1330" fill="#0000f3"/><rect x="272" y="1330" fill="#008fff"/><rect x="282" y="1330" fill="#00e1ff"/><rect x="292" y="1330" fill="#10ffef"/><rect x="302" y="1330" fill="#32ffcd"/><rect x="312" y="1330" fill="#50ffaf"/><rect x="322" y="1330" fill="#69ff96"/><rect x="332" y="1330" fill="#7cff83"/><rect x="342" y="1330" fill="#8bff74"/><rect x="352" y="1330" fill="#96ff69"/><rect x="362" y="1330" fill="#9dff62"/><rect x="372" y="1330" fill="#a2ff5d"/><rect x="382" y="1330" fill="#a4ff5b"/><rect x="392" y="1330" fill="#a6ff59"/><rect x="402" y="1330" fill="#a7ff58"/><rect x="412" y="1330" fill="#a8ff57"/><rect x="422" y="1330" fill="#a8ff57"/><rect x="62" y="1340" fill="#97ff68"/><rect x="72" y="1340" fill="#96ff69"/><rect x="82" y="1340" fill="#95ff6a"/><rect x="92" y="1340" fill="#93ff6c"/><rect x="102" y="1340" fill="#8fff70"/><rect x="112" y="1340" fill="#89ff76"/><rect x="122" y="1340" fill="#81ff7e"/><rect x="132" y="1340" fill="#74ff8b"/><rect x="142" y="1340" fill="#63ff9c"/><rect x="152" y="1340" fill="#4dffb2"/><rect x="162" y="1340" fill="#31ffce"/><rect x="172" y="1340" fill="#10ffef"/><rect x="182" y="1340" fill="#00ebff"/><rect x="192" y="1340" fill="#00c5ff"/><rect x="202" y="1340" fill="#009bff"/><rect x="212" y="1340" fill="#005cff"/><rect x="222" y="1340" fill="#0000ee"/><rect x="232" y="1340" fill="#000080"/><rect x="242" y="1340" fill="#000080"/><rect x="252" y="1340" fill="#000080"/><rect x="262" y="1340" fill="#000eff"/><rect x="272" y="1340" fill="#0087ff"/><rect x="282" y="1340" fill="#00ccff"/><rect x="292" y="1340" fill="#00f9ff"/><rect x="302" y="1340" fill="#1effe1"/><rect x="312" y="1340" fill="#3dffc2"/><rect x="322" y="1340" fill="#56ffa9"/><rect x="332" y="1340" fill="#6bff94"/><rect x="342" y="1340" fill="#7aff85"/><rect x="352" y="1340" fill="#85ff7a"/><rect x="362" y="1340" fill="#8cff73"/><rect x="372" y="1340" fill="#91ff6e"/><rect x="382" y="1340" fill="#94ff6b"/><rect x="392" y="1340" fill="#95ff6a"/><rect x="402" y="1340" fill="#96ff69"/><rect x="412" y="1340" fill="#97ff68"/><rect x="422" y="1340" fill="#97ff68"/><rect x="62" y="1350" fill="#93ff6c"/><rect x="72" y="1350" fill="#93ff6c"/><rect x="82" y="1350" fill="#91ff6e"/><rect x="92" y="1350" fill="#8fff70"/><rect x="102" y="1350" fill="#8cff73"/><rect x="112" y="1350" fill="#86ff79"/><rect x="122" y="1350" fill="#7dff82"/><rect x="132" y="1350" fill="#71ff8e"/><rect x="142" y="1350" fill="#60ff9f"/><rect x="152" y="1350" fill="#49ffb6"/><rect x="162" y="1350" fill="#2dffd2"/><rect x="172" y="1350" fill="#0cfff3"/><rect x="182" y="1350" fill="#00e6ff"/><rect x="192" y="1350" fill="#00c1ff"/><rect x="202" y="1350" fill="#009bff"/><rect x="212" y="1350" fill="#0071ff"/><rect x="222" y="1350" fill="#003dff"/><rect x="232" y="1350" fill="#0006ff"/><rect x="242" y="1350" fill="#0000f0"/><rect x="252" y="1350" fill="#0017ff"/><rect x="262" y="1350" fill="#005dff"/><rect x="272" y="1350" fill="#009dff"/><rect x="282" y="1350" fill="#00cdff"/><rect x="292" y="1350" fill="#00f5ff"/><rect x="302" y="1350" fill="#19ffe6"/><rect x="312" y="1350" fill="#39ffc6"/><rect x="322" y="1350" fill="#53ffac"/><rect x="332" y="1350" fill="#67ff98"/><rect x="342" y="1350" fill="#76ff89"/><rect x="352" y="1350" fill="#81ff7e"/><rect x="362" y="1350" fill="#89ff76"/><rect x="372" y="1350" fill="#8dff72"/><rect x="382" y="1350" fill="#90ff6f"/><rect x="392" y="1350" fill="#92ff6d"/><rect x="402" y="1350" fill="#93ff6c"/><rect x="412" y="1350" fill="#93ff6c"/><rect x="422" y="1350" fill="#94ff6b"/></g></g></g>
<g clip-path="url(#ch)"><rect x="74" y="1002.6" width="336" height="345" filter="url(#gn)" style="mix-blend-mode:soft-light" opacity="0.12"/></g>
<rect x="74" y="1002.6" width="336" height="345" fill="none" stroke="#555" stroke-width="1"/>
<g filter="url(#b07)">
<g stroke="#1a0a00" stroke-width="1.8">
<circle cx="322.7" cy="1040.3" r="8.4" fill="#ffc400"/>
<circle cx="309.5" cy="1022.3" r="8.4" fill="#ffc400"/><circle cx="334.5" cy="1022.3" r="8.4" fill="#ffc400"/><circle cx="322.5" cy="1022.3" r="8.6" fill="#ffc400"/>
<circle cx="351.2" cy="1094" r="4.6" fill="#000"/><circle cx="351.6" cy="1085" r="4.3" fill="#ff0000"/>
<circle cx="332.8" cy="1133.3" r="9.2" fill="#ffc400"/>
<circle cx="351.9" cy="1133.3" r="9.2" fill="#ffc400"/>
<circle cx="372" cy="1133.3" r="9.2" fill="#ffc400"/>
<circle cx="351" cy="1111.4" r="9.8" fill="#cc3300"/>
<circle cx="323.2" cy="1133.3" r="9.2" fill="#ffc400"/>
<circle cx="342.3" cy="1133.3" r="9.2" fill="#ffc400"/>
<circle cx="361.4" cy="1133.3" r="9.2" fill="#ffc400"/>
<circle cx="381.5" cy="1133.3" r="9.2" fill="#ffc400"/>
</g>
<line x1="321" y1="1022.3" x2="351" y2="1022.3" stroke="#ff1010" stroke-width="2.2"/><polygon points="349,1018 359,1022.3 349,1026.6" fill="#ff1010"/>
<g stroke="#d8a8a8" stroke-width="1.8" stroke-dasharray="3,1.6"><line x1="316" y1="1039.7" x2="354.5" y2="1039.7"/><line x1="326" y1="1080" x2="366.6" y2="1080"/></g>
<text x="249.5" y="1043.7" font-size="16" textLength="42" lengthAdjust="spacingAndGlyphs" font-weight="bold" fill="#3a0000">Cu tip</text>
<text x="253" y="1111.4" font-size="15" textLength="68" lengthAdjust="spacingAndGlyphs" font-weight="bold" fill="#4a1000">CO-FePc</text>
<text x="327.5" y="1165" font-size="15.5" textLength="57.5" lengthAdjust="spacingAndGlyphs" font-weight="bold" fill="#4a1800">Cu(111)</text>
<text x="364.5" y="1026.4" font-size="11" font-weight="bold" fill="#200000">x</text>
<text x="341.5" y="1062.8" font-size="12" font-weight="bold" fill="#300000">z</text>
</g>
<g stroke="#444" stroke-width="1.2">
<line x1="71" y1="1324.8" x2="74" y2="1324.8"/>
<line x1="71" y1="1278.6" x2="74" y2="1278.6"/>
<line x1="71" y1="1232.5" x2="74" y2="1232.5"/>
<line x1="71" y1="1186.3" x2="74" y2="1186.3"/>
<line x1="71" y1="1140.2" x2="74" y2="1140.2"/>
<line x1="71" y1="1094" x2="74" y2="1094"/>
<line x1="71" y1="1047.9" x2="74" y2="1047.9"/>
<line x1="92.7" y1="1347.5" x2="92.7" y2="1350.5"/>
<line x1="139.3" y1="1347.5" x2="139.3" y2="1350.5"/>
<line x1="185.9" y1="1347.5" x2="185.9" y2="1350.5"/>
<line x1="232.5" y1="1347.5" x2="232.5" y2="1350.5"/>
<line x1="279.1" y1="1347.5" x2="279.1" y2="1350.5"/>
<line x1="325.7" y1="1347.5" x2="325.7" y2="1350.5"/>
<line x1="372.3" y1="1347.5" x2="372.3" y2="1350.5"/>
</g>
<text x="63" y="1336.3" font-size="35" text-anchor="end">0</text>
<text x="63" y="1244" font-size="35" text-anchor="end">1</text>
<text x="63" y="1151.7" font-size="35" text-anchor="end">2</text>
<text x="63" y="1059.4" font-size="35" text-anchor="end">3</text>
<text x="91.7" y="1385" font-size="35" text-anchor="middle">-6</text>
<text x="138.3" y="1385" font-size="35" text-anchor="middle">-4</text>
<text x="184.9" y="1385" font-size="35" text-anchor="middle">-2</text>
<text x="231.5" y="1385" font-size="35" text-anchor="middle">0</text>
<text x="278.1" y="1385" font-size="35" text-anchor="middle">2</text>
<text x="324.7" y="1385" font-size="35" text-anchor="middle">4</text>
<text x="371.3" y="1385" font-size="35" text-anchor="middle">6</text>
<text x="134.5" y="1418.3" font-size="35" textLength="215" lengthAdjust="spacingAndGlyphs">X distance (Å)</text>
<text transform="translate(29,1277) rotate(-90)" font-size="35" textLength="209" lengthAdjust="spacingAndGlyphs">Tip height (Å)</text>
<text x="23.5" y="992.4" font-size="55.5">h</text>
<line x1="174.6" y1="1285.8" x2="214" y2="1324" stroke="#ee1111" stroke-width="2.6"/>
<polygon points="233.7,1343.7 203.5,1333.6 223.6,1316" fill="#ff0000"/>
<rect x="390.8" y="796" width="44" height="327.7" fill="url(#jet)"/>
<text transform="translate(418,852) rotate(-90)" font-size="27" textLength="50" lengthAdjust="spacingAndGlyphs">high</text>
<text transform="translate(418,1114) rotate(-90)" font-size="27" textLength="43" lengthAdjust="spacingAndGlyphs">low</text>
<g fill="none" stroke-linejoin="round" stroke-linecap="round">
<path d="M567,693C572.5,693.1 589.7,693.2 600,693.5C610.3,693.8 619.6,693.5 628.6,694.9C637.6,696.3 647.2,698.9 654.3,701.7C661.4,704.6 665.7,708.3 671.4,712C677.1,715.7 683.7,721.7 688.6,724C693.5,726.3 695.8,726 700.6,725.7C705.5,725.4 711.1,722 717.7,722.3C724.3,722.6 733.1,725.1 740,727.4C746.9,729.7 754,732 758.9,736C763.8,740 765.4,746.8 769.1,751.4C772.8,756 778,759.1 781.1,763.4C784.2,767.7 784.9,771.1 788,777.1C791.1,783.1 795.7,794 800,799.4C804.3,804.8 809.1,806.6 813.7,809.7C818.3,812.9 823.4,815.1 827.4,818.3C831.4,821.4 834.6,826.8 837.7,828.6C840.9,830.5 843.4,830 846.3,829.4C849.2,828.8 852.5,826.2 855,825C857.5,823.8 858.1,822.4 861.4,821.9C864.7,821.4 870.3,821.5 874.8,822C879.2,822.5 882.7,826.5 888.1,824.8C893.5,823.1 901.6,815.5 907,812C912.4,808.5 916.4,805.5 920.5,803.8C924.6,802.1 928.1,803.8 931.9,802C935.7,800.2 939.8,797 943.3,793C946.8,789 949.4,785 952.9,778C956.4,771 961.4,754.3 964.3,751C967.1,747.7 966.8,758.7 970,758C973.2,757.3 979.2,750.4 983.3,747C987.4,743.6 991,739.4 994.8,737.5C998.6,735.6 1002.4,735.5 1006.2,735.5C1010,735.5 1013.8,737.8 1017.6,737.5C1021.4,737.2 1023.9,736.5 1029,733.5C1034.1,730.5 1042.7,723 1048.1,719.5C1053.5,716 1056.3,714.7 1061.4,712.8C1066.5,710.9 1072.6,709.6 1078.6,708C1084.6,706.4 1090.6,704.8 1097.6,703C1104.6,701.2 1113.3,698.3 1120.5,697C1127.7,695.7 1137.6,695.3 1141,695" stroke="#4a8fd0" stroke-width="3.6"/>
<polyline points="567,688 628.6,690.6 662.9,694.9 697.1,705.1 731.4,725.7 745.1,742.9 762.3,775.4 774.3,784.9 784.6,775.4 793.1,760 803.4,722.3 812,674.3 818,645 852.2,498.4 855.9,493.5 858.4,494.7 862,660 864.3,817.1 874.8,819 888.1,822.9 907.1,809.5 914.8,801 931.9,800 943.3,790.5 952.9,775.2 964.3,748.6 969,744.8 973.8,756.2 983.3,744.8 994.8,735.2 1006.2,733.3 1017.6,735.2 1029,731.4 1048.1,717.1 1061.4,710.5 1078.6,705.7 1097.6,701 1120.5,695.2 1141,693" stroke="#ee1111" stroke-width="3.6"/>
<polyline points="567,679.5 600,680 628.6,681.1 660,683.5 680,686.3 705.7,693.1 731.4,710.3 748.6,727.4 765.7,751.4 781.1,766.9 791.4,760 803.4,734.3 813.7,691.4 820,662 834,585 853.5,510.6 858.4,531.4 865.7,565.7 873,592.7 879,604 881.5,615 883,661 893.8,680 916.7,700 924.3,702.9 931.9,721.9 945.2,742.9 956.7,737.1 983.3,727.6 1002.4,720 1031,702.9 1059.5,693.3 1097.6,687.6 1141,682.5" stroke="#000" stroke-width="4.4"/>
<path d="M567,696.6C577.3,696.2 606.9,694.8 628.6,694.5C650.3,694.2 680,694.5 697.1,694.9C714.2,695.2 720,695.9 731.4,696.6C742.8,697.3 757.4,699.1 765.7,699.1C774,699.1 776.5,698.2 781.1,696.6C785.7,695 789.1,693.7 793.1,689.7C797.1,685.7 801.1,680 805.1,672.6C809.1,665.2 812.1,660.3 817.1,645.1C822.1,629.9 830.5,596.9 835.1,581.6C839.7,566.3 842.4,560.8 844.9,553.5C847.4,546.2 848.3,542.1 850,538C851.7,533.9 853.3,531.1 855,529C856.7,526.9 858.5,525.6 860.2,525.3C861.9,525 863.3,525.4 865,527C866.7,528.6 868.4,530.9 870.6,535.1C872.8,539.3 875.4,544.5 878,552.2C880.6,560 884.3,573.6 886.5,581.6C888.7,589.6 889.4,592.2 891.4,600C893.4,607.8 896.5,620.5 898.8,628.2C901,636 901.9,639.1 904.9,646.5C907.9,653.9 913.2,665.4 916.7,672.4C920.2,679.4 922.3,684.9 926.2,688.6C930.1,692.3 935.5,693 940,694.5C944.5,696 947.3,696.9 952.9,697.5C958.5,698.1 965.5,698.2 973.8,698C982,697.8 994.5,696.7 1002.4,696.2C1010.3,695.7 1004.9,695.4 1021.4,695.2C1037.9,695 1081.5,695 1101.4,695.2C1121.3,695.4 1134.4,696 1141,696.2" stroke="#000" stroke-width="4.6" stroke-dasharray="31,17" stroke-linecap="butt"/>
</g>
<rect x="564.6" y="473" width="581.9" height="399" fill="none" stroke="#000" stroke-width="3.8"/>
<g stroke-width="5" stroke-linecap="round">
<line x1="917" y1="496.1" x2="950" y2="496.1" stroke="#4a8fd0"/>
<line x1="917" y1="532.9" x2="950" y2="532.9" stroke="#ee1111"/>
<line x1="917" y1="600.7" x2="950" y2="600.7" stroke="#000" stroke-width="5.4"/>
<line x1="917" y1="631.4" x2="924.5" y2="631.4" stroke="#000" stroke-width="5.4"/>
<line x1="936" y1="631.4" x2="946.5" y2="631.4" stroke="#000" stroke-width="5.4"/>
</g>
<text x="961" y="505.7" font-size="27" textLength="53.5" lengthAdjust="spacingAndGlyphs">FePc</text>
<text x="965.5" y="537.9" font-size="27" textLength="122" lengthAdjust="spacingAndGlyphs">Transition,</text>
<text x="964.5" y="573.6" font-size="27" textLength="150" lengthAdjust="spacingAndGlyphs">’break point’</text>
<text x="955.5" y="609.3" font-size="27" textLength="98.5" lengthAdjust="spacingAndGlyphs">CO-FePc</text>
<text x="955.5" y="640" font-size="27" textLength="182.5" lengthAdjust="spacingAndGlyphs">Simulation, CO-</text>
<text x="956" y="674.3" font-size="27" textLength="157" lengthAdjust="spacingAndGlyphs">FePc(rescaled)</text>
<text x="551.5" y="528.6" font-size="27" text-anchor="end">10</text>
<text x="551.5" y="704.3" font-size="27" text-anchor="end">-10</text>
<text x="551.5" y="794.3" font-size="27" text-anchor="end">-20</text>
<text x="551.5" y="879.3" font-size="27" text-anchor="end">-30</text>
<text x="523" y="613.3" font-size="27">0</text>
<text x="561" y="906" font-size="35" text-anchor="middle">-7</text>
<text x="856" y="906" font-size="35" text-anchor="middle">0</text>
<text x="1145" y="906" font-size="35" text-anchor="middle">7</text>
<text x="749.5" y="943.8" font-size="35" textLength="215" lengthAdjust="spacingAndGlyphs">X distance (Å)</text>
<text transform="translate(498,856) rotate(-90)" font-size="35" textLength="313" lengthAdjust="spacingAndGlyphs">Frequency shift (Hz)</text>
<text x="433" y="511.3" font-size="53">f</text>
<g clip-path="url(#ci)" fill="none" stroke-linejoin="round" stroke-linecap="round">
<path d="M559.6,1045.6C561.6,1047.2 568.2,1055.3 571.6,1055.2C575,1055.1 577.3,1047.9 580,1045C582.7,1042.1 585.2,1037.2 588,1038C590.8,1038.8 593.7,1046.9 597,1050C600.3,1053.1 604.3,1057.2 607.6,1056.4C610.9,1055.6 613.6,1046.1 617,1045C620.4,1043.9 624.8,1047.5 628,1050C631.2,1052.5 633.4,1059.8 636.4,1060C639.4,1060.2 643,1048.6 646,1051C649,1053.4 651.8,1075.3 654.4,1074.4C657,1073.5 659.4,1046 661.6,1045.6C663.8,1045.2 664.2,1070.2 667.6,1072C671,1073.8 678.8,1055 682,1056.4C685.2,1057.8 685,1081.4 686.8,1080.4C688.6,1079.4 690.6,1049.8 692.8,1050.4C695,1051 696.6,1081.6 700,1084C703.4,1086.4 709.9,1066.8 713.2,1064.8C716.5,1062.8 716.2,1072.4 720,1072C723.8,1071.6 732.3,1062.4 736,1062.4C739.7,1062.4 739.7,1071.4 742,1072C744.3,1072.6 747,1064.6 750,1066C753,1067.4 757.1,1079 760,1080.4C762.9,1081.8 765.6,1072.6 767.4,1074.2C769.2,1075.8 769.1,1089.4 770.8,1089.9C772.4,1090.4 774.9,1077.8 777.1,1077.2C779.3,1076.6 781.5,1085.8 783.9,1086.2C786.2,1086.7 789.2,1079.6 791,1080.1C792.8,1080.6 792.5,1088.7 794.6,1089.1C796.6,1089.4 801.1,1083.3 803.2,1082.3C805.3,1081.4 805.4,1081.6 807.3,1083.4C809.1,1085.1 812.3,1093.1 814.4,1092.9C816.4,1092.7 817.5,1083.9 819.5,1082.1C821.5,1080.3 824.5,1079.8 826.4,1082.3C828.4,1084.8 829,1097 830.9,1096.9C832.8,1096.7 835.7,1081.3 838,1081.5C840.2,1081.6 842.2,1096.3 844.2,1097.9C846.2,1099.5 848.1,1093.6 850,1091C851.9,1088.4 853.9,1081.5 855.7,1082.5C857.5,1083.5 858.8,1097 860.7,1096.9C862.6,1096.9 865,1082.8 867,1082.3C869,1081.8 870.8,1093.7 873,1093.9C875.2,1094.1 878.2,1083.9 880.3,1083.3C882.4,1082.8 883.5,1091.8 885.7,1090.8C888,1089.9 891.8,1078.4 893.9,1077.6C896,1076.9 896.6,1086.7 898.3,1086.4C900.1,1086.2 902.1,1076.2 904.2,1076.1C906.2,1076 908.6,1086 910.6,1085.6C912.6,1085.3 914.2,1076 916.1,1073.8C918,1071.5 920.2,1070.6 922.1,1072.4C924.1,1074.2 925.9,1084.7 927.8,1084.3C929.7,1084 931.7,1071.1 933.8,1070.4C935.8,1069.7 937.8,1078.6 940.1,1080.2C942.4,1081.7 945.7,1081.5 947.6,1079.8C949.6,1078.1 950.3,1070 952,1070C953.8,1070 955.6,1080 958.1,1079.8C960.6,1079.6 964.6,1069.3 966.9,1069C969.3,1068.8 970.5,1079.4 972.2,1078.5C973.8,1077.6 975.1,1064 976.8,1063.7C978.6,1063.4 980.4,1075.8 982.6,1076.8C984.8,1077.9 987.8,1071.9 990,1070C992.2,1068.1 993.7,1067.1 995.8,1065.7C998,1064.4 1001.1,1061.1 1003,1062C1004.9,1063 1005.4,1069.4 1007.1,1071.5C1008.8,1073.7 1011.5,1074.9 1013.4,1074.9C1015.4,1074.9 1016.8,1074.2 1018.8,1071.5C1020.9,1068.8 1023.7,1058.6 1025.9,1058.4C1028.1,1058.1 1030.3,1070.7 1032.2,1070.1C1034,1069.5 1034.9,1055.6 1037.2,1054.7C1039.5,1053.7 1043.8,1064.7 1045.8,1064.5C1047.7,1064.2 1047.2,1052.6 1048.9,1053.2C1050.6,1053.8 1053.7,1067.8 1055.8,1068.1C1058,1068.3 1060,1054.9 1061.9,1054.6C1063.8,1054.2 1065.3,1066.2 1067.2,1066C1069.1,1065.7 1071.5,1053.3 1073.5,1053C1075.5,1052.7 1076.9,1064.8 1079.2,1064.1C1081.5,1063.3 1085,1049.2 1087.1,1048.4C1089.2,1047.7 1089.6,1059.7 1091.6,1059.5C1093.6,1059.3 1097,1047 1099,1047.2C1101,1047.3 1101.4,1060.4 1103.5,1060.5C1105.7,1060.6 1110.1,1048.2 1112.1,1047.7C1114.2,1047.2 1114.4,1057.8 1116.1,1057.5C1117.7,1057.2 1119.9,1045.7 1121.9,1045.7C1123.9,1045.6 1125.6,1057.2 1127.9,1057C1130.2,1056.9 1133.6,1046.1 1135.8,1044.6C1138,1043.1 1140.1,1047.4 1141,1048" stroke="#4a8fd0" stroke-width="3.6"/>
<path d="M559.6,1043.2C560.5,1044 563,1049.4 565,1048C567,1046.6 569.5,1033.8 571.6,1034.8C573.7,1035.8 575.2,1054.4 577.6,1054C580,1053.6 583,1033 586,1032.4C589,1031.8 592.9,1049.1 595.6,1050.4C598.3,1051.7 599.6,1039.8 602,1040C604.4,1040.2 607.7,1050.6 610,1051.6C612.3,1052.6 614,1046.2 616,1046C618,1045.8 620,1051.1 622,1050.4C624,1049.7 626,1043 628,1042C630,1041 632,1042.7 634,1044.4C636,1046.1 638,1049.8 640,1052C642,1054.2 643.4,1055.5 646,1057.6C648.6,1059.7 652.4,1064.1 655.6,1064.8C658.8,1065.5 661.6,1060.8 665,1062C668.4,1063.2 672.5,1072 676,1072C679.5,1072 683,1059.4 686,1062C689,1064.6 690.9,1086.3 694,1087.6C697.1,1088.9 701.6,1069.6 704.8,1069.6C708,1069.6 710.7,1085 713.2,1087.6C715.7,1090.2 717.6,1084.6 720,1085C722.4,1085.4 724.7,1088.6 727.6,1090C730.5,1091.4 734.3,1088.8 737.2,1093.6C740.1,1098.4 742.6,1116.4 744.9,1118.8C747.2,1121.2 748.3,1108.3 751,1108C753.7,1107.7 757.5,1110.5 761.2,1116.7C765,1122.9 770.9,1142.2 773.5,1145.3C776.1,1148.3 775,1134.7 777,1135C779,1135.3 780.5,1133.3 785.7,1147.3C790.9,1161.3 801.4,1197.4 808.2,1218.8C815,1240.2 820.7,1257.5 826.5,1275.9C832.3,1294.3 839.3,1315.8 842.9,1329C846.5,1342.2 846.3,1347.5 848,1355C849.7,1362.5 851.8,1372.2 853.1,1373.9C854.4,1375.6 855,1371.5 856,1365C857,1358.5 858,1365.6 859.2,1335.1C860.4,1304.6 861.9,1224.5 863.3,1182C864.6,1139.5 866.4,1099.4 867.3,1080C868.2,1060.6 867.7,1067.1 868.5,1065.4C869.3,1063.7 870.4,1070.9 872,1070C873.6,1069.1 876.3,1060.9 878.3,1060.2C880.3,1059.6 882.2,1066.1 883.9,1066.2C885.6,1066.4 886.8,1060 888.8,1061.2C890.7,1062.4 893.8,1073.6 895.6,1073.5C897.4,1073.4 897.9,1061 899.4,1060.6C900.9,1060.2 902.2,1070.7 904.4,1071C906.6,1071.3 910.2,1062.2 912.5,1062.5C914.7,1062.7 916.3,1073.3 917.8,1072.3C919.3,1071.2 919.9,1055.9 921.5,1056.2C923.1,1056.4 925.2,1074.1 927.4,1073.8C929.6,1073.5 932.8,1055.5 934.8,1054.4C936.9,1053.3 937.6,1067.2 939.5,1067C941.4,1066.8 944.2,1053.2 946.3,1053.2C948.3,1053.2 950.2,1066.1 951.7,1067C953.3,1067.9 953.8,1059.2 955.4,1058.6C957,1057.9 959.3,1063.8 961.4,1063.3C963.5,1062.8 965.9,1055.5 968,1055.7C970.1,1055.8 972.2,1064.3 974,1064.4C975.8,1064.5 976.8,1056 978.7,1056.3C980.7,1056.7 983.8,1066.1 985.7,1066.4C987.6,1066.6 988.2,1060.1 990,1058C991.8,1055.9 994.8,1053 996.4,1053.7C998.1,1054.4 997.9,1062.7 999.7,1062C1001.6,1061.2 1005.4,1051.5 1007.4,1049.4C1009.4,1047.2 1009.9,1047 1011.6,1049.1C1013.3,1051.1 1015.7,1061.9 1017.5,1061.6C1019.4,1061.4 1020.7,1049.8 1022.5,1047.5C1024.3,1045.2 1026.1,1046.2 1028.2,1047.7C1030.4,1049.1 1033.4,1055.4 1035.4,1056.2C1037.4,1057.1 1038.2,1054.9 1040,1053C1041.8,1051.1 1043.8,1048.5 1046,1045C1048.2,1041.5 1051.5,1031.7 1053.5,1032.2C1055.5,1032.7 1056.2,1047.4 1058,1048C1059.8,1048.6 1062,1035.7 1064,1036C1066,1036.3 1068,1049.3 1070,1050C1072,1050.7 1074.1,1040.3 1076,1040C1077.9,1039.7 1079.3,1047.5 1081.6,1048.2C1083.9,1048.9 1087.6,1045.4 1090,1044C1092.4,1042.6 1094.1,1044.4 1096,1040C1097.9,1035.6 1099.1,1016.5 1101.2,1017.5C1103.3,1018.5 1106.1,1043.3 1108.6,1045.7C1111.1,1048.1 1113.4,1033.6 1116,1032C1118.6,1030.4 1121.2,1038 1124,1036C1126.8,1034 1130.1,1020 1133,1020C1135.9,1020 1140.2,1033.2 1141.6,1035.9" stroke="#ee1111" stroke-width="3.6"/>
<path d="M559.6,1038.4C561.4,1036.4 567.4,1025.6 570.4,1026.4C573.4,1027.2 574.9,1044.6 577.6,1043.2C580.3,1041.8 584.2,1017.4 586.6,1018C589,1018.6 589.7,1044.6 592,1046.8C594.3,1049 597.8,1031.6 600.4,1031.2C603,1030.8 605.4,1044.6 607.6,1044.4C609.8,1044.2 611.6,1029.8 613.6,1030C615.6,1030.2 616.2,1045.1 619.6,1045.6C623,1046.1 630.4,1032.6 634,1033C637.6,1033.4 639,1046.3 641.2,1048C643.4,1049.7 644.8,1044.4 647.2,1043.2C649.6,1042 653.2,1037.6 655.6,1040.8C658,1044 659.4,1060.6 661.6,1062.4C663.8,1064.2 665,1051.4 668.8,1051.6C672.6,1051.8 680.4,1063.4 684.4,1063.6C688.4,1063.8 690.6,1049.2 692.8,1052.8C695,1056.4 695.4,1083.4 697.6,1085.2C699.8,1087 702.8,1065 706,1063.6C709.2,1062.2 713.2,1074.4 716.8,1076.8C720.4,1079.2 724.6,1076 727.6,1078C730.6,1080 732.6,1088.6 734.8,1088.8C737,1089 738.8,1077 740.8,1079.2C742.8,1081.4 744.4,1099.2 746.8,1102C749.2,1104.8 751.7,1094.5 755.1,1096.3C758.5,1098.1 764.2,1107.2 767.3,1112.7C770.4,1118.2 771.8,1129.3 773.5,1129C775.2,1128.7 775.9,1107.9 777.6,1110.6C779.3,1113.3 781.7,1140.2 783.7,1145.3C785.7,1150.4 787.4,1138.5 789.8,1141.2C792.2,1143.9 794.6,1152.1 798,1161.6C801.4,1171.1 807.2,1191.6 810.2,1198.4C813.2,1205.2 814.3,1194.2 816.3,1202.4C818.3,1210.6 820,1239.5 822.4,1247.3C824.8,1255.1 827.9,1240.6 830.6,1249.4C833.3,1258.2 836.8,1291.6 838.8,1300.4C840.8,1309.2 841.2,1297.3 842.9,1302.4C844.6,1307.5 846.6,1323.2 849,1331C851.4,1338.8 854.7,1348 857.1,1349.4C859.5,1350.8 861.2,1336.8 863.3,1339.2C865.3,1341.6 865.1,1367.3 869.4,1363.7C873.7,1360.1 884.4,1331.1 889.3,1317.6C894.2,1304.1 895.1,1294.5 898.6,1282.9C902.1,1271.3 907,1259.8 910.1,1248.2C913.2,1236.6 914.4,1223.1 917.1,1213.5C919.8,1203.9 923.2,1201.6 926.3,1190.4C929.4,1179.2 931.4,1156.1 935.6,1146.4C939.9,1136.8 948.3,1139.4 951.8,1132.5C955.3,1125.6 954.7,1109.7 956.4,1104.8C958.1,1099.9 959.3,1106.5 962,1103C964.7,1099.5 969.9,1085.8 972.6,1084C975.3,1082.2 975.7,1095.1 978,1092C980.3,1088.9 982.8,1071.8 986.5,1065.4C990.2,1059.1 996.8,1056.5 1000.4,1053.9C1004,1051.3 1005.7,1052.3 1008,1050C1010.3,1047.7 1012,1040.3 1014,1040C1016,1039.7 1017.3,1047.2 1020,1048C1022.7,1048.8 1027.9,1046.6 1030.4,1044.6C1032.9,1042.6 1033.4,1037 1035,1036C1036.6,1035 1038,1038.4 1040,1038.4C1042,1038.4 1045,1034.9 1047.3,1035.9C1049.5,1036.9 1051.5,1044.7 1053.5,1044.5C1055.5,1044.3 1057.8,1035.5 1059.6,1034.7C1061.3,1034 1062.3,1041.3 1064,1040C1065.7,1038.7 1068.1,1026.4 1070,1026.7C1071.9,1027 1073.8,1041.5 1075.5,1042C1077.2,1042.5 1078.6,1030 1080.4,1029.8C1082.2,1029.6 1084.7,1041 1086.5,1040.8C1088.3,1040.6 1089.6,1028.6 1091.4,1028.6C1093.2,1028.6 1095,1042.9 1097.5,1040.8C1100,1038.7 1103.8,1016.1 1106.7,1015.7C1109.6,1015.3 1111.9,1036.2 1114.7,1038.4C1117.5,1040.6 1121.1,1029.8 1123.3,1028.6C1125.5,1027.4 1126.2,1032 1128,1031C1129.8,1030 1132,1023.6 1134.3,1022.4C1136.6,1021.2 1140.4,1023.5 1141.6,1023.7" stroke="#000" stroke-width="4.2"/>
<path d="M560.8,1067.2C563.2,1066.2 570.2,1062.8 575,1061C579.8,1059.2 584,1057.4 589.6,1056.4C595.2,1055.4 600.8,1055.2 608.8,1055C616.8,1054.8 629.1,1054 637.6,1055C646.1,1056 651.3,1058 660,1061C668.7,1064 681.5,1068.8 690,1073C698.5,1077.2 705.3,1082.6 710.8,1086.4C716.3,1090.2 718.8,1091.8 722.8,1096C726.8,1100.2 730.2,1105 734.8,1111.6C739.4,1118.2 746.3,1129 750.4,1135.6C754.5,1142.2 755.7,1144.3 759.2,1151.4C762.7,1158.5 768.2,1170.6 771.4,1178C774.6,1185.4 775.5,1188.7 778.6,1196C781.7,1203.3 787.1,1214.7 789.8,1222C792.5,1229.3 792.2,1232.5 794.9,1240C797.6,1247.5 803.2,1259.5 806.1,1267C809,1274.5 809,1277.3 812.2,1285C815.4,1292.7 821.6,1305.2 825.5,1313C829.4,1320.8 832.5,1326.7 835.7,1332C839,1337.3 841.4,1341.8 845,1345C848.6,1348.2 852.7,1351.6 857.1,1351C861.5,1350.4 866,1347.2 871.4,1341.2C876.8,1335.2 885.1,1322.8 889.3,1315.3C893.4,1307.8 893.2,1303.3 896.3,1296C899.4,1288.7 903.9,1281 907.8,1271.3C911.6,1261.6 915.9,1248.2 919.4,1238C922.9,1227.8 924.8,1219.5 928.6,1210C932.5,1200.5 939,1188.6 942.5,1181.1C946,1173.6 945.8,1172.2 949.5,1164.9C953.2,1157.6 960.5,1144.5 964.5,1137.2C968.5,1129.9 969.2,1127.6 973.8,1121C978.4,1114.4 987.1,1103.8 992.3,1097.8C997.5,1091.8 998.6,1089.9 1005,1085.1C1011.4,1080.3 1023.1,1072.8 1030.4,1068.9C1037.7,1065.1 1040.8,1063.9 1048.9,1062C1057,1060.1 1071.7,1058.1 1079,1057.3C1086.3,1056.5 1085.2,1056.3 1092.9,1057.3C1100.6,1058.3 1117.3,1061.1 1125.3,1063.1C1133.3,1065 1138.4,1068 1141,1069" stroke="#000" stroke-width="4.6" stroke-dasharray="30,16" stroke-linecap="butt"/>
</g>
<rect x="558.5" y="977.5" width="584" height="401.2" fill="none" stroke="#000" stroke-width="3.8"/>
<g stroke-width="5" stroke-linecap="round">
<line x1="571" y1="1179.5" x2="603.5" y2="1179.5" stroke="#4a8fd0"/>
<line x1="571" y1="1215.4" x2="603.5" y2="1215.4" stroke="#ee1111"/>
<line x1="572.5" y1="1288.4" x2="605" y2="1288.4" stroke="#000" stroke-width="5.4"/>
<line x1="576" y1="1323.1" x2="583" y2="1323.1" stroke="#000" stroke-width="5.4"/>
<line x1="595.5" y1="1323.1" x2="602.5" y2="1323.1" stroke="#000" stroke-width="5.4"/>
</g>
<text x="625" y="1190.7" font-size="27" textLength="53.5" lengthAdjust="spacingAndGlyphs">FePc</text>
<text x="617.5" y="1225.1" font-size="27" textLength="122" lengthAdjust="spacingAndGlyphs">Transition,</text>
<text x="616.5" y="1259.5" font-size="27" textLength="150" lengthAdjust="spacingAndGlyphs">’break point’</text>
<text x="619.5" y="1296.2" font-size="27" textLength="97" lengthAdjust="spacingAndGlyphs">CO-FePc</text>
<text x="622" y="1331.4" font-size="27" textLength="183.5" lengthAdjust="spacingAndGlyphs">Simulation, CO-</text>
<text x="623.5" y="1367.3" font-size="27" textLength="168" lengthAdjust="spacingAndGlyphs">FePc(rescaled)</text>
<text x="553" y="1117" font-size="27" text-anchor="end">-10</text>
<text x="553" y="1256.5" font-size="27" text-anchor="end">-12</text>
<text x="553" y="1388.5" font-size="27" text-anchor="end">-14</text>
<text x="515.5" y="982.8" font-size="27">-8</text>
<text x="559" y="1412" font-size="35" text-anchor="middle">-5</text>
<text x="851" y="1412" font-size="35" text-anchor="middle">0</text>
<text x="1137" y="1412" font-size="35" text-anchor="middle">5</text>
<text x="743.5" y="1448" font-size="35" textLength="216" lengthAdjust="spacingAndGlyphs">X distance (Å)</text>
<text transform="translate(498,1364) rotate(-90)" font-size="35" textLength="311" lengthAdjust="spacingAndGlyphs">Frequency shift (Hz)</text>
<text x="448.3" y="992.4" font-size="52.5">i</text>
<g fill="#1f77b4"><circle cx="1301.7" cy="544" r="6.4"/><circle cx="1306.9" cy="478.1" r="6.4"/><circle cx="1312.2" cy="510.6" r="6.4"/><circle cx="1317.4" cy="497.6" r="6.4"/><circle cx="1323.4" cy="494.9" r="6.4"/><circle cx="1327.9" cy="483.7" r="6.4"/><circle cx="1332.4" cy="477" r="6.4"/><circle cx="1339.1" cy="472.4" r="6.4"/><circle cx="1345.1" cy="474" r="6.4"/><circle cx="1351.1" cy="479.2" r="6.4"/><circle cx="1355.6" cy="485.2" r="6.4"/><circle cx="1360" cy="492.7" r="6.4"/><circle cx="1366" cy="503.1" r="6.4"/><circle cx="1371.3" cy="515.1" r="6.4"/><circle cx="1376.5" cy="527.8" r="6.4"/><circle cx="1381.8" cy="540.5" r="6.4"/><circle cx="1387.5" cy="553.3" r="6.4"/><circle cx="1393" cy="567.5" r="6.4"/><circle cx="1398.2" cy="581" r="6.4"/><circle cx="1403.5" cy="594.9" r="6.4"/><circle cx="1409" cy="608.9" r="6.4"/><circle cx="1414.4" cy="623.6" r="6.4"/><circle cx="1419.9" cy="636.8" r="6.4"/><circle cx="1425.2" cy="650.5" r="6.4"/><circle cx="1430.5" cy="665.4" r="6.4"/><circle cx="1436.2" cy="679.6" r="6.4"/><circle cx="1441.4" cy="693.1" r="6.4"/><circle cx="1446.9" cy="706.6" r="6.4"/><circle cx="1452.2" cy="720.3" r="6.4"/><circle cx="1457.7" cy="734.1" r="6.4"/><circle cx="1463.1" cy="747.6" r="6.4"/><circle cx="1468.3" cy="760.7" r="6.4"/><circle cx="1473.9" cy="775.4" r="6.4"/><circle cx="1479.1" cy="789.5" r="6.4"/><circle cx="1484.7" cy="802.6" r="6.4"/><circle cx="1489.6" cy="814.6" r="6.4"/><circle cx="1494.8" cy="824.3" r="6.4"/></g>
<path d="M1494.8,824.3C1495.8,825.9 1498.3,830.1 1500.8,834C1503.3,837.9 1506.3,843 1509.8,847.5C1513.3,852 1518.6,857.8 1521.8,861C1525,864.2 1526.6,865 1529,866.5C1531.4,868 1533.8,869.4 1536,870.3C1538.2,871.1 1540,871.6 1542,871.6C1544,871.6 1545.8,871.3 1548,870.4C1550.2,869.5 1552.8,868.1 1555,866.2C1557.2,864.3 1558.4,862.2 1561.4,859C1564.4,855.8 1568.9,851.5 1572.9,847.1C1577,842.8 1581.9,837.2 1585.7,832.9C1589.5,828.6 1592.1,824.7 1595.7,821.4C1599.3,818.1 1602.8,816 1607.1,812.9C1611.4,809.8 1617.1,806.5 1621.4,802.9C1625.7,799.3 1629.1,795.2 1632.9,791.4C1636.7,787.6 1640,783.6 1644.3,780C1648.6,776.4 1654.8,772.6 1658.6,770C1662.4,767.4 1663.8,766.7 1667.1,764.3C1670.4,761.9 1675,758.6 1678.6,755.7C1682.2,752.8 1685.3,749 1688.6,747.1C1691.9,745.2 1694.8,745.2 1698.6,744.3C1702.4,743.4 1709.3,742.1 1711.4,741.7" stroke="#1f77b4" stroke-width="12.8" fill="none" stroke-linecap="round" stroke-linejoin="round"/>
<rect x="1281.3" y="453.6" width="450.7" height="438.8" fill="none" stroke="#000" stroke-width="4.4"/>
<g stroke="#000" stroke-width="2.2">
<line x1="1276.5" y1="453.4" x2="1281" y2="453.4"/>
<line x1="1276.5" y1="546.8" x2="1281" y2="546.8"/>
<line x1="1276.5" y1="640.2" x2="1281" y2="640.2"/>
<line x1="1276.5" y1="733.6" x2="1281" y2="733.6"/>
<line x1="1276.5" y1="827" x2="1281" y2="827"/>
<line x1="1302" y1="892.5" x2="1302" y2="897"/>
<line x1="1409.5" y1="892.5" x2="1409.5" y2="897"/>
<line x1="1517" y1="892.5" x2="1517" y2="897"/>
<line x1="1624.5" y1="892.5" x2="1624.5" y2="897"/>
<line x1="1732" y1="892.5" x2="1732" y2="897"/>
</g>
<text x="1272.5" y="464.2" font-size="27" text-anchor="end">300</text>
<text x="1272.5" y="557.6" font-size="27" text-anchor="end">200</text>
<text x="1272.5" y="651" font-size="27" text-anchor="end">100</text>
<text x="1272.5" y="744.4" font-size="27" text-anchor="end">0</text>
<text x="1272.5" y="837.8" font-size="27" text-anchor="end">-100</text>
<text x="1302.5" y="924.5" font-size="35" text-anchor="middle">0</text>
<text x="1410" y="924.5" font-size="35" text-anchor="middle">1</text>
<text x="1517.5" y="924.5" font-size="35" text-anchor="middle">2</text>
<text x="1625" y="924.5" font-size="35" text-anchor="middle">3</text>
<text x="1732.5" y="924.5" font-size="35" text-anchor="middle">4</text>
<text x="1410.5" y="951" font-size="35" textLength="211" lengthAdjust="spacingAndGlyphs">Z distance (Å)</text>
<text transform="translate(1213,762) rotate(-90)" font-size="35" textLength="161" lengthAdjust="spacingAndGlyphs">Force (pN)</text>
<text x="1171" y="510.5" font-size="50">g</text>
<line x1="1360" y1="599" x2="1322" y2="563" stroke="#ff1010" stroke-width="2.6"/>
<polygon points="1305.4,551 1336.1,559.2 1315.9,580.2" fill="#ff0000"/>
<g fill="#1f77b4"><circle cx="1296.3" cy="996" r="6.4"/><circle cx="1302.1" cy="1383.4" r="6.4"/><circle cx="1307.3" cy="1362.7" r="6.4"/><circle cx="1312.7" cy="1313" r="6.4"/><circle cx="1318.3" cy="1292.9" r="6.4"/><circle cx="1323.5" cy="1274.7" r="6.4"/><circle cx="1329" cy="1255.8" r="6.4"/><circle cx="1334.3" cy="1242" r="6.4"/><circle cx="1339.8" cy="1233.1" r="6.4"/><circle cx="1345" cy="1221.2" r="6.4"/><circle cx="1350.6" cy="1206.9" r="6.4"/><circle cx="1355.9" cy="1188.2" r="6.4"/><circle cx="1362" cy="1173.7" r="6.4"/><circle cx="1383.1" cy="1141.6" r="6.4"/><circle cx="1663.8" cy="995.7" r="6.4"/><circle cx="1668.4" cy="982.7" r="6.4"/><circle cx="1673.5" cy="988.8" r="6.4"/><circle cx="1683.7" cy="981.6" r="6.4"/><circle cx="1679.6" cy="1001.5" r="6.4"/></g>
<polyline points="1362,1173.7 1370,1167 1377.6,1161.2" stroke="#1f77b4" stroke-width="12.8" fill="none" stroke-linecap="round" stroke-linejoin="round"/>
<polyline points="1387,1129.1 1396,1121 1405.8,1111.9 1410.5,1101.7 1415.2,1091.5 1423,1086.1 1431.6,1091.5 1440.2,1085.3 1446.5,1072 1457.4,1061 1463.7,1063.4 1471.5,1068.8 1484,1055.5 1493.4,1054 1499.3,1051.7 1502.3,1044.5 1509.5,1035.3 1514.7,1029.1 1517.8,1021.9 1524,1017.8 1529.1,1017.8 1534.2,1022.9 1540.4,1020.9 1543.5,1010.6 1550.7,1010.1 1551.7,1015.7 1555.8,1021.4" stroke="#1f77b4" stroke-width="12.8" fill="none" stroke-linecap="round" stroke-linejoin="round"/>
<polyline points="1558.9,1036.3 1566.1,1041.4 1573.3,1035.3 1576.4,1026 1587.7,1032.2 1594.9,1025 1597,1016.7 1604.2,1012.6 1609.3,1019.8 1619.6,1015.7 1630.9,1018.8 1641.2,1013.7 1646.3,1022.9 1652.5,1022.9 1656.6,1014.7 1657.7,1013.3" stroke="#1f77b4" stroke-width="12.8" fill="none" stroke-linecap="round" stroke-linejoin="round"/>
<polyline points="1668.4,982.7 1673.5,988.8" stroke="#1f77b4" stroke-width="12.8" fill="none" stroke-linecap="round" stroke-linejoin="round"/>
<rect x="1277.9" y="965" width="450.1" height="438.5" fill="none" stroke="#000" stroke-width="4.2"/>
<g stroke="#000" stroke-width="2.2">
<line x1="1273" y1="995.5" x2="1277.5" y2="995.5"/>
<line x1="1273" y1="1047.5" x2="1277.5" y2="1047.5"/>
<line x1="1273" y1="1099.5" x2="1277.5" y2="1099.5"/>
<line x1="1273" y1="1151.5" x2="1277.5" y2="1151.5"/>
<line x1="1273" y1="1203.5" x2="1277.5" y2="1203.5"/>
<line x1="1273" y1="1255.5" x2="1277.5" y2="1255.5"/>
<line x1="1273" y1="1307.5" x2="1277.5" y2="1307.5"/>
<line x1="1273" y1="1359.5" x2="1277.5" y2="1359.5"/>
<line x1="1296.3" y1="1403.5" x2="1296.3" y2="1408"/>
<line x1="1404.2" y1="1403.5" x2="1404.2" y2="1408"/>
<line x1="1512.1" y1="1403.5" x2="1512.1" y2="1408"/>
<line x1="1620" y1="1403.5" x2="1620" y2="1408"/>
<line x1="1727.9" y1="1403.5" x2="1727.9" y2="1408"/>
</g>
<text x="1269" y="1005.4" font-size="27" text-anchor="end">0</text>
<text x="1267" y="1109.4" font-size="27" text-anchor="end">-40</text>
<text x="1267" y="1213.4" font-size="27" text-anchor="end">-80</text>
<text x="1267" y="1316.9" font-size="27" text-anchor="end">-120</text>
<text x="1267" y="1408.4" font-size="27" text-anchor="end">-160</text>
<text x="1295.8" y="1437" font-size="35" text-anchor="middle">0</text>
<text x="1403.7" y="1437" font-size="35" text-anchor="middle">1</text>
<text x="1511.6" y="1437" font-size="35" text-anchor="middle">2</text>
<text x="1619.5" y="1437" font-size="35" text-anchor="middle">3</text>
<text x="1727.4" y="1437" font-size="35" text-anchor="middle">4</text>
<text x="1412.5" y="1461" font-size="35" textLength="211" lengthAdjust="spacingAndGlyphs">Z distance (Å)</text>
<text transform="translate(1212,1278) rotate(-90)" font-size="35" textLength="163" lengthAdjust="spacingAndGlyphs">Force (pN)</text>
<text x="1181.5" y="991.3" font-size="50.5">j</text>
<line x1="1387" y1="1372" x2="1330" y2="1380" stroke="#ff1010" stroke-width="2.6"/>
<polygon points="1306.6,1383.4 1331.2,1366.6 1335.7,1393.8" fill="#ff0000"/>
</svg>
</body></html>
